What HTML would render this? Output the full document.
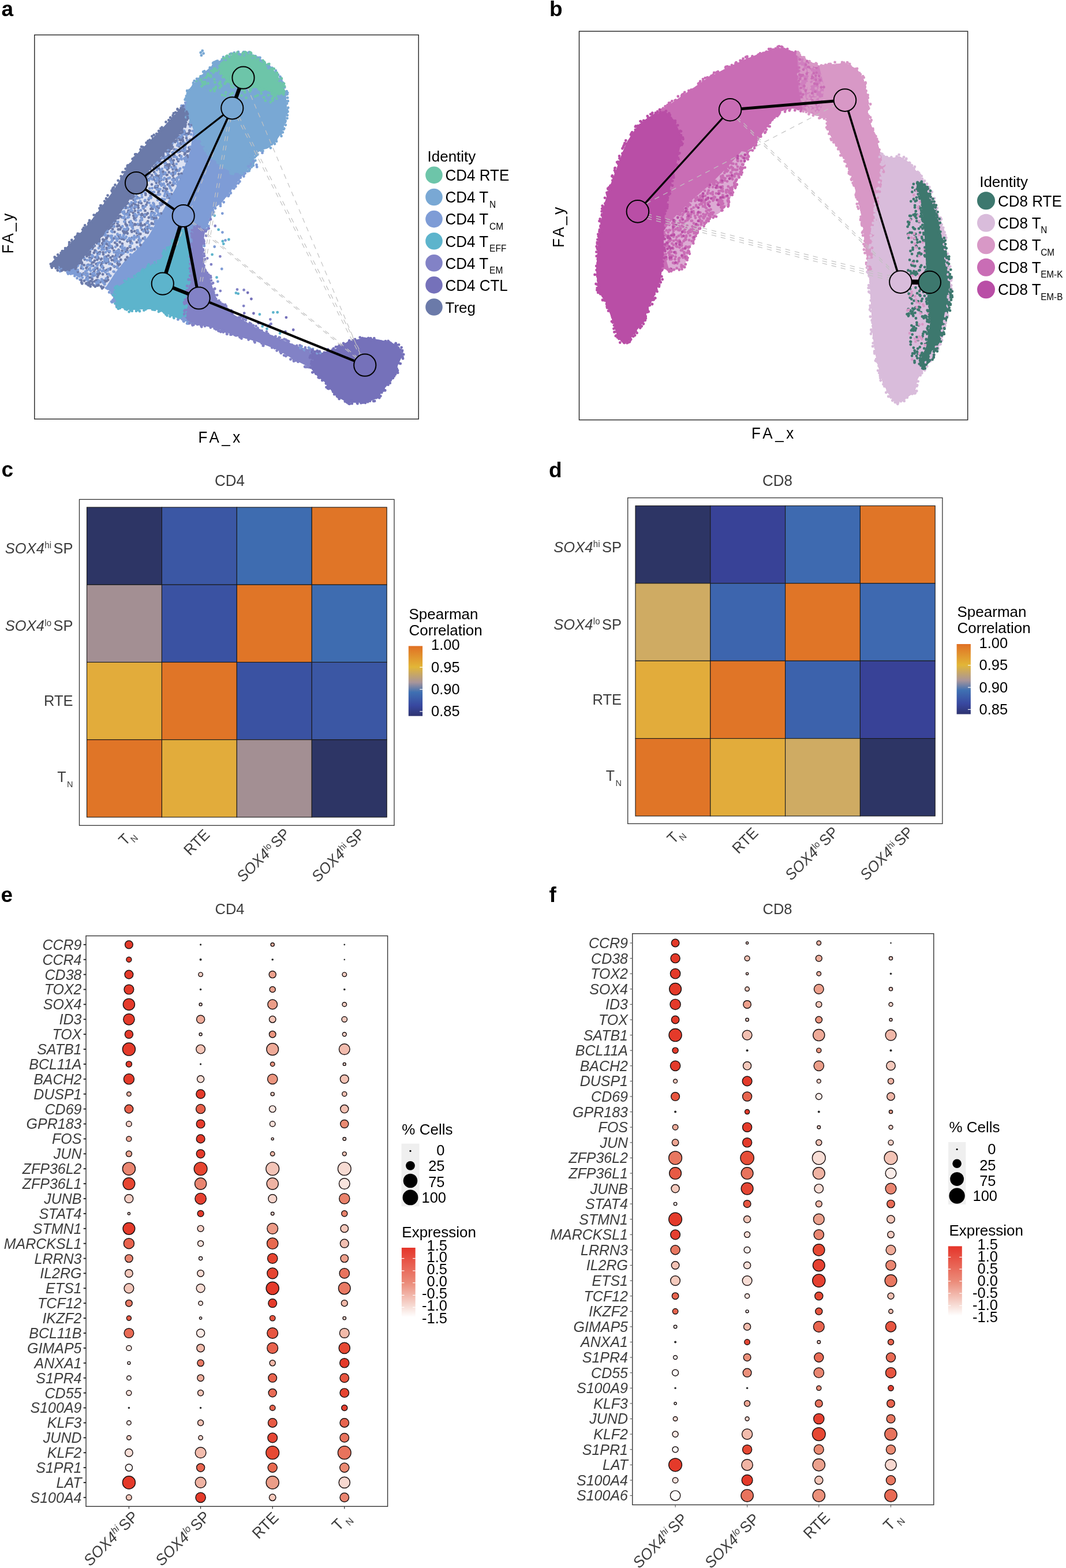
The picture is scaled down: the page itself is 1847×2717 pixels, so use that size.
<!DOCTYPE html>
<html><head><meta charset="utf-8"><title>Figure</title>
<style>
html,body{margin:0;padding:0;background:#fff;width:1847px;height:2717px;overflow:hidden;}
svg{display:block;}
text{font-family:"Liberation Sans", Arial, Helvetica, sans-serif;}
.c{transform-box:fill-box;transform-origin:50% 62%;transform:scaleY(1.04);}
</style></head><body>
<svg xmlns="http://www.w3.org/2000/svg" width="1847" height="2717" viewBox="0 0 1847 2717">
<rect x="0" y="0" width="1847" height="2717" fill="#fff"/>
<rect x="59.8" y="60.5" width="665.4" height="665.6" fill="none" stroke="#222" stroke-width="1.4"/>
<path d="M394.0,99.0 L409.5,92.3 L432.3,93.3 L455.0,104.7 L474.0,121.8 L487.3,140.8 L495.0,159.7 L496.8,184.4 L495.0,209.0 L489.0,228.0 L477.8,245.2 L464.5,256.6 L451.3,260.4 L440.0,270.0 L440.5,280.0 L421.5,302.8 L402.5,327.5 L383.5,352.1 L370.2,361.6 L362.7,378.7 L355.0,401.5 L351.3,424.3 L351.3,447.1 L355.0,462.3 L362.7,481.3 L368.4,498.3 L376.0,519.2 L406.0,545.8 L444.0,568.6 L481.9,586.3 L519.9,601.5 L557.8,611.6 L583.2,604.0 L603.4,591.4 L633.8,585.0 L659.1,588.9 L679.4,594.0 L692.0,601.5 L697.0,616.7 L689.5,631.9 L684.4,652.2 L666.7,672.4 L654.0,690.0 L633.8,697.7 L603.4,697.7 L583.2,687.6 L570.5,672.4 L562.9,662.3 L550.3,652.2 L537.6,637.0 L507.2,621.8 L481.9,606.6 L444.0,591.4 L406.0,581.3 L380.6,571.1 L350.3,563.5 L335.3,562.3 L306.8,550.9 L287.8,543.3 L268.8,535.7 L249.9,535.7 L225.2,537.6 L204.3,531.9 L194.8,520.5 L196.7,511.0 L183.4,497.7 L166.3,495.8 L147.3,494.0 L139.7,482.5 L122.7,473.0 L113.2,469.2 L98.0,465.4 L86.6,457.8 L98.0,445.8 L113.2,430.6 L132.1,411.6 L149.2,392.6 L166.3,371.8 L181.5,350.9 L196.7,330.0 L211.9,305.3 L227.1,280.6 L240.4,263.5 L259.4,244.6 L278.3,225.6 L297.3,204.7 L314.4,185.7 L322.1,178.7 L324.0,165.4 L329.7,152.1 L341.1,138.9 L356.3,123.7 L373.4,108.5 Z" fill="#7e9cd6"/>
<path d="M394.0,99.0 L409.5,92.3 L432.3,93.3 L455.0,104.7 L474.0,121.8 L487.3,140.8 L495.0,159.7 L496.8,184.4 L495.0,209.0 L489.0,228.0 L477.8,245.2 L464.5,256.6 L451.3,260.4 L440.0,270.0 L440.5,280.0 L425.0,298.0 L405.0,300.0 L385.0,290.0 L365.0,270.0 L345.0,240.0 L330.0,215.0 L322.0,195.0 L322.1,178.7 L324.0,165.4 L329.7,152.1 L341.1,138.9 L356.3,123.7 L373.4,108.5 Z" fill="#79a8d4"/>
<path d="M379.0,114.0 L386.7,104.7 L394.0,99.0 L409.5,92.3 L432.3,93.3 L455.0,104.7 L474.0,121.8 L487.3,140.8 L495.0,159.7 L483.5,165.4 L458.8,156.0 L439.9,152.0 L421.0,154.0 L394.3,142.7 L383.0,127.5 Z" fill="#6dc5a9"/>
<path d="M326.0,200.0 L335.0,225.0 L330.0,260.0 L318.0,294.0 L305.0,325.0 L290.0,351.0 L274.0,380.0 L258.0,408.0 L240.0,430.0 L218.0,450.0 L200.0,472.0 L183.4,497.7 L166.3,495.8 L147.3,494.0 L139.7,482.5 L132.0,463.5 L145.0,446.0 L160.0,428.0 L177.7,408.0 L200.0,380.0 L221.0,351.0 L240.0,322.0 L259.0,294.0 L285.0,265.0 L307.0,237.0 L318.0,222.0 Z" fill="#dde2f2"/>
<path d="M182.2 486.0h0M275.0 291.5h0M268.9 325.0h0M319.8 267.5h0M217.4 403.2h0M172.2 437.3h0M282.0 350.3h0M173.7 488.7h0M195.3 444.1h0M286.4 287.8h0M216.7 398.1h0M324.6 243.6h0M329.7 242.2h0M157.1 487.1h0M318.7 257.5h0M144.7 473.9h0M184.2 422.5h0M314.4 300.9h0M187.3 485.1h0M277.5 294.2h0M169.1 438.9h0M205.5 432.9h0M284.8 273.6h0M233.2 411.3h0M216.6 384.7h0M156.6 450.3h0M207.7 419.7h0M179.0 440.7h0M170.5 489.7h0M207.6 457.8h0M253.7 394.0h0M198.4 401.9h0M173.3 436.8h0M243.7 390.3h0M273.2 322.0h0M172.0 416.7h0M298.5 320.9h0M244.0 390.7h0M316.7 226.5h0M258.3 310.4h0M319.9 232.4h0M328.3 258.7h0M157.7 480.8h0M142.8 475.7h0M164.5 433.9h0M182.2 415.8h0M243.7 386.7h0M250.3 326.7h0M265.7 333.0h0M257.6 345.7h0M179.8 427.3h0M290.3 336.4h0M221.7 351.9h0M159.6 455.1h0M297.4 257.7h0M165.5 434.7h0M320.9 219.5h0M203.2 425.1h0M164.2 466.9h0M187.8 442.8h0M318.7 262.0h0M313.8 250.2h0M239.7 389.4h0M205.0 459.9h0M244.7 372.7h0M212.0 437.5h0M287.2 331.7h0M167.9 421.4h0M266.7 293.1h0M313.8 239.3h0M250.5 375.4h0M322.1 272.5h0M290.8 319.7h0M262.9 367.4h0M203.1 392.2h0M280.9 274.0h0M255.4 350.9h0M226.4 420.8h0M220.5 434.7h0M176.1 462.0h0M179.9 421.5h0M198.4 462.0h0M279.1 369.8h0M316.9 243.0h0M251.9 308.2h0M323.7 231.9h0M277.3 309.6h0M288.9 303.2h0M275.0 360.1h0M176.0 456.7h0M150.5 444.1h0M173.0 426.9h0M231.6 346.3h0M293.7 254.9h0M300.9 277.6h0M149.5 464.5h0M185.4 468.3h0M311.4 269.5h0M225.6 358.2h0M263.2 303.7h0M221.1 430.3h0M193.2 409.3h0M303.3 246.0h0M170.4 490.3h0M327.4 230.3h0M233.6 388.3h0M254.6 320.5h0M219.3 370.9h0M284.1 325.4h0M178.4 415.0h0M217.2 432.9h0M224.4 385.0h0M215.1 401.0h0M320.8 254.5h0M329.8 211.4h0M248.6 361.1h0M277.6 352.5h0M324.4 262.5h0M270.9 316.8h0M273.7 304.8h0M294.7 316.7h0M260.8 339.7h0M157.4 448.2h0M204.0 453.2h0M278.5 283.7h0M261.4 396.3h0M289.6 303.1h0M163.0 469.1h0M302.3 258.8h0M272.6 358.0h0M282.6 330.6h0M233.1 360.6h0M246.2 398.1h0M302.6 311.6h0M255.8 403.2h0M258.9 300.8h0M306.9 309.0h0M228.3 356.5h0M288.4 262.7h0M191.5 446.4h0M292.8 298.5h0M251.0 389.0h0M170.6 474.3h0M255.6 395.9h0M256.2 383.6h0M253.1 402.7h0M224.9 427.0h0M206.9 444.9h0M219.4 391.1h0M321.6 216.3h0M156.1 441.2h0M210.6 376.2h0M328.2 226.2h0M308.5 238.4h0M181.2 418.4h0M276.0 337.1h0M321.3 275.6h0M248.7 330.6h0M293.9 308.1h0M262.9 387.5h0M300.0 298.8h0M271.0 379.2h0M187.6 453.4h0M293.9 259.7h0M269.6 338.5h0M237.9 341.9h0M274.3 308.0h0M246.6 319.8h0M230.7 368.9h0M185.1 432.0h0M246.6 390.7h0M164.4 487.5h0M320.3 265.7h0M312.4 241.6h0M259.6 334.7h0M201.0 445.0h0M228.9 387.0h0M308.8 279.3h0M187.0 449.9h0M315.3 234.0h0M330.7 216.9h0M319.8 229.0h0M190.8 466.8h0M214.8 414.8h0M200.0 450.6h0M135.1 471.0h0M300.8 309.3h0M237.5 332.7h0M307.7 295.6h0M276.4 313.5h0M232.4 352.8h0M239.7 360.0h0M253.7 371.6h0M238.2 409.2h0M152.9 458.9h0M306.8 243.8h0M165.4 445.9h0M217.4 450.0h0M321.7 274.2h0M217.7 388.4h0M160.3 488.7h0M186.0 402.0h0M226.7 358.9h0M255.8 369.7h0M276.2 337.2h0M243.3 382.4h0M203.6 456.6h0M145.6 459.4h0M177.7 485.6h0M269.1 383.5h0M237.1 419.9h0M228.5 433.7h0M157.8 459.2h0M250.9 348.2h0M216.8 433.3h0M225.0 415.3h0M197.4 434.3h0M248.8 373.1h0M149.8 473.9h0M197.7 451.1h0M237.0 404.0h0M252.7 304.5h0M246.0 370.9h0M297.6 250.8h0M154.4 466.3h0M254.4 305.1h0M291.9 291.3h0M193.8 450.7h0M251.0 398.9h0M263.3 358.2h0M163.8 426.1h0M197.5 413.0h0M140.9 477.1h0M305.5 293.7h0M324.8 272.3h0M211.1 413.9h0M292.9 272.5h0M169.9 489.2h0M299.6 304.6h0M186.7 448.6h0M278.7 312.2h0M326.6 261.9h0M184.9 467.8h0M251.3 309.6h0M175.1 459.7h0M288.7 314.6h0M265.5 369.0h0M304.8 295.6h0M277.5 284.1h0M306.8 239.3h0M182.4 452.1h0M203.5 387.2h0M195.1 390.0h0M168.5 449.9h0M247.7 413.3h0M270.9 303.9h0M289.6 285.2h0M140.7 454.3h0M292.7 262.6h0M211.9 422.5h0M300.2 283.7h0M150.3 481.7h0M273.7 327.5h0M295.6 277.8h0M261.4 361.9h0M311.6 242.2h0M267.3 378.2h0M225.6 428.1h0M274.4 333.4h0M262.8 386.9h0M320.1 250.2h0M282.7 297.3h0M169.5 445.7h0M300.8 271.3h0M328.9 226.7h0M266.3 353.2h0M221.1 398.3h0M222.0 367.7h0M229.6 392.7h0M266.1 310.7h0M249.9 324.0h0M239.6 368.1h0M168.6 465.0h0M307.0 275.5h0M236.2 375.2h0M300.5 316.7h0M166.8 485.8h0M159.8 431.1h0M192.9 410.6h0M308.8 250.0h0M283.3 301.6h0M207.7 419.5h0M294.5 255.2h0M271.5 313.4h0M161.3 460.6h0M241.3 405.3h0M164.1 451.6h0M249.1 315.5h0M247.5 357.2h0M260.8 308.0h0M189.2 436.8h0M270.3 290.5h0M235.3 389.1h0M222.4 369.3h0M194.6 416.3h0M289.2 327.5h0M186.4 409.7h0M171.9 418.5h0M309.7 301.6h0M214.3 402.1h0M259.1 299.6h0M232.4 378.0h0M279.0 298.0h0M161.0 428.4h0M150.2 442.3h0M217.9 360.4h0M251.5 365.2h0M265.4 379.1h0M199.2 420.6h0M184.3 411.8h0M194.8 430.0h0M323.0 239.3h0M178.3 425.2h0M233.9 365.3h0M168.9 479.8h0M168.0 419.6h0M319.1 248.3h0M181.2 492.4h0M233.3 389.4h0M201.9 438.3h0M315.4 232.1h0M263.0 319.6h0M246.5 322.0h0M173.3 426.0h0M186.3 423.7h0M299.0 284.1h0M312.9 248.1h0M270.6 377.9h0M224.0 372.4h0M311.2 262.5h0M311.4 307.3h0M169.0 457.2h0M317.1 244.9h0M310.4 235.9h0M281.9 349.1h0M280.5 281.3h0M264.6 361.9h0M243.4 405.5h0M277.7 318.9h0M320.0 275.8h0M256.0 312.2h0M155.6 451.0h0M197.8 392.4h0M235.6 376.3h0M208.9 412.0h0M256.4 401.6h0M197.4 387.2h0M278.5 355.4h0M160.8 476.1h0M239.3 356.0h0M204.4 439.1h0M237.8 334.8h0M181.1 448.3h0M306.4 260.0h0M217.9 435.9h0M257.4 310.6h0M206.5 412.1h0M170.9 489.2h0M276.5 310.9h0M267.1 298.1h0M252.3 337.7h0M231.7 352.4h0M282.3 319.6h0M272.3 324.4h0M183.8 455.7h0M244.8 352.1h0M193.8 458.0h0M231.3 373.8h0M206.2 438.6h0M172.7 473.7h0M215.0 368.2h0M293.6 286.8h0M252.2 335.3h0M220.0 390.3h0M141.9 456.8h0M168.6 474.6h0M233.1 400.6h0M269.0 287.8h0M174.8 449.6h0M161.6 473.2h0M301.7 287.4h0M163.3 471.5h0M197.9 450.5h0M162.8 438.0h0M226.3 416.8h0M219.3 402.1h0M155.2 446.6h0M156.8 474.9h0M202.6 423.4h0M178.1 475.3h0M291.9 288.8h0M208.1 397.4h0M151.1 461.7h0M240.7 350.9h0M191.3 465.1h0M201.4 441.3h0M292.7 342.8h0M233.0 432.0h0M277.6 304.0h0M164.9 487.5h0M159.4 446.6h0M220.4 445.7h0M155.5 488.3h0M291.9 275.0h0M302.2 269.1h0M276.2 316.7h0M299.6 320.9h0M301.8 301.1h0M154.5 441.8h0M217.0 380.0h0M187.0 408.7h0M221.7 396.8h0M299.1 254.8h0M187.1 485.1h0M170.5 447.3h0M296.3 274.7h0M258.7 332.2h0M266.2 388.1h0M330.2 217.0h0M245.2 333.3h0M159.8 483.7h0M313.0 243.0h0M251.3 371.7h0M189.0 427.0h0M269.3 313.3h0M272.2 282.6h0M327.3 255.7h0M290.1 293.7h0M162.9 425.4h0M227.5 366.3h0M184.7 429.6h0M322.8 279.0h0M243.4 424.4h0M269.6 322.9h0M194.3 391.9h0M282.7 301.7h0M211.7 439.9h0M237.8 399.3h0M315.0 239.8h0M249.3 320.2h0M302.2 245.0h0M310.4 239.1h0M299.3 281.3h0M205.0 408.2h0M146.7 449.6h0M222.5 365.2h0M293.1 262.2h0M281.4 353.7h0M289.8 340.3h0M293.3 341.8h0M220.7 418.0h0M210.0 441.7h0M250.8 312.8h0M291.6 338.0h0M140.8 464.7h0M197.6 385.9h0M181.4 469.7h0M250.9 389.4h0M275.5 330.9h0M213.2 400.3h0M211.6 434.6h0M151.0 490.6h0M320.9 265.4h0M153.1 489.7h0M257.8 377.0h0M296.7 336.3h0M154.4 490.7h0M193.5 427.0h0M253.5 354.8h0M256.0 393.1h0M310.3 253.5h0M178.8 463.8h0M299.6 293.4h0M259.3 309.3h0M263.9 360.3h0M328.4 226.7h0M184.8 413.1h0M220.9 404.5h0M284.9 274.0h0M184.7 487.1h0M262.6 376.0h0M265.2 378.0h0M273.1 290.5h0M271.6 281.4h0M215.0 405.3h0M222.3 416.8h0M151.3 477.5h0M201.5 447.8h0M177.9 454.5h0M170.6 469.4h0M251.2 396.8h0M151.7 492.6h0M209.8 394.2h0M292.0 274.9h0M293.6 284.9h0M209.3 427.7h0M206.2 391.0h0M301.8 269.9h0M177.1 421.6h0M154.3 480.9h0M166.6 457.4h0M185.9 475.1h0M225.6 417.7h0M266.6 307.5h0M156.3 493.0h0M227.5 420.4h0M233.3 380.1h0M324.5 269.4h0M228.8 352.3h0M175.9 448.3h0M224.2 367.3h0M326.9 244.4h0M186.6 480.4h0M317.7 231.0h0M227.8 400.1h0M228.5 401.8h0M168.6 485.3h0M291.5 269.3h0M179.2 418.9h0M205.0 397.5h0M275.0 330.2h0M328.2 258.4h0M287.5 289.6h0M183.9 444.6h0M240.6 416.0h0M273.4 278.3h0M170.2 476.6h0M210.2 413.5h0M178.6 437.3h0M292.6 268.8h0M218.0 358.7h0M315.1 260.9h0M195.2 397.2h0M177.9 429.6h0M162.7 477.4h0M234.9 355.2h0M205.7 413.2h0M228.8 412.1h0M288.4 310.6h0M316.7 238.4h0M226.6 384.4h0M327.6 215.3h0M190.5 428.6h0M287.3 326.8h0M181.3 489.3h0M326.5 231.9h0M297.1 300.9h0M162.2 454.4h0M283.2 301.7h0M198.4 452.6h0M298.2 279.2h0M285.4 272.7h0M209.3 450.0h0M200.3 444.3h0" stroke="#6b7aa9" stroke-width="4.8" stroke-linecap="round" fill="none"/>
<path d="M202.1 451.2h0M160.2 479.3h0M308.6 263.7h0M213.6 438.9h0M280.9 292.7h0M251.9 328.7h0M277.6 327.8h0M176.5 462.9h0M209.3 411.3h0M320.7 260.1h0M243.0 348.9h0M169.2 471.0h0M308.3 307.7h0M319.6 261.7h0M295.1 326.2h0M236.2 339.4h0M201.1 413.4h0M283.9 270.6h0M315.5 260.1h0M250.9 414.6h0M276.2 281.1h0M142.7 481.1h0M225.4 390.1h0M287.6 273.0h0M215.3 384.0h0M203.5 405.6h0M279.9 305.5h0M324.7 243.3h0M206.3 453.5h0M269.5 301.2h0M155.4 467.2h0M313.7 304.1h0M261.8 342.0h0M298.8 247.7h0M185.6 418.3h0M319.2 226.7h0M171.2 422.7h0M306.3 314.8h0M150.9 459.9h0M255.7 400.2h0M179.2 490.1h0M239.6 402.6h0M294.0 323.3h0M267.9 369.7h0M279.9 321.7h0M186.6 469.1h0M271.7 294.7h0M285.8 278.1h0M187.8 474.7h0M148.8 476.9h0M155.1 459.4h0M221.7 416.2h0M184.1 417.4h0M232.3 414.9h0M286.0 335.8h0M307.3 319.5h0M241.8 420.4h0M227.2 414.0h0M280.0 302.2h0M321.4 255.2h0M159.7 442.5h0M165.3 476.8h0M228.2 434.0h0M182.8 471.7h0M176.9 469.8h0M319.4 247.8h0M270.8 365.0h0M164.9 463.8h0M331.3 241.8h0M271.1 307.9h0M268.0 307.3h0M329.5 219.2h0M156.0 449.1h0M321.2 279.6h0M214.2 407.6h0M145.7 447.2h0M331.2 232.9h0M283.5 280.5h0M258.5 394.5h0M314.7 275.9h0M234.1 371.0h0M245.8 322.9h0M180.1 425.3h0M181.1 445.3h0M200.1 427.8h0M263.7 326.1h0M322.1 272.8h0M197.8 470.9h0M275.4 327.7h0M156.9 452.3h0M277.5 352.0h0M220.0 396.8h0M150.6 468.7h0M186.0 399.7h0M271.8 328.2h0M318.7 229.7h0M234.0 345.4h0M191.3 478.0h0M273.6 372.1h0M330.2 213.5h0M278.8 303.6h0M273.2 309.2h0M276.6 282.4h0M196.6 470.6h0M237.3 343.8h0M235.6 375.1h0M234.1 350.0h0M217.0 397.7h0M188.0 429.2h0M213.6 411.0h0M272.8 281.2h0M238.5 399.5h0M154.0 436.9h0M281.6 345.2h0M230.9 412.0h0M329.8 254.6h0M199.3 453.5h0M171.0 430.0h0M212.7 377.2h0M286.5 299.1h0M270.0 385.9h0M268.9 381.9h0M262.8 379.2h0M315.2 234.5h0M305.9 272.5h0M251.2 312.3h0M296.5 280.1h0M289.6 342.6h0M210.6 438.1h0M284.8 331.1h0M333.6 227.1h0M190.7 409.0h0M306.8 262.4h0M310.2 306.5h0M200.1 383.0h0M149.1 484.4h0M265.3 358.4h0M303.5 300.8h0M267.0 332.9h0M292.4 336.1h0M300.9 311.6h0M176.6 486.0h0M232.9 340.6h0M194.7 402.0h0M242.9 383.6h0M284.9 308.4h0M138.7 478.0h0M186.3 451.8h0M168.0 446.5h0M173.2 467.5h0M221.4 436.9h0M189.0 475.8h0M226.2 434.0h0M182.3 406.9h0M176.1 484.0h0M309.8 306.3h0M163.3 473.5h0M227.8 350.9h0M291.8 258.9h0M278.7 305.2h0M294.1 275.6h0M254.1 386.4h0M157.5 431.4h0M191.3 456.8h0M297.5 330.0h0M307.9 315.5h0M228.4 360.1h0M320.8 259.3h0M247.7 360.1h0M176.2 432.5h0M194.2 416.4h0M263.6 310.6h0M285.7 322.6h0M214.8 396.8h0M245.6 337.3h0M192.9 412.2h0M262.5 395.5h0M190.2 435.4h0M279.0 309.8h0M178.3 488.4h0M197.3 392.4h0M301.0 317.1h0M285.3 283.0h0M286.9 282.2h0M314.2 270.9h0M245.9 323.9h0M317.9 290.1h0M251.0 411.5h0M144.8 475.1h0M159.8 444.5h0M180.9 449.9h0M151.8 481.2h0M214.9 377.9h0M251.3 414.6h0M235.3 350.0h0M278.1 311.3h0M323.5 276.6h0M307.3 252.2h0M228.6 393.3h0M170.8 485.8h0M208.0 407.3h0M213.7 369.6h0M180.9 421.1h0M186.3 434.4h0M206.8 437.8h0M304.1 298.0h0M304.3 290.1h0M306.9 311.7h0M276.1 373.3h0M312.0 237.1h0M273.2 363.7h0M275.8 370.6h0M199.7 410.3h0M289.9 332.6h0M225.7 426.1h0M182.4 403.5h0M313.2 238.0h0M167.2 489.3h0M212.2 392.2h0M250.9 372.8h0M141.3 461.5h0M313.7 273.7h0M249.1 312.8h0M192.1 426.6h0M257.2 298.8h0M244.1 416.4h0M229.0 388.8h0M240.3 409.9h0M197.0 460.9h0M294.5 270.9h0M275.1 357.4h0M322.1 248.6h0M302.7 318.2h0M193.6 408.6h0M161.1 444.2h0M298.6 264.5h0M198.5 448.3h0M181.2 407.6h0M189.2 429.7h0M202.8 461.9h0M189.3 420.1h0M189.3 457.2h0M261.6 343.1h0M160.2 474.2h0M298.4 311.4h0M300.2 263.6h0M284.8 339.5h0M150.1 491.2h0M216.2 371.6h0M260.5 308.8h0M237.3 373.6h0M242.2 326.8h0M180.0 432.3h0M221.7 360.0h0M271.9 313.2h0M244.3 394.8h0M168.8 442.8h0M224.0 413.0h0M202.6 440.2h0M253.0 394.7h0M211.7 367.2h0M170.7 489.9h0M268.5 358.5h0M275.0 288.9h0M278.8 304.2h0M134.0 461.2h0M210.8 429.2h0M285.4 345.7h0M261.2 331.9h0M202.7 417.2h0M189.5 423.2h0M273.2 367.1h0M183.7 482.7h0M326.2 203.9h0M301.7 292.0h0M134.8 467.8h0M238.8 430.5h0M279.0 302.3h0M246.0 341.6h0M152.0 475.5h0M259.2 326.6h0M167.4 436.6h0M306.8 237.7h0M176.1 427.7h0M323.1 234.9h0M152.3 485.3h0M278.8 294.5h0M271.0 322.2h0M295.0 340.4h0M296.9 289.7h0M221.0 377.1h0M297.4 281.9h0M137.9 474.9h0M161.7 467.2h0M267.0 373.6h0M273.2 346.8h0M158.7 460.8h0M263.4 369.6h0M139.0 474.1h0M286.0 289.8h0M244.6 377.2h0M201.8 445.4h0M263.6 395.3h0M251.5 347.0h0M278.5 317.7h0M223.1 376.2h0M135.1 460.1h0M143.8 465.7h0M301.8 271.8h0M183.7 407.8h0M293.7 339.8h0M277.2 336.7h0M297.1 254.1h0M278.2 298.4h0M258.5 390.0h0M316.4 249.2h0M212.2 426.1h0M212.5 430.5h0M319.0 274.6h0M270.4 313.5h0M311.7 307.0h0M273.8 337.2h0M270.3 361.8h0M202.3 435.4h0M250.9 327.9h0M181.2 492.3h0M284.9 301.6h0M184.0 452.4h0M204.4 464.6h0M172.4 439.9h0M270.4 284.0h0M256.3 304.2h0M320.9 273.8h0M265.4 352.0h0M168.5 460.2h0M228.7 364.8h0M293.2 321.6h0M243.9 364.4h0M214.0 438.2h0M309.7 295.9h0M214.7 360.2h0M310.9 294.5h0M161.5 426.7h0M272.7 310.6h0M296.9 301.1h0M203.7 406.4h0M171.6 487.0h0M239.4 364.9h0M241.5 322.1h0M318.7 230.6h0M180.1 431.9h0M283.7 318.5h0M270.1 290.6h0M280.6 344.9h0M294.0 308.3h0M223.5 367.5h0M147.9 470.6h0M254.4 303.2h0M193.0 400.6h0M245.9 377.8h0M192.9 418.8h0M226.6 383.4h0M169.8 456.0h0M303.3 300.6h0M242.2 418.2h0M310.0 276.4h0M151.3 473.9h0M294.3 336.6h0M215.0 366.4h0M304.3 259.3h0M241.0 371.1h0M161.7 474.5h0M215.6 376.1h0M311.0 251.9h0M253.6 308.5h0M213.7 408.5h0M197.8 437.1h0M259.3 334.8h0M318.4 231.3h0M227.9 340.7h0M271.2 381.4h0M226.1 363.7h0M281.9 273.8h0M220.6 394.2h0M307.9 260.5h0M228.7 421.7h0M238.8 388.3h0M173.1 454.9h0M204.6 384.6h0M268.6 387.7h0M150.8 450.8h0M179.6 455.1h0M216.2 429.6h0M232.7 409.0h0M237.6 428.4h0M312.2 292.1h0M248.4 321.5h0M246.6 317.5h0M321.3 251.2h0M241.6 343.4h0M261.4 374.2h0M291.4 309.1h0M179.4 468.1h0M196.8 384.1h0M268.7 387.1h0M257.9 312.5h0M301.0 313.6h0M322.0 277.4h0M248.6 400.5h0M261.3 356.2h0M203.1 463.9h0M288.9 271.6h0M251.6 357.7h0M241.3 413.4h0M290.6 265.8h0M276.1 345.7h0M218.7 410.4h0M185.6 399.2h0M233.5 357.8h0M282.7 346.8h0M221.2 371.4h0M283.2 311.3h0M187.9 466.1h0M216.1 433.1h0M155.8 464.9h0M204.5 442.4h0M307.2 244.9h0M229.5 339.5h0M235.3 381.4h0M309.0 249.0h0M236.0 373.4h0M224.6 354.1h0M177.3 461.2h0M204.0 413.4h0M249.7 332.8h0M198.5 447.2h0M307.5 237.0h0M255.9 385.8h0M246.1 381.1h0M182.9 437.1h0M305.7 309.7h0M220.2 371.9h0M226.9 387.5h0M235.5 358.5h0M177.3 427.8h0M183.5 449.1h0M206.1 434.2h0M270.2 374.3h0M261.9 370.5h0M258.6 351.6h0M253.1 394.2h0M157.3 469.3h0M226.1 441.2h0M167.2 493.0h0M217.3 412.8h0M230.2 395.9h0M288.7 291.0h0M258.0 343.6h0M266.9 355.3h0M235.8 411.4h0M305.6 284.2h0M186.3 448.4h0" stroke="#7e9cd6" stroke-width="4.8" stroke-linecap="round" fill="none"/>
<path d="M372.0,110.0 L379.0,114.0 L383.0,127.5 L394.3,142.7 L421.0,154.0 L439.9,152.0 L458.8,156.0 L483.5,165.4 L492.0,170.0 L470.0,178.0 L440.0,172.0 L410.0,170.0 L380.0,165.0 L350.0,150.0 L338.0,140.0 L356.3,123.7 Z" fill="#79a8d4"/>
<path d="M471.6 170.9h0M424.4 160.2h0M459.8 174.4h0M465.0 164.8h0M434.9 155.5h0M365.5 133.0h0M347.5 132.3h0M380.7 145.7h0M360.5 144.5h0M360.5 127.7h0M402.9 161.4h0M400.0 145.4h0M367.3 119.0h0M448.7 154.4h0M366.3 122.5h0M375.8 122.4h0M404.0 151.3h0M352.1 134.8h0M457.2 168.8h0M370.3 118.7h0M472.6 174.2h0M426.5 169.6h0M383.3 149.2h0M370.2 154.0h0M350.3 143.1h0M418.5 165.6h0M369.3 122.6h0M385.0 164.6h0M373.8 153.1h0M355.4 142.2h0M371.4 137.6h0M349.6 149.5h0M371.7 157.7h0M364.7 156.9h0M433.1 158.4h0M475.7 166.1h0M390.1 165.9h0M442.5 167.1h0M398.9 164.1h0M340.1 141.6h0M372.7 119.1h0M454.1 156.1h0M401.2 150.5h0M352.2 146.7h0M473.5 168.9h0M389.7 145.0h0M372.4 142.8h0M382.4 147.1h0M379.8 144.8h0M364.8 130.8h0M373.9 150.6h0M355.4 145.4h0M366.2 122.6h0M446.4 165.1h0M347.6 138.3h0M381.6 141.8h0M452.6 162.0h0M380.8 152.1h0M419.7 155.4h0M362.8 131.3h0M468.8 177.0h0M357.1 134.3h0M351.0 142.0h0M391.3 160.2h0M479.3 170.8h0M364.2 131.8h0M371.9 123.3h0M359.6 130.4h0M369.8 125.7h0" stroke="#6dc5a9" stroke-width="4.8" stroke-linecap="round" fill="none"/>
<path d="" stroke="#79a8d4" stroke-width="4.8" stroke-linecap="round" fill="none"/>
<path d="M314.4,185.7 L322.0,190.0 L326.0,200.0 L318.0,222.0 L307.0,237.0 L285.0,265.0 L259.0,294.0 L240.0,322.0 L221.0,351.0 L200.0,380.0 L177.7,408.0 L160.0,428.0 L145.0,446.0 L132.0,463.5 L117.0,469.0 L98.0,465.4 L86.6,457.8 L98.0,445.8 L113.2,430.6 L132.1,411.6 L149.2,392.6 L166.3,371.8 L181.5,350.9 L196.7,330.0 L211.9,305.3 L227.1,280.6 L240.4,263.5 L259.4,244.6 L278.3,225.6 L297.3,204.7 Z" fill="#6b7aa9"/>
<path d="M196.7,511.0 L204.3,531.9 L225.2,537.6 L249.9,535.7 L268.8,535.7 L287.8,543.3 L306.8,550.9 L318.0,548.0 L322.0,520.0 L326.0,490.0 L329.0,455.0 L326.0,425.0 L321.0,400.0 L312.0,396.0 L300.0,420.0 L290.0,430.0 L275.0,455.0 L255.0,462.0 L235.0,480.0 L215.0,490.0 L200.0,500.0 Z" fill="#5db4cc"/>
<path d="M335.0,395.0 L345.0,392.0 L355.0,401.5 L351.3,424.3 L351.3,447.1 L355.0,462.3 L362.7,481.3 L368.4,498.3 L376.0,519.2 L406.0,545.8 L444.0,568.6 L481.9,586.3 L519.9,601.5 L540.0,608.0 L537.6,637.0 L507.2,621.8 L481.9,606.6 L444.0,591.4 L406.0,581.3 L380.6,571.1 L350.3,563.5 L335.3,562.3 L318.0,548.0 L322.0,520.0 L330.0,480.0 L332.0,440.0 Z" fill="#8282c6"/>
<path d="M540.0,608.0 L557.8,611.6 L583.2,604.0 L603.4,591.4 L633.8,585.0 L659.1,588.9 L679.4,594.0 L692.0,601.5 L697.0,616.7 L689.5,631.9 L684.4,652.2 L666.7,672.4 L654.0,690.0 L633.8,697.7 L603.4,697.7 L583.2,687.6 L570.5,672.4 L562.9,662.3 L550.3,652.2 L537.6,637.0 Z" fill="#7571ba"/>
<path d="M429.0 296.7h0M420.1 300.3h0M430.2 288.1h0M422.4 303.3h0M438.1 285.4h0M432.9 292.6h0M434.9 284.5h0M439.6 280.0h0M431.7 288.4h0M435.7 286.0h0M438.8 286.8h0M424.7 300.3h0M404.4 326.4h0M413.0 317.6h0M411.8 311.5h0M404.2 321.9h0M405.5 326.4h0M422.4 305.5h0M408.9 318.7h0M413.4 311.1h0M416.8 307.8h0M415.4 314.5h0M408.4 323.2h0M405.0 321.5h0M395.4 339.8h0M398.9 330.2h0M395.1 336.4h0M396.7 337.5h0M398.1 330.5h0M396.0 339.5h0M387.7 350.3h0M399.9 334.5h0M390.5 340.2h0M399.8 326.6h0M387.5 343.5h0M394.8 338.1h0M378.6 352.7h0M378.2 352.7h0M370.8 357.8h0M381.9 353.8h0M373.1 361.0h0M382.0 356.9h0M367.8 371.7h0M367.5 365.7h0M367.2 363.8h0M364.1 376.7h0M368.8 363.6h0M370.3 367.7h0M364.5 373.6h0M369.6 366.9h0M356.5 399.9h0M359.9 392.6h0M358.6 389.1h0M359.7 385.4h0M361.3 392.0h0M362.3 381.6h0M361.3 382.0h0M357.4 392.0h0M355.2 398.7h0M359.1 397.1h0M555.0 611.5h0M551.2 610.2h0M536.9 603.8h0M537.8 607.7h0M549.4 612.0h0M538.8 609.5h0M534.8 602.3h0M536.0 606.1h0M549.6 607.7h0M520.5 603.1h0M526.6 605.6h0M542.0 605.0h0M539.2 608.4h0M527.6 606.6h0M522.6 599.9h0M542.1 608.6h0M308.3 553.5h0M334.1 561.6h0M325.0 558.9h0M324.9 555.5h0M327.6 557.9h0M318.6 557.1h0M308.7 553.4h0M326.0 560.7h0M315.8 553.2h0M324.0 560.4h0M317.9 556.5h0M320.0 555.1h0M205.4 530.1h0M194.0 523.7h0M201.8 529.7h0M195.4 523.2h0M193.2 522.7h0M195.5 520.1h0M198.0 511.5h0M195.6 511.6h0M199.1 511.9h0M188.3 498.8h0M193.4 508.6h0M186.8 500.4h0M184.2 499.1h0M189.2 506.5h0M194.7 505.7h0M195.0 505.7h0M129.4 478.2h0M138.5 484.6h0M127.1 472.1h0M122.7 474.6h0M123.6 473.9h0M134.7 476.7h0M126.3 473.7h0M133.6 482.0h0M119.5 473.8h0M116.8 471.9h0M121.5 469.9h0M118.0 474.6h0M104.1 470.0h0M104.0 470.0h0M106.3 466.7h0M104.6 468.9h0M101.2 463.1h0M101.5 463.4h0M317.4 183.3h0M318.8 184.2h0M314.5 183.2h0M318.1 182.8h0M321.3 178.0h0" stroke="#7e9cd6" stroke-width="4.8" stroke-linecap="round" fill="none"/>
<path d="M396.7 98.9h0M395.2 98.7h0M398.5 94.0h0M400.7 92.9h0M399.6 93.6h0M395.2 97.9h0M405.9 91.3h0M423.7 95.8h0M422.7 92.2h0M431.9 90.4h0M429.1 91.8h0M412.9 90.0h0M416.4 94.6h0M413.6 93.0h0M424.1 92.1h0M422.1 90.1h0M436.5 96.7h0M442.5 97.1h0M445.7 99.7h0M438.3 98.4h0M448.9 99.8h0M445.3 100.0h0M451.5 104.6h0M437.5 99.3h0M435.2 94.2h0M450.5 99.9h0M455.0 106.2h0M469.2 118.1h0M472.4 118.8h0M467.8 117.0h0M466.2 114.4h0M469.1 121.2h0M463.3 113.6h0M455.3 106.7h0M465.2 118.1h0M471.5 117.7h0M485.4 132.8h0M481.9 129.4h0M477.9 122.4h0M486.2 135.0h0M477.9 126.1h0M487.8 136.8h0M479.7 130.5h0M484.1 139.8h0M486.7 137.4h0M487.8 148.5h0M496.7 158.1h0M490.2 143.5h0M489.2 145.2h0M493.2 151.4h0M487.8 140.7h0M489.8 147.9h0M493.5 159.3h0M495.0 175.0h0M492.5 161.2h0M494.0 179.1h0M497.1 179.4h0M498.2 169.4h0M498.9 175.2h0M497.0 161.2h0M496.3 163.6h0M498.3 160.8h0M497.8 163.3h0M494.4 184.9h0M497.9 199.7h0M497.3 190.7h0M498.6 193.5h0M492.1 205.1h0M496.1 195.9h0M499.2 186.7h0M497.7 192.9h0M497.5 204.9h0M493.9 184.8h0M493.9 211.7h0M494.7 209.5h0M486.9 226.9h0M492.3 222.7h0M494.8 216.6h0M490.2 223.6h0M491.4 224.1h0M491.8 212.6h0M477.8 241.6h0M478.5 241.2h0M486.4 231.8h0M487.5 235.8h0M489.9 229.3h0M485.1 231.8h0M478.6 244.6h0M475.9 242.4h0M479.0 244.9h0M476.0 249.3h0M474.6 246.9h0M464.4 253.8h0M470.8 249.9h0M468.9 256.3h0M467.3 250.7h0M466.4 252.9h0M461.6 255.5h0M459.6 256.0h0M451.9 260.9h0M458.4 255.4h0M455.5 261.4h0M447.9 259.9h0M443.7 269.9h0M440.0 266.0h0M444.5 267.4h0M446.6 267.5h0M449.2 258.2h0M437.5 275.4h0M437.8 274.5h0M442.3 278.2h0M441.4 272.5h0M321.7 170.7h0M320.6 172.8h0M322.9 166.5h0M323.5 172.7h0M323.3 166.6h0M327.0 158.8h0M324.2 157.2h0M324.6 158.7h0M325.8 166.1h0M324.8 163.0h0M328.5 155.9h0M335.9 145.5h0M336.7 140.1h0M334.9 143.7h0M334.2 149.6h0M335.8 145.7h0M340.4 143.8h0M335.3 146.7h0M349.8 132.0h0M348.1 132.2h0M350.4 133.6h0M353.4 130.0h0M354.3 123.5h0M351.6 132.4h0M352.2 124.5h0M342.7 136.8h0M341.0 136.6h0M369.0 114.9h0M370.2 108.4h0M369.2 113.6h0M360.4 123.4h0M371.7 107.7h0M372.2 108.7h0M366.7 118.6h0M369.1 109.4h0M363.7 117.2h0M376.9 105.6h0M387.0 98.8h0M384.7 102.9h0M373.3 107.3h0M386.3 102.6h0M376.0 110.7h0M390.9 103.8h0M374.9 106.1h0M375.0 109.7h0M438.8 282.6h0M424.9 295.2h0M438.1 286.0h0M425.9 296.3h0M431.5 294.2h0M438.8 280.3h0M435.9 289.3h0M412.1 297.5h0M423.1 296.0h0M423.5 296.0h0M416.0 299.9h0M413.7 296.6h0M419.9 300.7h0M399.2 299.7h0M400.6 300.8h0M400.5 299.0h0M399.6 295.6h0M399.2 297.1h0M401.0 299.0h0M404.0 301.2h0M370.6 275.1h0M381.1 286.3h0M364.6 273.0h0M368.3 273.9h0M376.5 278.7h0M377.2 282.1h0M373.3 274.2h0M379.6 281.7h0M351.8 251.2h0M355.8 261.1h0M360.3 267.5h0M349.0 248.6h0M359.7 266.5h0M350.0 243.5h0M350.5 250.6h0M359.1 263.4h0M354.1 257.4h0M354.9 257.4h0M348.1 239.6h0M343.7 232.5h0M339.6 232.7h0M344.4 240.3h0M337.9 228.1h0M342.0 235.0h0M343.7 240.6h0M343.1 238.1h0M341.9 240.4h0M339.1 233.2h0M327.2 203.9h0M325.9 201.4h0M322.4 197.7h0M330.1 207.4h0M330.1 211.5h0M322.3 203.2h0M325.5 197.4h0M323.9 183.0h0M322.2 192.7h0M324.1 186.8h0M324.0 181.9h0M324.4 185.5h0" stroke="#79a8d4" stroke-width="4.8" stroke-linecap="round" fill="none"/>
<path d="M404.1 92.8h0M393.6 96.6h0M398.6 94.3h0M407.1 93.7h0M404.1 95.5h0M404.5 94.4h0M394.8 100.7h0M421.0 93.0h0M424.7 90.2h0M426.4 91.5h0M411.3 90.9h0M426.2 91.1h0M426.2 96.1h0M420.8 92.0h0M420.4 94.0h0M427.0 93.8h0M435.1 92.2h0M437.4 97.6h0M439.0 97.2h0M433.8 90.9h0M437.9 97.3h0M447.5 102.2h0M438.9 96.7h0M442.9 98.4h0M433.9 96.9h0M435.4 98.3h0M455.5 104.8h0M468.6 120.9h0M464.5 111.3h0M457.1 110.4h0M458.7 108.7h0M457.6 107.2h0M474.7 119.2h0M470.5 118.8h0M471.0 120.8h0M457.7 110.5h0M466.3 110.8h0M480.8 131.0h0M479.9 126.2h0M479.5 127.7h0M487.8 135.9h0M482.2 137.3h0M473.4 125.6h0M481.4 136.8h0M478.5 126.8h0M476.6 131.1h0M490.5 147.4h0M492.1 144.9h0M486.1 143.5h0M486.9 147.3h0M490.6 144.9h0M493.1 149.7h0M487.5 149.0h0M492.3 158.3h0M388.1 107.2h0M384.2 109.7h0M380.5 114.4h0M383.6 110.8h0M387.1 100.9h0M392.1 97.7h0M389.6 101.3h0M485.2 161.4h0M491.6 160.3h0M491.4 161.1h0M491.4 163.7h0M479.2 161.2h0M470.6 162.3h0M462.2 154.1h0M471.6 163.2h0M477.9 165.9h0M474.2 164.5h0M477.1 164.5h0M470.3 157.9h0M450.9 154.9h0M448.7 154.6h0M451.9 157.2h0M454.1 152.1h0M456.4 155.5h0M447.4 151.4h0M434.9 154.0h0M432.4 153.1h0M421.7 151.8h0M423.7 156.6h0M439.2 150.8h0M408.6 148.2h0M420.7 154.6h0M397.0 141.7h0M399.3 141.7h0M413.5 153.4h0M416.9 152.1h0M403.8 143.9h0M402.1 145.0h0M400.5 145.6h0M395.2 141.1h0M393.7 137.7h0M386.1 133.6h0M391.7 141.6h0M388.1 132.3h0M391.0 142.5h0M380.0 119.8h0M382.7 124.3h0M381.8 127.7h0M383.8 120.5h0" stroke="#6dc5a9" stroke-width="4.8" stroke-linecap="round" fill="none"/>
<path d="M170.7 494.1h0M179.0 497.8h0M176.9 499.7h0M168.6 494.9h0M175.1 496.5h0M164.9 496.6h0M153.3 494.3h0M156.7 496.4h0M162.2 494.3h0M160.1 492.4h0M149.4 491.2h0M141.3 489.5h0M142.3 491.4h0M145.9 486.6h0M140.8 485.7h0" stroke="#6b7aa9" stroke-width="4.8" stroke-linecap="round" fill="none"/>
<path d="" stroke="#6dc5a9" stroke-width="4.8" stroke-linecap="round" fill="none"/>
<path d="M95.2 460.6h0M88.8 461.0h0M89.9 463.8h0M87.8 457.6h0M96.8 464.4h0M93.0 460.7h0M97.5 447.4h0M88.9 458.3h0M95.8 446.3h0M96.4 450.9h0M94.7 445.3h0M95.0 446.6h0M108.3 435.2h0M113.1 433.5h0M115.2 432.8h0M107.8 438.1h0M107.7 435.2h0M105.6 438.3h0M100.2 441.4h0M112.4 434.5h0M109.5 436.1h0M124.8 420.5h0M113.1 430.2h0M130.2 410.8h0M120.1 419.8h0M119.5 427.2h0M115.2 431.3h0M130.0 417.1h0M120.0 427.7h0M120.0 423.3h0M131.4 412.7h0M124.3 415.9h0M134.7 404.9h0M145.0 394.9h0M149.3 394.2h0M136.4 408.9h0M137.7 405.7h0M135.0 411.6h0M145.9 397.0h0M143.1 397.8h0M133.5 408.4h0M145.1 397.8h0M153.2 387.5h0M147.2 390.4h0M155.1 381.8h0M162.6 372.6h0M163.5 378.2h0M154.8 386.2h0M166.7 372.4h0M158.2 386.5h0M155.9 389.0h0M154.1 385.8h0M178.2 359.6h0M175.1 356.2h0M182.5 351.9h0M175.8 362.5h0M168.4 369.9h0M179.7 356.4h0M174.3 356.1h0M172.4 360.9h0M175.0 358.7h0M173.4 362.4h0M193.9 331.5h0M184.0 344.0h0M185.0 349.9h0M193.5 330.3h0M189.1 344.9h0M197.1 334.6h0M195.6 329.4h0M181.2 348.6h0M186.6 338.6h0M185.2 345.5h0M197.0 324.9h0M199.5 320.5h0M196.4 325.6h0M210.9 311.5h0M199.0 330.0h0M210.3 309.7h0M203.0 323.7h0M195.5 326.5h0M209.7 305.5h0M212.0 308.2h0M195.2 327.5h0M204.6 312.8h0M220.7 287.8h0M217.6 292.6h0M225.9 284.2h0M223.1 288.6h0M214.9 305.1h0M223.8 286.1h0M220.8 290.7h0M223.6 286.8h0M216.2 298.5h0M212.4 298.4h0M221.8 293.7h0M221.2 286.6h0M235.3 270.9h0M233.3 272.8h0M238.2 270.3h0M235.4 272.9h0M234.2 267.5h0M229.6 275.4h0M231.8 274.5h0M233.5 277.5h0M236.2 267.5h0M256.4 244.5h0M254.4 253.7h0M249.2 258.1h0M254.9 247.5h0M244.5 262.2h0M247.6 255.0h0M250.2 255.8h0M259.3 248.5h0M253.5 247.5h0M245.2 254.3h0M243.5 259.0h0M266.7 233.9h0M271.3 231.8h0M264.9 240.7h0M263.4 236.2h0M276.4 229.8h0M275.1 227.0h0M265.3 240.5h0M264.3 243.9h0M272.0 232.4h0M259.4 242.6h0M295.3 203.6h0M287.5 211.4h0M297.9 206.4h0M294.9 209.7h0M280.5 220.7h0M279.3 225.0h0M278.4 222.6h0M283.6 223.8h0M292.3 208.2h0M295.1 203.8h0M280.4 222.2h0M300.4 204.1h0M308.0 195.6h0M300.9 196.3h0M300.1 203.8h0M307.2 196.2h0M299.6 200.0h0M302.6 202.2h0M307.7 189.9h0M307.5 188.9h0M304.1 194.8h0M311.4 191.1h0M317.2 184.2h0M318.7 189.5h0M313.5 187.5h0M323.3 193.7h0M322.2 197.5h0M324.5 196.5h0M325.1 197.7h0M322.1 212.2h0M323.9 207.6h0M325.3 205.3h0M317.8 215.6h0M320.4 209.3h0M324.9 202.7h0M318.5 215.8h0M313.9 222.9h0M310.6 230.6h0M316.1 228.6h0M312.2 230.9h0M307.4 234.8h0M293.3 252.0h0M301.7 238.9h0M293.8 252.9h0M304.8 243.8h0M290.4 255.9h0M293.5 256.6h0M295.0 249.6h0M291.0 253.4h0M303.7 238.5h0M306.1 236.9h0M297.3 253.5h0M266.0 282.9h0M283.0 267.2h0M266.0 289.6h0M259.8 289.1h0M277.4 276.1h0M282.5 270.3h0M273.2 276.3h0M260.4 291.9h0M260.5 292.9h0M270.1 286.1h0M276.2 279.1h0M280.2 267.6h0M253.2 302.3h0M251.4 310.3h0M256.0 296.5h0M253.3 306.7h0M250.5 307.8h0M242.3 323.5h0M257.7 300.5h0M246.2 307.9h0M246.2 317.1h0M249.5 309.6h0M226.0 342.2h0M235.4 329.6h0M230.6 337.7h0M231.3 339.7h0M229.6 332.6h0M232.4 333.6h0M224.1 342.8h0M226.6 343.7h0M228.0 343.6h0M230.7 341.5h0M238.0 328.7h0M207.8 374.1h0M204.6 377.9h0M198.9 377.0h0M206.4 367.6h0M201.5 378.5h0M205.3 377.5h0M203.9 373.1h0M206.4 374.8h0M219.1 353.3h0M207.4 367.9h0M216.9 356.0h0M192.9 385.9h0M177.8 406.3h0M190.6 392.6h0M191.3 394.5h0M199.4 382.9h0M194.3 383.4h0M190.2 388.7h0M185.6 394.3h0M179.0 404.3h0M191.2 393.5h0M188.3 396.5h0M176.3 408.3h0M172.1 415.1h0M165.9 416.9h0M160.8 428.4h0M158.7 425.3h0M168.1 418.3h0M172.9 410.8h0M167.9 416.7h0M149.7 438.5h0M153.5 439.3h0M155.1 437.9h0M155.1 429.4h0M156.0 436.2h0M155.5 437.5h0M152.1 440.0h0M134.7 455.6h0M143.8 445.5h0M137.5 456.2h0M141.9 455.1h0M140.3 452.1h0M138.3 450.1h0M118.7 466.4h0M120.1 467.9h0M123.8 464.3h0M130.8 465.7h0M131.8 463.6h0M99.3 463.0h0M109.3 467.6h0M115.3 467.1h0M106.8 469.1h0M99.8 468.5h0M113.3 468.4h0" stroke="#6b7aa9" stroke-width="4.8" stroke-linecap="round" fill="none"/>
<path d="M199.2 513.4h0M203.7 527.2h0M206.7 529.4h0M199.7 515.6h0M205.5 527.9h0M199.5 525.9h0M202.3 532.0h0M197.2 512.0h0M200.6 514.7h0M219.5 536.6h0M207.4 531.3h0M205.0 534.9h0M220.1 536.0h0M223.6 540.3h0M209.0 531.6h0M208.1 533.8h0M216.7 535.4h0M238.2 535.4h0M241.9 539.2h0M226.4 537.4h0M228.8 538.9h0M236.0 538.9h0M242.0 539.3h0M239.6 537.1h0M249.4 537.7h0M233.4 534.4h0M247.7 533.1h0M267.5 536.7h0M267.8 536.4h0M264.0 536.3h0M254.1 533.0h0M263.9 535.4h0M252.3 536.1h0M254.9 534.2h0M266.5 536.5h0M284.5 541.5h0M277.5 538.7h0M274.9 540.1h0M286.1 541.2h0M283.0 539.4h0M268.5 536.9h0M284.0 540.6h0M287.2 544.6h0M301.4 551.1h0M289.5 546.8h0M296.6 545.3h0M294.9 546.3h0M298.3 546.1h0M288.6 544.5h0M301.0 549.9h0M294.5 548.4h0M307.5 547.7h0M313.0 549.4h0M309.4 550.4h0M320.9 547.4h0M319.0 522.8h0M320.7 529.6h0M322.2 533.2h0M323.2 530.4h0M323.2 529.3h0M320.4 545.0h0M321.8 539.4h0M327.4 491.2h0M323.7 508.3h0M322.5 496.2h0M324.6 503.9h0M323.9 498.3h0M325.8 502.0h0M324.6 508.7h0M324.8 492.8h0M324.0 504.2h0M325.5 480.4h0M328.1 476.3h0M329.3 484.8h0M328.9 472.5h0M324.4 475.3h0M327.6 476.5h0M329.1 487.1h0M327.5 469.4h0M324.6 488.9h0M327.9 478.3h0M326.4 483.9h0M328.4 437.9h0M328.9 439.3h0M324.6 436.6h0M326.9 435.3h0M329.3 432.0h0M330.0 444.2h0M329.2 448.0h0M330.9 454.6h0M327.4 441.6h0M322.5 416.0h0M323.3 407.5h0M324.4 423.9h0M320.1 402.0h0M325.0 417.6h0M326.8 415.2h0M318.9 400.9h0M322.9 419.8h0M318.9 397.9h0M312.0 398.8h0M319.8 402.0h0M310.8 399.4h0M306.4 404.1h0M297.8 417.9h0M306.2 405.7h0M309.8 398.9h0M299.3 416.2h0M312.1 400.3h0M300.1 417.1h0M298.8 420.2h0M298.8 419.2h0M292.8 428.7h0M299.0 419.0h0M289.5 429.5h0M283.5 437.3h0M276.2 454.6h0M284.1 434.0h0M283.9 440.9h0M284.2 437.1h0M275.4 454.7h0M277.7 451.7h0M282.1 439.6h0M274.1 453.5h0M257.6 458.4h0M255.9 461.5h0M268.2 460.5h0M264.7 459.5h0M274.0 452.2h0M268.0 454.7h0M275.0 455.9h0M240.8 473.3h0M246.9 472.6h0M237.3 475.8h0M245.2 470.3h0M238.9 476.5h0M245.6 470.6h0M239.3 474.2h0M247.2 466.8h0M221.9 487.4h0M215.8 486.6h0M219.8 488.4h0M228.2 483.9h0M224.2 488.5h0M222.9 483.2h0M232.7 478.5h0M199.3 498.9h0M203.4 495.9h0M210.0 496.1h0M200.9 496.7h0M205.1 498.6h0M199.1 505.9h0M198.6 505.5h0M196.0 510.6h0" stroke="#5db4cc" stroke-width="4.8" stroke-linecap="round" fill="none"/>
<path d="M353.7 422.5h0M352.9 419.2h0M352.4 415.1h0M353.5 418.6h0M353.3 417.1h0M352.1 419.3h0M349.5 415.7h0M357.1 408.4h0M351.5 421.9h0M350.5 415.9h0M348.2 433.1h0M349.8 433.2h0M352.2 443.3h0M352.2 433.9h0M351.9 432.1h0M354.1 443.6h0M349.4 446.9h0M350.4 437.1h0M349.6 431.1h0M352.1 444.2h0M353.7 450.0h0M353.6 460.3h0M352.1 454.1h0M355.1 449.2h0M352.2 452.6h0M351.7 450.0h0M355.6 467.9h0M356.3 469.7h0M361.5 476.2h0M353.2 463.7h0M358.8 473.0h0M360.0 475.4h0M364.9 478.4h0M361.8 481.0h0M365.5 497.5h0M369.1 490.4h0M366.8 491.7h0M364.0 491.7h0M361.4 484.2h0M366.0 486.1h0M365.3 481.1h0M369.8 510.3h0M371.0 501.4h0M370.4 506.4h0M370.1 506.1h0M372.3 500.4h0M371.5 510.9h0M372.1 500.1h0M376.1 511.3h0M374.3 518.1h0M390.2 528.0h0M379.3 520.8h0M400.6 544.5h0M398.0 539.9h0M393.5 534.8h0M395.7 536.6h0M386.5 531.4h0M385.4 526.8h0M394.4 539.5h0M386.6 528.0h0M389.3 528.5h0M385.4 530.0h0M381.7 524.1h0M384.2 527.1h0M400.8 537.9h0M391.9 530.6h0M432.7 559.7h0M415.4 550.0h0M417.2 555.4h0M438.3 567.3h0M421.1 554.5h0M413.8 550.2h0M443.5 565.2h0M422.0 553.1h0M438.8 564.0h0M426.0 554.5h0M432.2 561.6h0M435.7 565.3h0M435.1 561.5h0M415.2 552.1h0M406.4 549.3h0M433.4 562.2h0M421.1 551.7h0M426.2 559.9h0M447.3 571.4h0M461.0 578.6h0M458.3 578.7h0M477.6 583.0h0M464.1 578.6h0M460.2 578.4h0M469.9 582.9h0M453.6 573.1h0M464.4 578.7h0M443.8 570.7h0M461.9 574.6h0M476.2 584.1h0M471.4 583.1h0M466.5 582.0h0M446.6 568.6h0M449.8 572.3h0M483.8 584.6h0M488.4 589.2h0M499.3 593.0h0M482.3 586.7h0M492.5 587.7h0M484.9 585.1h0M497.9 590.4h0M500.3 591.3h0M508.9 599.7h0M495.2 588.7h0M519.6 598.5h0M506.0 597.7h0M499.3 596.0h0M487.0 589.8h0M515.4 602.4h0M514.3 598.8h0M511.5 624.8h0M528.5 635.8h0M530.4 636.0h0M508.8 624.0h0M528.2 628.9h0M516.4 626.9h0M534.0 636.2h0M530.0 630.0h0M526.2 627.9h0M528.1 635.5h0M509.0 625.8h0M513.9 624.5h0M529.9 630.8h0M525.9 627.7h0M484.7 605.1h0M498.3 615.0h0M489.3 609.9h0M507.2 620.4h0M486.9 611.9h0M503.4 622.7h0M492.1 615.7h0M485.5 609.4h0M482.8 605.4h0M495.3 617.0h0M496.8 614.7h0M486.7 606.6h0M481.4 605.3h0M456.2 595.3h0M452.2 592.5h0M459.0 595.2h0M478.2 602.0h0M455.7 598.9h0M475.9 603.2h0M471.3 599.4h0M471.3 602.4h0M463.9 596.3h0M471.3 599.7h0M454.7 595.2h0M447.0 589.9h0M453.6 594.9h0M479.6 607.6h0M456.3 599.0h0M430.6 588.6h0M413.3 581.0h0M415.5 584.2h0M424.4 583.0h0M409.0 581.4h0M441.7 588.1h0M441.6 593.3h0M418.5 586.6h0M415.7 582.6h0M438.4 587.2h0M406.3 580.3h0M407.2 579.6h0M426.6 584.6h0M408.7 580.7h0M440.6 591.3h0M417.0 585.1h0M393.6 578.8h0M393.0 578.8h0M386.9 575.6h0M381.3 574.1h0M390.3 574.0h0M401.3 578.5h0M392.3 575.0h0M401.2 579.5h0M385.0 572.1h0M399.4 579.8h0M382.6 575.0h0M364.9 567.6h0M379.9 573.5h0M355.0 565.0h0M371.7 569.2h0M378.4 573.3h0M355.9 563.2h0M374.3 570.7h0M378.0 571.6h0M365.2 565.6h0M365.8 565.1h0M350.5 563.1h0M378.7 573.0h0M348.5 560.8h0M349.3 566.3h0M335.3 562.9h0M342.0 562.2h0M348.4 564.4h0M344.9 561.5h0M341.4 391.1h0M340.3 396.0h0M336.5 393.6h0M356.9 399.4h0M352.1 398.4h0M348.9 398.5h0M345.6 393.3h0M534.7 607.6h0M528.9 602.2h0M534.9 607.6h0M530.8 606.6h0M539.4 606.2h0M533.2 607.7h0M538.9 634.3h0M537.2 635.7h0M535.4 636.0h0M538.9 630.7h0M538.4 621.2h0M538.6 631.4h0M539.5 634.2h0M540.9 623.3h0M328.5 560.2h0M325.9 553.6h0M329.6 555.3h0M326.6 553.6h0M333.2 561.9h0M333.6 563.6h0M319.1 544.3h0M320.5 537.6h0M323.4 523.9h0M324.6 521.4h0M322.5 537.3h0M319.7 526.5h0M319.5 538.8h0M319.0 524.0h0M322.6 523.2h0M324.6 503.6h0M326.5 504.0h0M326.8 502.5h0M326.6 484.5h0M324.7 519.8h0M325.4 512.6h0M323.6 503.5h0M321.7 519.4h0M324.2 495.5h0M320.8 519.3h0M330.5 485.1h0M323.5 509.6h0M330.1 451.6h0M330.7 465.8h0M330.1 470.5h0M331.5 450.1h0M329.2 477.7h0M329.5 457.1h0M331.1 464.5h0M328.8 465.3h0M329.1 444.9h0M329.4 443.6h0M331.4 457.9h0M331.6 463.7h0M330.3 425.5h0M334.9 431.2h0M335.3 413.2h0M332.1 422.4h0M334.5 409.0h0M332.7 398.8h0M334.2 424.6h0M334.5 399.2h0M332.0 404.4h0M332.9 411.1h0M332.9 408.7h0M331.2 431.5h0M335.4 407.5h0M334.2 398.9h0" stroke="#8282c6" stroke-width="4.8" stroke-linecap="round" fill="none"/>
<path d="M577.9 604.0h0M576.0 606.1h0M568.2 605.3h0M564.0 611.4h0M570.2 610.4h0M578.4 605.7h0M581.9 601.1h0M568.0 608.8h0M559.8 613.5h0M561.8 611.0h0M590.8 599.0h0M587.9 598.6h0M597.1 596.3h0M586.4 605.6h0M584.4 601.2h0M588.4 599.7h0M594.5 600.0h0M585.5 603.1h0M595.0 594.8h0M617.4 591.0h0M627.0 586.3h0M605.3 590.1h0M628.1 585.8h0M615.5 589.8h0M604.8 592.1h0M623.7 584.6h0M616.6 591.0h0M611.4 589.9h0M614.0 589.5h0M615.1 587.9h0M631.8 586.7h0M642.3 586.1h0M642.7 588.7h0M642.9 587.6h0M638.2 586.0h0M640.2 588.7h0M642.6 589.3h0M648.3 586.2h0M647.3 589.9h0M651.0 589.8h0M648.0 588.0h0M637.0 587.6h0M672.6 591.0h0M674.5 593.0h0M664.8 593.6h0M674.5 593.9h0M675.8 594.4h0M666.2 593.7h0M677.2 594.6h0M667.9 591.1h0M659.4 591.5h0M687.0 598.3h0M691.1 597.4h0M685.3 595.6h0M687.5 597.8h0M685.7 600.7h0M685.8 595.0h0M696.4 614.1h0M697.1 607.3h0M695.6 602.1h0M699.2 614.2h0M693.8 606.3h0M696.6 609.7h0M689.4 625.0h0M697.5 618.7h0M697.4 618.9h0M698.1 621.3h0M692.2 629.6h0M689.6 627.1h0M693.8 630.1h0M684.3 649.0h0M686.9 644.3h0M685.1 648.5h0M687.7 639.0h0M689.0 642.0h0M684.0 645.0h0M689.2 645.9h0M685.8 639.7h0M674.6 661.6h0M675.8 663.7h0M683.1 651.7h0M681.0 655.1h0M674.0 661.9h0M680.1 652.5h0M669.4 665.7h0M680.1 655.0h0M676.7 659.0h0M672.5 666.7h0M661.3 680.2h0M659.4 686.3h0M656.2 688.8h0M657.3 689.3h0M664.7 674.2h0M664.0 676.9h0M663.0 675.1h0M656.4 684.7h0M667.3 676.5h0M651.9 689.3h0M642.0 691.6h0M637.1 695.4h0M637.3 696.3h0M649.1 694.9h0M639.4 694.4h0M641.2 694.8h0M643.9 691.0h0M647.2 695.1h0M610.7 695.2h0M603.8 698.1h0M629.1 697.7h0M618.9 698.4h0M609.9 699.3h0M604.3 699.5h0M625.2 695.6h0M626.7 696.3h0M625.5 698.3h0M619.5 699.3h0M608.8 694.9h0M605.7 699.9h0M633.0 698.1h0M593.7 689.5h0M584.0 686.7h0M597.8 695.6h0M601.8 697.6h0M587.7 691.2h0M599.8 695.6h0M585.7 687.8h0M601.0 697.0h0M599.7 693.6h0M579.4 679.3h0M579.2 683.3h0M569.8 673.5h0M577.1 678.8h0M579.6 682.0h0M579.5 679.8h0M577.2 678.2h0M576.9 678.1h0M568.7 671.4h0M565.5 671.0h0M564.8 664.5h0M567.9 666.8h0M568.1 673.2h0M563.9 660.0h0M558.4 654.8h0M551.7 654.1h0M558.3 659.2h0M553.1 654.7h0M555.8 652.6h0M553.5 654.7h0M544.4 644.4h0M547.1 644.0h0M538.1 636.9h0M541.3 645.3h0M545.2 641.8h0M548.6 647.4h0M548.1 647.5h0M547.2 647.5h0M540.2 610.1h0M549.6 608.4h0M545.4 609.4h0M553.6 608.8h0M541.6 606.7h0M551.4 609.7h0M538.6 615.8h0M536.9 619.7h0M539.9 619.4h0M539.2 630.2h0M540.8 633.2h0M541.4 621.3h0M537.5 617.5h0M540.0 615.8h0M539.7 626.1h0" stroke="#7571ba" stroke-width="4.8" stroke-linecap="round" fill="none"/>
<path d="M467.6 562.8h0M422.2 530.1h0M468.3 553.3h0M422.6 502.4h0M411.0 501.6h0M381.8 504.1h0M469.6 561.2h0M426.6 551.4h0M417.2 549.9h0" stroke="#8282c6" stroke-width="4.8" stroke-linecap="round" fill="none"/>
<path d="M508.2 571.5h0M439.4 543.0h0M435.4 518.0h0M447.8 559.9h0M429.2 507.1h0M423.2 542.7h0M495.9 550.1h0M402.3 542.9h0M494.5 574.7h0" stroke="#7571ba" stroke-width="4.8" stroke-linecap="round" fill="none"/>
<path d="M412.7 508.8h0M473.4 541.3h0M408.9 507.6h0M454.7 565.4h0M480.7 541.2h0M485.1 577.5h0M462.5 569.7h0M449.9 544.7h0" stroke="#5db4cc" stroke-width="4.8" stroke-linecap="round" fill="none"/>
<path d="M361.8 395.8h0M381.4 444.3h0M365.0 379.9h0M365.9 458.2h0M356.3 400.9h0M353.6 439.7h0M372.8 391.5h0M359.2 447.6h0" stroke="#8282c6" stroke-width="4.8" stroke-linecap="round" fill="none"/>
<path d="M353.9 426.1h0M377.4 487.8h0M384.3 466.0h0M390.5 416.4h0M371.7 427.5h0M385.3 369.8h0M385.4 402.6h0" stroke="#7e9cd6" stroke-width="4.8" stroke-linecap="round" fill="none"/>
<path d="M385.8 418.0h0M387.3 422.6h0M371.6 373.6h0M396.4 415.0h0M378.6 397.9h0M367.6 441.1h0M375.5 480.7h0" stroke="#5db4cc" stroke-width="4.8" stroke-linecap="round" fill="none"/>
<path d="M431.7 296.0h0M436.1 272.8h0M434.2 273.1h0M432.8 266.1h0" stroke="#79a8d4" stroke-width="4.8" stroke-linecap="round" fill="none"/>
<path d="M439.1 279.3h0M444.5 285.7h0M454.5 264.9h0M445.2 289.3h0" stroke="#7e9cd6" stroke-width="4.8" stroke-linecap="round" fill="none"/>
<path d="M352.6 92.6h0M350.7 87.9h0M347.7 91.2h0M348.9 95.9h0" stroke="#79a8d4" stroke-width="4.8" stroke-linecap="round" fill="none"/>
<line x1="402.3" y1="187.3" x2="632.3" y2="632.7" stroke="#c2c2c2" stroke-width="1.2" stroke-dasharray="8.5 8"/>
<line x1="406.3" y1="187.3" x2="636.3" y2="632.7" stroke="#c2c2c2" stroke-width="1.2" stroke-dasharray="8.5 8"/>
<line x1="421.5" y1="134.7" x2="632.3" y2="632.7" stroke="#c2c2c2" stroke-width="1.2" stroke-dasharray="8.5 8"/>
<line x1="317.7" y1="374.0" x2="632.3" y2="632.7" stroke="#c2c2c2" stroke-width="1.2" stroke-dasharray="8.5 8"/>
<line x1="321.2" y1="374.0" x2="635.8" y2="632.7" stroke="#c2c2c2" stroke-width="1.2" stroke-dasharray="8.5 8"/>
<line x1="281.8" y1="491.6" x2="632.3" y2="632.7" stroke="#c2c2c2" stroke-width="1.2" stroke-dasharray="8.5 8"/>
<line x1="285.3" y1="491.6" x2="635.8" y2="632.7" stroke="#c2c2c2" stroke-width="1.2" stroke-dasharray="8.5 8"/>
<line x1="399.3" y1="187.3" x2="341.6" y2="516.5" stroke="#c2c2c2" stroke-width="1.2" stroke-dasharray="8.5 8"/>
<line x1="403.3" y1="187.3" x2="345.6" y2="516.5" stroke="#c2c2c2" stroke-width="1.2" stroke-dasharray="8.5 8"/>
<line x1="400.3" y1="187.3" x2="279.8" y2="491.6" stroke="#c2c2c2" stroke-width="1.2" stroke-dasharray="8.5 8"/>
<line x1="421.5" y1="134.7" x2="402.3" y2="187.3" stroke="#000" stroke-width="6.5"/>
<line x1="402.3" y1="187.3" x2="236.0" y2="317.0" stroke="#000" stroke-width="3.2"/>
<line x1="402.3" y1="187.3" x2="317.7" y2="374.0" stroke="#000" stroke-width="3.6"/>
<line x1="236.0" y1="317.0" x2="317.7" y2="374.0" stroke="#000" stroke-width="4.2"/>
<line x1="317.7" y1="374.0" x2="281.8" y2="491.6" stroke="#000" stroke-width="6.5"/>
<line x1="317.7" y1="374.0" x2="344.6" y2="516.5" stroke="#000" stroke-width="5.0"/>
<line x1="281.8" y1="491.6" x2="344.6" y2="516.5" stroke="#000" stroke-width="6.0"/>
<line x1="344.6" y1="516.5" x2="632.3" y2="632.7" stroke="#000" stroke-width="4.2"/>
<circle cx="421.5" cy="134.7" r="19.1" fill="#6dc5a9" stroke="#000" stroke-width="2.0"/>
<circle cx="402.3" cy="187.3" r="19.1" fill="#79a8d4" stroke="#000" stroke-width="2.0"/>
<circle cx="236.0" cy="317.0" r="19.1" fill="#6b7aa9" stroke="#000" stroke-width="2.0"/>
<circle cx="317.7" cy="374.0" r="19.1" fill="#7e9cd6" stroke="#000" stroke-width="2.0"/>
<circle cx="281.8" cy="491.6" r="19.1" fill="#5db4cc" stroke="#000" stroke-width="2.0"/>
<circle cx="344.6" cy="516.5" r="19.1" fill="#8282c6" stroke="#000" stroke-width="2.0"/>
<circle cx="632.3" cy="632.7" r="19.1" fill="#7571ba" stroke="#000" stroke-width="2.0"/>
<text class="c" x="343.6" y="767" font-size="26" letter-spacing="4.5" fill="#000">FA_x</text>
<g transform="translate(23.1 439.5) rotate(-90)"><text class="c" x="0" y="0" font-size="26" letter-spacing="3.5" fill="#000">FA_y</text></g>
<text x="740.5" y="280.2" font-size="26" fill="#000">Identity</text>
<circle cx="752" cy="303.4" r="14.8" fill="#6dc5a9"/>
<text class="c" x="771.5" y="313.2" font-size="26" fill="#000">CD4 RTE</text>
<circle cx="752" cy="341.5" r="14.8" fill="#79a8d4"/>
<text class="c" x="771.5" y="351.3" font-size="26" fill="#000">CD4 T<tspan font-size="15.5" dy="8" dx="2">N</tspan></text>
<circle cx="752" cy="379.6" r="14.8" fill="#7e9cd6"/>
<text class="c" x="771.5" y="389.4" font-size="26" fill="#000">CD4 T<tspan font-size="15.5" dy="8" dx="2">CM</tspan></text>
<circle cx="752" cy="417.7" r="14.8" fill="#5db4cc"/>
<text class="c" x="771.5" y="427.5" font-size="26" fill="#000">CD4 T<tspan font-size="15.5" dy="8" dx="2">EFF</tspan></text>
<circle cx="752" cy="455.8" r="14.8" fill="#8282c6"/>
<text class="c" x="771.5" y="465.6" font-size="26" fill="#000">CD4 T<tspan font-size="15.5" dy="8" dx="2">EM</tspan></text>
<circle cx="752" cy="493.9" r="14.8" fill="#7571ba"/>
<text class="c" x="771.5" y="503.7" font-size="26" fill="#000">CD4 CTL</text>
<circle cx="752" cy="532.0" r="14.8" fill="#6b7aa9"/>
<text x="771.5" y="541.8" font-size="26" fill="#000">Treg</text>
<rect x="1003.5" y="54.2" width="673.2" height="673.4" fill="none" stroke="#222" stroke-width="1.4"/>
<path d="M1080.5,596.0 L1069.5,583.8 L1065.0,563.9 L1056.2,541.7 L1049.5,524.0 L1036.2,504.0 L1032.9,468.6 L1036.2,419.9 L1038.4,404.0 L1042.9,375.2 L1047.3,353.1 L1054.0,330.9 L1062.8,306.5 L1069.5,288.8 L1078.3,264.5 L1087.2,244.5 L1096.0,231.2 L1104.9,217.9 L1118.2,206.9 L1135.9,195.8 L1158.1,182.5 L1180.2,167.0 L1202.4,151.5 L1224.5,136.0 L1257.8,118.2 L1291.0,102.7 L1324.2,89.4 L1348.6,82.8 L1359.2,83.9 L1381.4,91.7 L1399.1,105.0 L1419.0,113.8 L1441.2,111.6 L1465.6,109.4 L1485.5,120.5 L1496.6,138.2 L1501.0,158.1 L1505.4,178.1 L1503.2,198.0 L1509.9,217.9 L1518.7,242.3 L1525.4,264.5 L1538.7,275.5 L1558.6,271.1 L1576.3,282.2 L1591.8,302.1 L1609.6,328.7 L1620.6,353.1 L1629.5,381.9 L1636.1,404.0 L1638.4,424.3 L1642.8,457.5 L1647.2,490.8 L1645.0,524.0 L1638.4,557.2 L1629.5,590.5 L1618.4,612.6 L1602.9,634.8 L1589.6,656.9 L1585.2,679.0 L1569.7,690.1 L1552.0,699.0 L1543.1,687.9 L1529.8,663.6 L1518.7,623.7 L1512.1,579.4 L1509.9,535.1 L1507.7,501.8 L1505.4,468.6 L1498.8,424.3 L1494.0,380.0 L1485.5,342.0 L1476.6,308.8 L1463.4,275.5 L1450.1,253.4 L1436.8,231.2 L1432.3,205.0 L1414.6,200.0 L1390.0,190.0 L1370.0,188.0 L1353.0,193.0 L1330.9,217.9 L1313.1,242.3 L1297.6,264.5 L1288.8,286.6 L1279.9,308.8 L1268.8,330.9 L1262.2,353.1 L1246.7,368.6 L1224.5,381.9 L1210.0,400.0 L1195.0,430.0 L1184.7,464.2 L1160.0,470.0 L1147.0,464.2 L1144.8,484.1 L1133.7,512.9 L1122.6,535.1 L1116.0,557.2 L1102.7,572.7 L1091.6,588.2 Z" fill="#c96db5"/>
<path d="M1297.6,264.5 L1288.8,286.6 L1279.9,308.8 L1268.8,330.9 L1262.2,353.1 L1246.7,368.6 L1224.5,381.9 L1210.0,400.0 L1195.0,430.0 L1184.7,464.2 L1160.0,470.0 L1150.0,435.0 L1150.0,400.0 L1165.0,380.0 L1195.0,350.0 L1230.0,320.0 L1260.0,290.0 L1285.0,262.0 Z" fill="#dcaad3"/>
<path d="M1183.7 362.4h0M1186.0 416.2h0M1248.4 355.0h0M1234.3 371.8h0M1258.0 332.5h0M1194.1 416.1h0M1177.4 428.8h0M1252.6 358.5h0M1224.5 344.2h0M1156.6 424.3h0M1213.1 344.0h0M1186.8 402.3h0M1226.0 335.7h0M1200.4 397.2h0M1268.4 306.7h0M1208.1 342.0h0M1251.9 326.9h0M1206.9 345.9h0M1217.7 344.8h0M1175.6 387.2h0M1200.9 400.5h0M1181.3 391.3h0M1269.1 290.8h0M1204.0 374.1h0M1249.3 330.5h0M1221.5 352.9h0M1174.7 371.1h0M1206.5 345.0h0M1191.2 379.4h0M1166.2 430.5h0M1166.0 405.0h0M1175.9 408.7h0M1265.8 308.9h0M1254.2 342.2h0M1150.4 428.1h0M1192.7 355.8h0M1206.8 400.5h0M1204.9 393.9h0M1275.9 300.7h0M1192.2 369.2h0M1199.1 382.6h0M1166.1 391.8h0M1180.9 377.3h0M1189.0 395.3h0M1231.1 335.1h0M1192.5 367.7h0M1293.6 273.6h0M1260.3 329.2h0M1238.2 317.2h0M1195.8 355.2h0M1284.0 279.1h0M1208.7 401.3h0M1180.5 462.2h0M1214.0 383.9h0M1210.4 367.9h0M1156.0 421.3h0M1182.3 386.1h0M1213.3 339.7h0M1258.3 292.9h0M1256.5 309.2h0M1193.1 428.6h0M1251.5 348.3h0M1171.0 439.0h0M1255.9 312.7h0M1161.0 449.4h0M1169.5 449.2h0M1225.7 369.2h0M1283.5 289.8h0M1262.7 348.3h0M1170.3 436.9h0M1190.6 390.8h0M1159.9 442.4h0M1201.5 366.2h0M1282.1 292.2h0M1216.3 383.2h0M1258.2 329.7h0M1269.1 291.5h0M1189.1 409.9h0M1264.3 330.9h0M1175.3 398.8h0M1261.5 289.1h0M1260.0 314.2h0M1170.6 444.9h0M1233.7 368.4h0M1185.8 438.3h0M1194.3 400.0h0M1178.4 369.8h0M1185.3 437.2h0M1176.9 421.3h0M1235.9 319.2h0M1249.9 315.6h0M1158.9 416.7h0M1175.4 417.5h0M1191.2 428.2h0M1191.4 371.3h0M1155.1 426.2h0M1265.1 326.0h0M1154.4 449.2h0M1181.1 460.5h0M1177.2 447.2h0M1199.6 392.4h0M1187.8 412.4h0M1181.3 421.6h0M1269.2 310.6h0M1202.0 387.0h0M1188.4 427.3h0M1251.0 308.1h0M1248.0 345.3h0M1193.1 379.1h0M1272.3 317.9h0M1178.4 384.7h0M1277.5 277.3h0M1153.5 440.3h0M1167.0 410.1h0M1283.7 270.0h0M1183.0 371.2h0M1189.3 363.8h0M1269.7 290.8h0M1234.2 334.1h0M1221.4 355.7h0M1231.2 369.1h0M1221.0 350.2h0M1264.0 334.6h0M1242.3 325.0h0M1166.9 424.5h0M1158.2 438.0h0M1263.6 304.6h0M1229.0 321.1h0M1226.1 345.1h0M1216.0 338.6h0M1168.4 386.6h0M1245.0 346.7h0M1277.1 294.2h0M1188.0 448.1h0M1214.3 348.0h0M1206.5 357.7h0M1161.2 434.9h0M1197.4 348.4h0M1206.2 355.7h0M1171.8 426.8h0M1247.7 323.8h0M1174.1 395.1h0M1185.1 399.9h0M1150.7 402.2h0M1252.3 338.5h0M1176.6 447.5h0M1274.6 313.6h0M1183.4 446.4h0M1184.9 386.5h0M1254.4 308.6h0M1179.0 367.5h0M1252.1 353.4h0M1204.2 402.6h0M1187.8 429.1h0M1285.4 294.0h0M1191.3 381.5h0M1155.0 425.3h0M1192.5 403.9h0M1249.3 305.6h0M1185.6 440.7h0M1222.0 339.4h0M1273.1 294.0h0M1162.4 416.0h0M1157.5 408.2h0M1267.1 299.1h0M1161.7 465.8h0M1177.6 399.0h0M1221.5 374.8h0M1163.2 436.5h0M1219.3 378.2h0M1176.2 452.6h0M1171.7 426.1h0M1235.4 347.5h0M1251.3 353.7h0M1236.7 346.0h0M1229.0 364.5h0M1218.0 357.7h0M1223.8 360.6h0M1165.3 386.7h0M1182.5 372.6h0M1183.1 431.2h0M1286.6 272.1h0M1275.1 313.2h0M1244.1 324.5h0M1167.1 417.3h0M1168.5 456.3h0M1260.0 305.1h0M1191.8 357.7h0M1181.0 425.6h0M1235.2 317.3h0M1181.3 378.1h0M1216.1 340.4h0M1197.3 371.6h0M1226.5 333.6h0M1240.9 335.1h0M1200.8 411.3h0M1208.6 372.0h0M1183.7 392.8h0M1253.7 359.1h0M1189.2 408.4h0M1167.3 387.9h0M1243.1 316.4h0M1200.9 397.1h0M1178.3 382.1h0M1222.9 371.8h0M1196.6 401.9h0M1250.2 315.8h0M1163.5 449.2h0M1153.1 407.8h0M1229.9 371.2h0M1177.7 372.3h0M1280.2 306.0h0M1217.9 336.5h0M1158.0 419.2h0M1272.6 305.6h0M1276.1 311.5h0M1194.1 371.5h0M1201.7 359.6h0M1197.8 362.4h0M1166.9 384.3h0M1193.9 373.1h0M1212.8 380.5h0M1159.7 389.5h0M1205.0 377.5h0M1239.0 341.9h0M1201.7 398.3h0M1215.8 353.7h0M1178.8 397.1h0M1247.9 345.2h0M1246.4 334.9h0M1267.2 288.9h0M1228.1 322.9h0M1164.0 442.8h0M1215.0 352.6h0M1185.2 445.3h0M1183.0 445.6h0M1234.9 336.9h0M1252.3 305.1h0M1259.7 297.2h0M1205.3 343.9h0M1162.9 443.0h0M1177.1 416.7h0M1255.0 358.0h0M1152.2 432.0h0M1155.6 408.5h0M1228.9 324.3h0M1245.4 331.2h0M1219.2 375.9h0M1212.2 354.5h0M1182.9 366.0h0M1221.2 330.6h0M1175.9 448.9h0M1231.5 362.9h0M1223.6 365.8h0M1159.5 398.6h0M1179.8 406.3h0M1218.2 350.0h0M1159.4 409.2h0M1209.0 369.0h0M1171.3 415.7h0M1278.5 275.5h0M1273.3 301.9h0M1172.5 410.9h0M1152.9 407.4h0M1275.6 284.5h0M1251.7 323.1h0M1275.5 294.7h0M1285.6 292.7h0M1287.0 272.9h0M1182.1 444.8h0M1256.6 296.9h0M1252.6 338.7h0M1188.5 415.1h0M1197.7 382.7h0M1196.5 376.2h0M1184.5 417.9h0M1265.5 329.3h0M1261.7 323.2h0M1181.5 409.9h0M1228.2 373.3h0M1229.4 350.0h0M1249.3 359.3h0M1173.3 455.7h0M1157.7 402.7h0M1209.2 344.7h0M1170.7 397.3h0M1226.5 351.6h0M1236.0 314.9h0M1168.5 392.2h0M1237.1 313.1h0M1190.3 362.7h0M1164.4 422.0h0M1218.5 371.1h0M1159.7 439.5h0M1261.2 295.6h0M1240.0 313.6h0M1160.9 398.9h0M1160.2 417.8h0M1270.4 283.7h0M1189.3 355.8h0M1236.2 342.1h0M1230.6 375.1h0M1238.0 341.1h0M1284.4 291.1h0M1192.0 402.2h0M1269.1 305.0h0M1237.2 317.5h0M1257.1 293.3h0M1218.6 377.2h0M1236.3 345.9h0M1173.5 456.3h0M1245.1 350.8h0M1176.6 392.4h0M1250.7 358.9h0M1246.3 349.3h0M1234.9 332.9h0M1218.7 348.6h0M1183.4 401.0h0M1278.0 288.8h0M1221.7 358.7h0M1166.0 396.9h0M1213.1 396.0h0M1166.8 400.3h0M1205.1 391.1h0M1273.7 301.8h0M1209.2 389.9h0M1269.1 294.7h0M1160.7 435.9h0M1249.0 312.4h0M1282.8 298.0h0M1151.9 406.5h0M1187.7 383.0h0M1261.3 349.2h0M1252.6 331.5h0M1211.1 382.6h0M1166.2 455.5h0M1151.2 414.1h0M1251.9 340.7h0M1250.6 330.4h0M1178.8 397.9h0M1187.6 366.2h0M1155.9 421.5h0M1244.2 317.3h0M1194.9 427.7h0M1185.7 367.8h0M1154.5 447.3h0M1267.4 283.1h0M1154.5 408.7h0M1255.3 299.7h0M1167.4 407.4h0M1213.4 368.3h0M1166.9 405.7h0M1258.0 340.1h0M1174.6 418.0h0M1278.3 278.9h0M1211.8 375.9h0M1252.3 304.2h0M1238.0 319.9h0M1258.5 333.7h0M1249.4 345.9h0M1204.4 348.0h0M1259.6 295.0h0M1179.2 395.9h0M1202.1 369.4h0M1278.7 301.9h0M1192.1 378.0h0M1151.9 427.2h0M1180.6 364.6h0M1227.8 330.2h0M1165.8 443.3h0M1193.7 353.7h0M1251.7 315.9h0M1243.7 354.6h0M1181.3 425.4h0M1179.9 433.8h0M1268.4 324.7h0M1227.3 363.9h0M1235.1 324.2h0M1236.1 368.3h0M1160.5 429.7h0M1196.9 397.6h0M1154.8 399.2h0M1191.0 376.1h0M1282.2 301.4h0M1203.6 392.9h0M1263.2 332.6h0M1173.1 427.5h0M1195.6 408.1h0M1248.5 315.4h0M1252.9 352.6h0M1215.1 386.8h0M1155.0 420.5h0M1182.2 433.9h0M1264.2 291.2h0M1214.5 374.5h0M1166.4 381.2h0M1187.1 397.3h0M1266.4 298.9h0M1249.7 308.0h0M1202.7 404.2h0M1248.6 350.6h0M1180.6 459.4h0" stroke="#c96db5" stroke-width="4.8" stroke-linecap="round" fill="none"/>
<path d="M1192.9 374.2h0M1163.3 407.9h0M1202.4 413.5h0M1156.9 411.9h0M1232.3 343.8h0M1223.0 346.2h0M1188.5 445.0h0M1263.9 309.7h0M1156.6 431.1h0M1268.1 303.7h0M1277.7 273.8h0M1174.4 377.0h0M1248.5 342.3h0M1160.6 446.3h0M1160.6 446.9h0M1184.4 408.8h0M1230.3 320.6h0M1167.8 406.9h0M1242.2 321.6h0M1211.1 347.0h0M1154.0 445.3h0M1188.3 360.8h0M1182.1 402.0h0M1209.9 382.9h0M1210.2 367.7h0M1162.8 466.2h0M1167.2 381.5h0M1248.9 325.0h0M1169.1 382.9h0M1178.2 419.0h0M1218.2 335.3h0M1157.6 409.9h0M1170.5 455.0h0M1245.0 335.7h0M1162.0 430.6h0M1260.2 339.3h0M1227.0 354.6h0M1159.6 427.4h0M1244.7 354.9h0M1171.5 389.3h0M1242.2 346.5h0M1278.4 270.5h0M1160.9 413.2h0M1168.4 437.2h0M1164.6 429.7h0M1156.2 421.0h0M1207.0 401.5h0M1267.2 335.7h0M1215.2 347.5h0M1206.2 388.3h0M1290.8 268.5h0M1171.5 422.1h0M1290.2 278.9h0M1218.0 340.4h0M1177.5 424.2h0M1252.2 341.8h0M1226.9 342.9h0M1187.0 430.4h0M1251.4 313.0h0M1289.3 274.1h0M1290.9 268.5h0M1240.5 325.1h0M1181.5 442.7h0M1166.4 393.6h0M1209.9 359.8h0M1182.9 380.4h0M1203.4 410.6h0M1188.7 366.1h0M1198.3 367.4h0M1163.0 446.2h0M1229.2 357.0h0" stroke="#b94ea6" stroke-width="4.8" stroke-linecap="round" fill="none"/>
<path d="M1080.5,596.0 L1069.5,583.8 L1065.0,563.9 L1056.2,541.7 L1049.5,524.0 L1036.2,504.0 L1032.9,468.6 L1036.2,419.9 L1038.4,404.0 L1042.9,375.2 L1047.3,353.1 L1054.0,330.9 L1062.8,306.5 L1069.5,288.8 L1078.3,264.5 L1087.2,244.5 L1096.0,231.2 L1104.9,217.9 L1118.2,206.9 L1135.9,195.8 L1150.0,190.0 L1168.0,208.0 L1182.0,238.0 L1172.0,283.0 L1160.0,330.0 L1152.0,370.0 L1150.0,400.0 L1150.0,435.0 L1147.0,464.2 L1144.8,484.1 L1133.7,512.9 L1122.6,535.1 L1116.0,557.2 L1102.7,572.7 L1091.6,588.2 Z" fill="#b94ea6"/>
<path d="M1405.0,108.0 L1419.0,113.8 L1441.2,111.6 L1465.6,109.4 L1485.5,120.5 L1496.6,138.2 L1501.0,158.1 L1505.4,178.1 L1503.2,198.0 L1509.9,217.9 L1518.7,242.3 L1525.4,264.5 L1530.0,290.0 L1522.0,330.0 L1516.0,370.0 L1510.0,420.0 L1505.4,468.6 L1498.8,424.3 L1494.0,380.0 L1485.5,342.0 L1476.6,308.8 L1463.4,275.5 L1450.1,253.4 L1436.8,231.2 L1432.3,205.0 L1414.6,200.0 L1405.0,185.0 L1400.0,150.0 Z" fill="#d898c6"/>
<path d="M1381.4,91.7 L1399.1,105.0 L1419.0,113.8 L1428.0,150.0 L1424.0,185.0 L1414.6,200.0 L1390.0,190.0 L1383.0,150.0 Z" fill="#d07fbf"/>
<path d="M1400.4 179.4h0M1386.9 100.6h0M1404.7 146.1h0M1389.8 118.3h0M1401.6 180.6h0M1412.3 117.4h0M1399.5 174.8h0M1402.6 116.8h0M1395.4 128.4h0M1385.6 105.9h0M1401.3 138.8h0M1424.8 170.4h0M1393.9 105.9h0M1406.9 181.9h0M1391.9 174.6h0M1419.0 155.7h0M1399.5 147.8h0M1423.6 143.8h0M1407.7 145.3h0M1393.3 165.9h0M1410.5 172.6h0M1386.8 116.6h0M1404.0 192.2h0M1399.9 114.2h0M1405.8 125.9h0M1402.6 183.0h0M1386.3 128.3h0M1402.2 157.3h0M1383.8 139.4h0M1399.5 168.0h0M1396.7 147.3h0M1403.3 128.9h0M1384.1 95.9h0M1390.4 126.3h0M1383.0 128.7h0M1394.6 127.0h0M1420.4 152.2h0M1415.3 180.2h0M1398.7 179.9h0M1413.7 153.0h0M1410.1 141.9h0M1401.4 143.2h0M1409.7 183.4h0M1397.1 152.0h0M1399.6 110.3h0M1389.3 172.4h0M1401.6 124.1h0M1404.2 192.5h0M1411.5 130.8h0M1418.8 177.9h0M1399.9 165.5h0M1391.2 120.7h0M1425.5 151.5h0M1414.5 130.9h0M1399.9 192.1h0M1416.1 193.5h0M1388.4 136.4h0M1419.6 187.6h0M1393.7 169.0h0M1386.3 141.3h0M1390.5 136.0h0M1412.6 164.9h0M1395.7 127.8h0M1400.9 119.2h0M1420.7 177.6h0M1412.3 161.9h0M1395.1 121.8h0M1391.1 174.1h0M1425.2 146.9h0M1387.2 150.8h0M1392.2 161.8h0M1410.7 182.1h0M1412.8 170.7h0M1421.9 182.4h0M1404.5 193.6h0M1391.3 158.2h0M1406.8 137.4h0M1404.6 114.2h0M1400.9 156.0h0M1416.5 168.2h0M1386.2 114.4h0M1403.9 175.4h0M1394.3 171.6h0M1392.1 124.5h0M1420.6 151.3h0M1398.8 144.3h0M1403.5 191.5h0M1399.4 188.8h0M1395.0 172.4h0M1388.6 154.9h0M1416.2 181.3h0M1395.6 184.2h0M1406.5 115.6h0M1424.0 177.3h0M1415.1 138.1h0M1392.2 160.6h0M1420.9 171.5h0M1403.0 123.2h0M1406.3 164.1h0M1395.7 122.6h0M1401.0 122.6h0M1390.4 115.8h0M1404.3 187.2h0M1412.3 188.7h0M1422.6 173.2h0M1410.8 130.8h0M1389.2 121.5h0M1388.5 154.2h0M1401.9 170.6h0M1408.9 171.0h0M1417.6 132.9h0M1424.7 160.2h0M1404.0 132.8h0M1401.7 129.0h0M1421.0 131.7h0M1385.9 118.9h0M1420.4 147.7h0M1397.7 186.6h0M1387.9 126.5h0M1414.6 126.5h0M1411.6 183.5h0M1402.8 161.8h0M1402.0 149.0h0" stroke="#d898c6" stroke-width="4.8" stroke-linecap="round" fill="none"/>
<path d="M1402.7 136.1h0M1408.1 134.5h0M1395.2 136.8h0M1403.4 116.8h0M1414.5 117.2h0M1415.7 146.0h0M1385.8 103.0h0M1383.5 122.6h0M1422.8 151.3h0M1412.5 158.9h0M1419.3 131.8h0M1411.6 115.2h0M1392.0 120.6h0M1400.2 123.8h0M1396.1 157.2h0M1418.4 177.0h0M1401.5 159.3h0M1412.4 177.5h0M1386.4 136.5h0M1395.3 182.9h0M1387.6 152.4h0M1414.7 126.1h0M1388.5 168.2h0M1382.9 123.4h0M1385.3 129.5h0M1407.1 161.6h0M1410.8 176.8h0M1386.7 162.2h0M1393.4 149.0h0M1383.9 140.1h0M1388.8 130.1h0M1397.8 127.8h0M1411.3 144.9h0M1409.9 126.9h0M1423.5 175.6h0M1407.3 133.2h0M1421.1 138.9h0M1400.8 153.2h0M1384.0 145.4h0M1391.3 163.7h0M1406.7 135.6h0M1400.4 116.1h0M1384.5 117.2h0M1382.6 117.5h0M1390.7 130.1h0M1414.2 180.5h0M1407.5 174.2h0M1398.5 105.9h0M1413.4 131.1h0M1401.6 108.5h0M1387.9 132.0h0M1396.2 112.2h0M1413.8 138.3h0M1427.4 150.9h0" stroke="#c96db5" stroke-width="4.8" stroke-linecap="round" fill="none"/>
<path d="M1525.4,264.5 L1538.7,275.5 L1558.6,271.1 L1576.3,282.2 L1591.8,302.1 L1609.6,328.7 L1620.6,353.1 L1629.5,381.9 L1636.1,404.0 L1638.4,424.3 L1642.8,457.5 L1647.2,490.8 L1645.0,524.0 L1638.4,557.2 L1629.5,590.5 L1618.4,612.6 L1602.9,634.8 L1589.6,656.9 L1585.2,679.0 L1569.7,690.1 L1552.0,699.0 L1543.1,687.9 L1529.8,663.6 L1518.7,623.7 L1512.1,579.4 L1509.9,535.1 L1507.7,501.8 L1505.4,468.6 L1510.0,420.0 L1516.0,370.0 L1522.0,330.0 L1530.0,290.0 Z" fill="#d9bcdb"/>
<path d="M1576.3,315.4 L1588.0,320.0 L1595.0,345.0 L1600.0,380.0 L1603.0,424.0 L1605.0,470.0 L1608.0,524.0 L1612.0,557.0 L1605.0,600.0 L1592.0,630.0 L1580.8,634.8 L1578.0,600.0 L1572.0,557.0 L1570.0,500.0 L1572.0,450.0 L1572.0,400.0 L1575.0,350.0 Z" fill="#d9bcdb"/>
<path d="M1590.7 522.2h0M1603.0 547.2h0M1596.5 521.5h0M1586.4 532.9h0M1589.0 415.4h0M1583.2 452.4h0M1574.6 543.5h0M1577.1 500.6h0M1608.9 575.2h0M1579.5 403.2h0M1578.9 474.7h0M1582.1 546.7h0M1582.6 372.3h0M1604.7 548.2h0M1603.1 596.1h0M1589.1 452.7h0M1603.3 473.3h0M1580.2 511.5h0M1588.4 558.9h0M1606.6 568.6h0M1572.9 491.8h0M1588.8 330.1h0M1599.7 383.6h0M1577.5 591.9h0M1581.3 534.6h0M1597.9 517.8h0M1573.2 384.5h0M1582.7 473.7h0M1583.3 535.8h0M1589.4 620.6h0M1592.8 495.6h0M1594.2 374.9h0M1586.4 476.3h0M1603.0 494.6h0M1584.5 625.5h0M1584.6 628.3h0M1589.6 443.4h0M1594.9 615.5h0M1595.4 393.2h0M1578.9 572.6h0M1581.2 612.5h0M1588.0 347.4h0M1600.6 551.3h0M1585.6 472.1h0M1588.1 427.5h0M1596.3 459.8h0M1583.4 469.9h0M1583.4 396.0h0M1581.6 429.4h0M1581.6 432.6h0M1598.7 390.0h0M1582.4 547.4h0M1597.5 413.0h0M1581.9 543.6h0M1585.8 572.6h0M1598.3 389.9h0M1593.8 601.4h0M1596.7 595.2h0M1584.3 406.3h0M1592.8 430.4h0M1592.0 396.2h0M1578.7 509.8h0M1574.7 388.9h0M1573.8 535.7h0M1576.6 402.8h0M1589.6 420.2h0M1591.7 563.5h0M1585.1 359.4h0M1577.7 539.3h0M1590.1 612.5h0M1579.3 543.4h0M1586.4 405.5h0M1600.1 417.7h0M1579.3 458.8h0M1587.9 342.3h0M1585.2 356.0h0M1576.2 374.0h0M1573.0 490.6h0M1597.1 587.0h0M1581.0 572.3h0M1578.3 379.8h0M1606.6 553.9h0M1572.6 392.8h0M1576.8 515.9h0M1588.0 616.8h0M1581.4 475.6h0M1587.0 569.2h0M1578.1 592.3h0M1594.7 441.1h0M1588.6 562.8h0M1589.0 609.3h0M1586.5 498.5h0M1582.9 318.8h0M1594.1 511.6h0M1597.8 368.5h0M1578.6 474.7h0M1585.8 534.2h0M1575.6 480.3h0M1587.7 377.9h0M1582.5 572.8h0M1593.2 504.4h0M1599.9 481.9h0M1604.4 493.2h0M1590.2 604.2h0M1590.5 536.4h0M1592.3 613.1h0M1573.2 405.5h0M1582.0 394.1h0M1595.4 542.0h0M1580.7 579.6h0M1589.0 474.2h0M1585.3 461.0h0M1584.7 628.0h0M1583.0 345.0h0M1597.2 410.7h0M1575.3 385.4h0M1602.2 487.8h0M1597.9 548.5h0M1594.0 532.6h0M1578.1 374.2h0M1588.4 584.1h0M1579.4 564.1h0M1604.7 550.3h0M1571.0 501.8h0M1599.3 578.4h0M1600.0 506.1h0M1585.1 611.4h0M1581.2 460.0h0M1574.7 499.3h0M1598.8 480.2h0M1585.7 329.7h0M1601.9 512.7h0M1606.2 526.4h0M1593.0 438.0h0M1605.4 517.3h0M1593.3 511.1h0M1581.9 454.2h0M1600.8 574.9h0M1584.4 413.7h0M1592.3 468.7h0M1586.9 411.3h0M1584.7 607.4h0M1577.5 434.9h0M1578.3 348.8h0M1602.2 472.5h0M1576.4 480.1h0M1598.6 582.5h0M1588.3 383.1h0M1571.6 503.8h0M1580.4 332.6h0M1592.3 537.3h0M1579.9 403.4h0M1577.9 585.2h0M1594.1 403.1h0M1585.1 396.8h0M1602.3 416.1h0M1584.4 612.6h0M1581.1 539.6h0M1577.3 537.8h0M1584.5 461.2h0M1579.5 512.4h0M1579.9 459.8h0M1579.2 518.3h0M1582.6 566.7h0M1582.9 602.6h0M1587.2 425.7h0M1577.8 597.1h0M1609.1 541.5h0M1573.5 468.5h0M1605.2 522.8h0M1587.3 471.1h0M1580.1 440.1h0M1595.7 541.1h0M1583.6 521.1h0M1587.0 551.5h0M1580.1 616.6h0M1591.0 438.8h0M1576.1 450.4h0M1603.8 575.4h0M1594.5 512.6h0M1603.9 469.6h0M1599.3 548.4h0M1585.5 371.0h0M1585.9 348.7h0M1589.2 508.2h0M1585.5 542.1h0M1581.1 324.9h0M1583.7 566.5h0M1574.3 412.3h0M1590.7 589.2h0M1594.6 462.7h0M1596.3 613.1h0M1585.7 375.0h0M1592.6 358.4h0M1580.3 525.8h0M1588.9 372.1h0M1605.4 518.5h0M1593.5 468.2h0M1597.6 611.3h0M1579.7 473.2h0M1593.9 419.1h0M1594.8 501.6h0M1587.1 490.9h0M1606.4 557.1h0M1580.9 511.7h0M1576.3 487.5h0M1592.1 531.8h0M1573.9 547.5h0M1579.9 419.7h0M1607.5 538.8h0M1574.7 509.0h0M1582.5 570.8h0M1574.4 546.2h0M1586.8 366.0h0M1580.6 570.7h0M1596.3 439.9h0M1571.6 544.4h0M1592.5 384.4h0M1592.5 341.0h0M1577.5 470.0h0M1590.8 492.0h0" stroke="#3d786e" stroke-width="4.8" stroke-linecap="round" fill="none"/>
<path d="M1592.6 407.1h0M1579.3 411.9h0M1580.4 622.8h0M1577.1 381.4h0M1593.4 525.5h0M1579.2 510.1h0M1592.8 612.8h0M1587.2 519.7h0M1602.2 431.8h0M1574.5 536.9h0M1590.2 492.2h0M1576.0 486.7h0M1588.5 523.9h0M1573.9 407.1h0M1592.7 562.3h0M1580.7 477.7h0M1591.0 358.3h0M1595.6 584.5h0M1577.5 512.5h0M1592.6 383.3h0M1599.3 527.6h0M1598.3 561.8h0M1581.4 456.2h0M1594.9 542.9h0M1587.2 428.6h0M1592.7 443.4h0M1598.7 420.0h0M1572.4 537.9h0M1583.4 338.0h0M1591.1 360.0h0M1572.7 493.7h0M1588.2 330.1h0M1592.8 477.6h0M1594.4 350.1h0M1586.4 592.0h0M1592.2 362.4h0M1576.1 577.4h0M1579.7 505.6h0M1584.7 412.9h0M1585.4 513.3h0M1585.1 422.5h0M1585.1 586.7h0M1611.0 558.5h0M1602.0 437.0h0M1600.6 530.2h0M1599.7 416.8h0M1597.0 587.5h0M1591.0 358.6h0M1602.6 486.1h0M1590.7 588.2h0M1588.4 532.5h0M1590.9 373.3h0M1608.5 543.7h0M1592.4 583.3h0M1583.9 405.0h0M1603.0 597.9h0" stroke="#d898c6" stroke-width="4.8" stroke-linecap="round" fill="none"/>
<path d="M1596.3,313.2 L1609.6,330.9 L1622.9,364.1 L1629.5,404.0 L1638.4,424.3 L1645.0,468.6 L1647.2,513.0 L1640.6,557.2 L1629.5,590.5 L1614.0,623.7 L1600.0,640.0 L1592.0,630.0 L1605.0,600.0 L1612.0,557.0 L1608.0,524.0 L1605.0,470.0 L1603.0,424.0 L1600.0,380.0 L1595.0,345.0 L1588.0,320.0 Z" fill="#3d786e"/>
<path d="M1153.5 188.4h0M1148.2 189.0h0M1150.5 190.2h0M1144.4 193.4h0M1148.0 190.5h0M1152.6 184.2h0M1148.9 187.6h0M1139.2 193.0h0M1156.5 182.2h0M1139.4 195.1h0M1146.8 190.1h0M1169.5 174.1h0M1170.7 173.5h0M1172.1 176.5h0M1159.0 178.4h0M1164.4 175.1h0M1159.8 183.3h0M1174.8 167.0h0M1161.2 178.1h0M1168.3 179.2h0M1159.4 180.7h0M1184.1 163.0h0M1196.5 157.0h0M1198.6 155.7h0M1186.3 159.9h0M1181.2 167.6h0M1198.6 155.7h0M1193.3 157.2h0M1181.1 166.0h0M1181.9 164.2h0M1197.5 155.6h0M1201.4 155.0h0M1221.8 135.2h0M1219.3 140.7h0M1213.2 141.0h0M1214.9 145.9h0M1219.8 142.7h0M1218.0 137.1h0M1212.5 147.1h0M1218.3 140.3h0M1212.1 143.9h0M1210.0 145.0h0M1213.1 144.7h0M1230.5 133.7h0M1243.6 125.7h0M1241.4 125.9h0M1257.1 117.1h0M1241.6 125.4h0M1244.0 124.2h0M1237.2 125.9h0M1235.7 129.7h0M1245.8 126.6h0M1225.7 134.1h0M1232.5 131.5h0M1256.0 122.3h0M1249.9 125.6h0M1241.5 127.8h0M1229.7 134.9h0M1275.5 108.1h0M1274.5 109.7h0M1287.0 104.7h0M1282.6 104.9h0M1274.6 110.5h0M1267.9 112.9h0M1257.5 115.9h0M1269.3 114.1h0M1277.7 110.4h0M1260.1 115.2h0M1287.6 101.7h0M1263.7 115.8h0M1274.1 113.2h0M1286.5 105.4h0M1306.9 99.7h0M1294.7 101.1h0M1316.8 93.6h0M1294.9 103.3h0M1322.4 91.8h0M1297.7 102.8h0M1294.6 97.9h0M1314.7 94.5h0M1317.0 92.5h0M1292.2 99.0h0M1313.1 95.7h0M1303.1 99.7h0M1303.5 97.4h0M1314.2 94.7h0M1327.9 89.7h0M1343.7 85.8h0M1339.7 85.8h0M1331.0 90.9h0M1347.5 81.5h0M1340.6 86.6h0M1335.4 85.0h0M1332.2 84.9h0M1343.8 84.2h0M1348.1 81.0h0M1355.4 83.8h0M1350.0 80.2h0M1354.1 80.9h0M1355.5 81.8h0M1358.3 84.8h0M1377.9 91.7h0M1364.3 84.8h0M1373.4 91.5h0M1367.4 88.9h0M1379.1 94.0h0M1372.3 90.7h0M1360.4 85.8h0M1378.5 89.6h0M1378.4 89.6h0M1383.4 189.0h0M1377.3 191.2h0M1388.2 190.8h0M1381.5 188.3h0M1371.1 185.3h0M1387.6 188.4h0M1387.4 192.5h0M1388.2 187.3h0M1361.0 190.1h0M1360.1 193.6h0M1361.2 187.9h0M1369.1 186.9h0M1368.7 188.2h0M1367.8 191.5h0M1369.1 188.8h0M1350.1 196.9h0M1346.9 201.2h0M1348.6 198.9h0M1333.1 218.9h0M1333.2 212.4h0M1341.9 203.6h0M1338.5 204.6h0M1350.6 193.2h0M1334.1 212.8h0M1333.7 219.1h0M1338.3 207.2h0M1351.2 194.7h0M1334.1 212.6h0M1343.1 201.1h0M1328.1 224.4h0M1315.0 237.0h0M1320.7 226.5h0M1313.0 241.4h0M1326.3 228.7h0M1331.2 218.6h0M1325.3 230.0h0M1325.0 222.0h0M1318.4 236.6h0M1326.8 218.9h0M1313.4 239.0h0M1317.8 233.9h0M1307.1 256.5h0M1309.8 250.6h0M1310.2 243.9h0M1307.2 252.8h0M1300.2 259.1h0M1300.5 255.8h0M1310.5 246.6h0M1310.8 243.0h0M1303.9 260.7h0M1310.0 251.5h0M1299.9 260.0h0M1152.0 463.4h0M1148.3 465.6h0M1159.4 470.6h0M1157.1 467.3h0M1156.6 466.1h0" stroke="#c96db5" stroke-width="4.8" stroke-linecap="round" fill="none"/>
<path d="M1295.8 276.2h0M1295.1 267.3h0M1287.5 285.6h0M1296.5 270.1h0M1294.1 274.3h0M1297.2 271.6h0M1295.1 264.2h0M1286.2 284.9h0M1284.4 302.6h0M1290.8 290.3h0M1284.1 293.3h0M1285.7 298.9h0M1284.3 297.2h0M1287.4 291.1h0M1280.8 307.4h0M1274.0 325.8h0M1268.6 328.5h0M1276.8 319.5h0M1274.4 324.2h0M1276.8 320.0h0M1272.6 316.6h0M1273.2 322.0h0M1272.2 322.0h0M1268.7 337.8h0M1262.2 343.6h0M1263.1 350.3h0M1266.3 337.3h0M1268.5 331.9h0M1260.8 347.4h0M1270.0 333.5h0M1250.7 360.4h0M1262.2 356.4h0M1253.4 359.3h0M1262.3 354.1h0M1251.5 364.5h0M1261.4 357.8h0M1250.4 364.8h0M1230.7 376.2h0M1238.2 374.7h0M1227.7 383.2h0M1229.6 379.1h0M1235.7 377.1h0M1226.4 382.2h0M1241.0 375.3h0M1225.8 378.6h0M1223.4 385.4h0M1224.1 382.4h0M1211.1 396.4h0M1214.8 389.1h0M1221.0 388.1h0M1220.1 386.3h0M1219.6 391.8h0M1193.3 427.9h0M1198.6 417.7h0M1202.7 414.6h0M1201.3 421.7h0M1201.1 417.8h0M1205.5 408.9h0M1206.5 404.9h0M1208.6 403.6h0M1208.9 401.6h0M1206.7 402.0h0M1187.9 458.0h0M1186.2 463.0h0M1192.5 434.6h0M1190.6 437.8h0M1191.5 446.8h0M1190.6 450.7h0M1194.8 439.8h0M1194.3 438.6h0M1193.9 435.6h0M1189.8 445.2h0M1167.7 467.4h0M1172.6 464.7h0M1181.5 466.4h0M1183.8 461.7h0M1163.1 469.9h0M1163.8 468.7h0M1161.1 467.1h0M1176.8 467.5h0" stroke="#c96db5" stroke-width="4.8" stroke-linecap="round" fill="none"/>
<path d="M1069.8 584.5h0M1074.3 593.6h0M1078.3 589.5h0M1077.3 589.6h0M1072.7 583.2h0M1072.4 587.1h0M1067.2 564.7h0M1063.4 569.6h0M1067.8 570.6h0M1067.8 581.4h0M1065.9 575.1h0M1066.8 582.2h0M1064.4 575.4h0M1065.4 568.1h0M1061.7 558.8h0M1061.0 550.1h0M1062.5 553.8h0M1061.8 550.4h0M1060.2 547.1h0M1063.9 563.7h0M1065.9 560.6h0M1066.1 559.3h0M1059.9 557.1h0M1054.1 538.7h0M1054.1 533.6h0M1053.7 532.2h0M1053.7 526.6h0M1051.6 530.9h0M1052.0 533.3h0M1050.9 526.8h0M1053.4 528.6h0M1037.5 506.4h0M1042.3 508.7h0M1044.7 513.1h0M1044.0 519.6h0M1038.4 506.8h0M1037.2 504.4h0M1044.1 520.2h0M1036.2 506.9h0M1047.5 520.6h0M1040.3 509.4h0M1034.7 476.2h0M1037.8 492.2h0M1036.3 486.3h0M1034.7 500.9h0M1034.9 477.1h0M1035.1 479.0h0M1038.4 502.8h0M1034.4 502.7h0M1035.2 493.3h0M1035.4 500.7h0M1034.7 499.1h0M1032.6 492.0h0M1030.6 475.9h0M1038.0 496.7h0M1034.8 422.5h0M1034.8 443.3h0M1037.4 449.1h0M1036.1 449.1h0M1033.6 443.8h0M1038.4 427.6h0M1033.6 467.9h0M1035.4 431.9h0M1035.6 449.0h0M1033.3 460.9h0M1035.9 459.0h0M1034.8 430.3h0M1035.8 430.3h0M1033.4 436.6h0M1036.4 431.1h0M1034.7 420.0h0M1036.0 449.1h0M1035.4 456.1h0M1033.6 427.1h0M1035.4 415.1h0M1038.7 414.5h0M1036.9 409.7h0M1039.7 409.3h0M1038.9 417.1h0M1038.2 411.7h0M1036.3 406.0h0M1038.5 383.1h0M1040.4 392.8h0M1040.5 391.1h0M1039.7 379.5h0M1040.3 383.0h0M1038.5 401.6h0M1038.7 400.2h0M1038.8 399.1h0M1042.2 400.6h0M1039.0 397.9h0M1042.2 386.8h0M1041.2 400.6h0M1042.8 373.3h0M1044.8 361.3h0M1044.9 358.9h0M1049.2 357.7h0M1043.7 356.6h0M1044.9 366.0h0M1042.6 366.3h0M1043.1 361.7h0M1043.1 371.4h0M1052.7 345.4h0M1052.7 338.4h0M1053.9 333.0h0M1052.1 336.6h0M1054.9 336.1h0M1050.0 353.9h0M1048.4 352.6h0M1049.4 352.0h0M1048.0 342.8h0M1051.4 333.9h0M1057.7 321.7h0M1059.5 320.6h0M1057.2 322.3h0M1055.0 324.9h0M1053.5 327.7h0M1057.6 324.5h0M1053.2 326.6h0M1063.4 307.5h0M1057.0 329.6h0M1061.3 312.6h0M1062.7 307.5h0M1060.4 305.4h0M1066.2 298.4h0M1065.8 290.8h0M1060.9 304.3h0M1067.8 301.1h0M1065.3 291.6h0M1064.9 295.3h0M1070.8 280.4h0M1070.4 281.0h0M1073.1 280.6h0M1075.8 275.6h0M1069.1 281.0h0M1073.4 274.5h0M1070.8 283.5h0M1078.4 266.0h0M1073.1 270.4h0M1075.5 276.0h0M1082.4 248.1h0M1084.3 243.5h0M1085.0 249.0h0M1089.2 247.1h0M1082.5 248.5h0M1081.8 250.6h0M1079.9 255.0h0M1078.4 257.3h0M1080.7 252.6h0M1092.9 233.4h0M1094.2 238.1h0M1094.5 237.2h0M1094.0 231.2h0M1091.5 243.8h0M1094.3 231.7h0M1095.3 229.1h0M1101.6 218.3h0M1102.2 218.8h0M1100.9 219.6h0M1100.9 224.8h0M1102.9 225.1h0M1097.4 231.5h0M1110.8 210.9h0M1115.2 208.8h0M1109.5 216.4h0M1116.4 211.1h0M1109.5 210.1h0M1105.4 217.9h0M1105.9 218.1h0M1130.3 195.7h0M1129.5 197.7h0M1135.8 195.7h0M1128.5 203.1h0M1124.8 206.3h0M1121.8 201.1h0M1122.7 203.1h0M1127.3 197.9h0M1143.7 479.5h0M1147.7 484.2h0M1143.2 477.6h0M1147.2 467.8h0M1143.9 467.9h0M1143.9 473.3h0M1145.8 469.1h0M1146.4 479.2h0M1143.1 486.2h0M1142.0 496.6h0M1142.3 493.7h0M1142.9 487.5h0M1144.8 489.2h0M1137.9 493.4h0M1138.6 505.2h0M1132.8 507.4h0M1139.4 492.9h0M1137.5 502.1h0M1133.7 509.8h0M1135.0 501.8h0M1135.4 516.6h0M1125.8 529.0h0M1121.3 531.0h0M1132.6 519.4h0M1130.1 527.0h0M1135.0 516.4h0M1130.7 519.7h0M1130.5 516.7h0M1123.4 528.8h0M1126.2 524.3h0M1118.9 551.5h0M1116.8 547.2h0M1121.8 540.8h0M1121.9 535.2h0M1122.2 537.7h0M1123.7 539.9h0M1117.8 555.0h0M1114.8 555.8h0M1118.8 548.1h0M1116.4 548.9h0M1109.9 566.5h0M1114.9 561.3h0M1103.4 567.6h0M1111.8 565.3h0M1114.6 560.7h0M1109.2 561.4h0M1109.1 565.4h0M1109.2 568.3h0M1100.1 581.1h0M1098.9 577.2h0M1097.2 582.9h0M1101.5 573.6h0M1103.6 576.9h0M1090.8 586.8h0M1093.2 587.9h0M1081.7 594.2h0M1092.1 589.6h0M1087.7 591.4h0M1086.4 594.3h0M1090.9 592.4h0M1088.5 593.3h0M1136.9 197.6h0M1139.1 194.5h0M1143.0 189.9h0M1144.3 194.3h0M1160.4 202.3h0M1160.7 199.5h0M1158.5 199.9h0M1156.9 198.9h0M1162.4 204.6h0M1159.3 196.3h0M1154.0 192.3h0M1169.9 209.3h0M1169.9 212.5h0M1169.1 214.8h0M1169.7 209.5h0M1176.6 231.3h0M1171.1 220.9h0M1180.0 234.5h0M1174.3 217.1h0M1180.0 227.6h0M1178.6 226.8h0M1176.5 265.9h0M1183.5 241.0h0M1174.8 273.7h0M1173.5 272.9h0M1182.9 238.3h0M1177.5 265.3h0M1177.7 243.3h0M1177.8 252.4h0M1174.7 257.2h0M1182.5 248.8h0M1174.4 267.0h0M1175.9 276.1h0M1180.4 246.0h0M1181.4 251.0h0M1171.9 285.1h0M1173.1 290.0h0M1169.7 287.2h0M1165.2 313.6h0M1165.0 321.5h0M1164.5 302.0h0M1173.4 286.0h0M1167.1 305.8h0M1169.2 285.7h0M1162.0 320.0h0M1166.7 302.5h0M1165.6 306.4h0M1166.3 297.6h0M1167.3 307.8h0M1153.8 361.1h0M1157.1 342.9h0M1156.3 358.0h0M1153.4 365.6h0M1156.5 346.7h0M1155.9 360.8h0M1158.6 337.4h0M1160.3 330.7h0M1160.7 335.5h0M1154.7 344.2h0M1156.4 354.7h0M1154.8 355.5h0M1149.9 383.1h0M1147.6 394.0h0M1151.9 370.5h0M1151.6 381.4h0M1150.7 394.6h0M1149.4 386.2h0M1149.8 396.0h0M1153.3 386.0h0M1153.1 381.4h0M1152.2 423.5h0M1147.8 420.3h0M1150.7 429.7h0M1149.8 412.8h0M1147.2 414.6h0M1147.6 429.8h0M1152.4 435.0h0M1150.8 433.1h0M1149.4 409.1h0M1151.7 414.0h0M1151.9 434.1h0M1146.9 446.3h0M1147.9 458.5h0M1150.9 447.0h0M1146.1 458.1h0M1148.3 441.3h0M1148.2 461.2h0M1147.8 441.6h0M1148.8 453.3h0" stroke="#b94ea6" stroke-width="4.8" stroke-linecap="round" fill="none"/>
<path d="M1426.3 114.4h0M1423.1 113.3h0M1436.0 111.1h0M1421.9 114.6h0M1434.3 113.0h0M1439.1 111.0h0M1430.3 112.4h0M1437.9 110.8h0M1450.4 112.9h0M1459.1 108.0h0M1461.4 112.9h0M1449.6 112.7h0M1458.2 110.8h0M1446.6 107.9h0M1462.3 108.6h0M1461.5 112.0h0M1462.2 111.2h0M1459.1 112.0h0M1482.7 121.7h0M1470.7 115.3h0M1468.4 108.7h0M1482.7 119.3h0M1485.1 119.0h0M1468.0 108.2h0M1482.2 120.9h0M1473.6 115.0h0M1465.0 112.2h0M1472.2 110.9h0M1490.9 128.9h0M1495.2 132.1h0M1495.3 134.0h0M1487.8 128.9h0M1492.5 134.4h0M1494.7 134.3h0M1489.2 126.7h0M1496.7 134.4h0M1495.9 148.3h0M1497.1 152.9h0M1498.7 146.4h0M1499.5 142.8h0M1499.8 144.0h0M1498.9 150.7h0M1498.3 153.2h0M1500.7 157.5h0M1503.5 168.7h0M1503.7 164.7h0M1502.4 164.8h0M1502.7 167.1h0M1500.9 172.2h0M1500.5 170.4h0M1501.7 164.6h0M1503.9 169.7h0M1501.8 182.5h0M1503.3 179.4h0M1505.3 187.7h0M1501.9 183.9h0M1504.2 184.7h0M1503.5 186.3h0M1504.0 189.2h0M1508.2 180.5h0M1503.1 198.1h0M1503.6 204.1h0M1508.1 203.5h0M1505.3 200.8h0M1506.3 211.3h0M1506.0 215.5h0M1509.7 208.2h0M1508.5 210.9h0M1509.2 209.4h0M1511.0 224.2h0M1519.0 240.7h0M1513.5 230.5h0M1517.5 236.2h0M1511.3 224.8h0M1512.6 225.5h0M1515.1 233.4h0M1519.4 241.3h0M1512.4 222.9h0M1515.7 240.6h0M1521.5 245.7h0M1522.7 260.0h0M1518.0 246.5h0M1522.6 262.1h0M1519.1 250.6h0M1517.8 248.9h0M1520.3 245.2h0M1518.8 249.7h0M1523.6 259.3h0M1504.0 455.6h0M1506.5 466.3h0M1498.8 426.3h0M1502.9 448.0h0M1505.6 451.4h0M1503.9 459.1h0M1502.4 437.7h0M1501.0 455.4h0M1498.5 438.4h0M1496.9 432.5h0M1501.6 429.3h0M1504.5 445.8h0M1501.3 433.9h0M1501.1 457.5h0M1502.1 463.8h0M1502.2 438.5h0M1498.4 426.8h0M1505.3 452.2h0M1491.0 381.2h0M1493.7 382.1h0M1493.1 389.1h0M1497.8 400.1h0M1496.6 392.3h0M1501.0 420.1h0M1500.6 421.7h0M1496.9 399.2h0M1499.6 414.3h0M1493.6 390.8h0M1493.8 383.2h0M1493.0 386.4h0M1495.2 408.0h0M1496.4 423.0h0M1498.2 417.5h0M1494.0 403.2h0M1495.3 383.6h0M1494.9 401.5h0M1485.8 345.5h0M1492.4 360.3h0M1492.8 364.3h0M1494.7 377.1h0M1491.6 375.7h0M1495.7 376.2h0M1488.2 345.6h0M1487.3 361.6h0M1492.1 359.7h0M1484.8 353.3h0M1488.4 341.8h0M1486.0 358.3h0M1488.7 352.7h0M1493.6 379.9h0M1491.1 379.9h0M1477.6 316.9h0M1482.7 337.2h0M1483.8 334.3h0M1485.6 332.2h0M1483.7 341.9h0M1479.6 321.4h0M1484.1 339.4h0M1484.8 332.2h0M1484.2 333.8h0M1479.0 319.7h0M1485.3 340.4h0M1482.9 338.8h0M1475.3 311.8h0M1474.9 310.8h0M1478.2 307.0h0M1463.4 279.5h0M1471.1 297.7h0M1467.1 288.2h0M1471.3 292.9h0M1470.8 300.5h0M1468.9 286.7h0M1476.1 308.8h0M1466.0 280.4h0M1470.5 285.2h0M1473.3 302.3h0M1477.0 302.9h0M1471.1 288.4h0M1467.0 287.3h0M1459.8 269.5h0M1456.6 260.7h0M1461.5 269.2h0M1456.9 263.1h0M1462.3 273.3h0M1462.9 273.0h0M1452.2 258.4h0M1458.3 265.5h0M1458.6 261.6h0M1453.2 256.3h0M1456.3 269.3h0M1448.2 247.8h0M1443.4 237.7h0M1449.2 252.1h0M1444.7 246.4h0M1448.5 246.6h0M1444.3 243.1h0M1448.8 250.6h0M1439.6 240.6h0M1444.3 246.6h0M1440.4 242.5h0M1436.4 231.9h0M1438.2 230.0h0M1432.4 207.7h0M1435.9 221.3h0M1433.8 223.5h0M1433.6 207.1h0M1434.3 218.2h0M1434.7 210.1h0M1434.4 224.0h0M1432.2 220.9h0M1432.5 220.6h0M1432.7 213.9h0M1428.0 205.4h0M1428.9 201.5h0M1424.3 202.4h0M1427.4 200.6h0M1421.1 204.0h0M1419.4 204.7h0M1415.1 198.5h0M1410.1 112.8h0M1415.2 114.1h0M1413.8 109.7h0M1413.9 112.2h0M1525.5 266.0h0M1530.6 287.7h0M1530.7 280.3h0M1527.2 287.3h0M1525.5 272.4h0M1529.2 283.3h0M1532.1 286.5h0M1527.1 294.3h0M1525.7 319.9h0M1524.7 316.4h0M1526.0 312.8h0M1525.1 312.6h0M1528.2 302.9h0M1527.9 296.4h0M1525.0 323.1h0M1525.9 313.7h0M1531.1 297.8h0M1528.3 291.2h0M1530.2 295.6h0M1520.3 337.8h0M1520.8 349.2h0M1517.1 357.0h0M1517.3 368.2h0M1516.6 360.9h0M1521.3 353.3h0M1520.6 342.4h0M1524.1 332.2h0M1519.4 363.3h0M1520.2 352.6h0M1519.5 351.2h0M1520.7 340.7h0M1510.6 417.3h0M1513.8 376.2h0M1513.6 378.0h0M1508.8 408.5h0M1511.4 395.8h0M1509.4 409.4h0M1510.0 400.0h0M1512.2 407.3h0M1511.8 388.2h0M1511.2 416.4h0M1508.7 415.9h0M1512.8 404.9h0M1515.6 383.9h0M1512.1 404.3h0M1516.8 381.4h0M1511.1 429.5h0M1510.2 446.1h0M1509.9 439.8h0M1505.7 461.7h0M1507.9 444.0h0M1507.9 420.7h0M1508.6 466.2h0M1505.7 447.3h0M1503.4 460.9h0M1503.5 463.7h0M1506.4 426.9h0M1504.6 467.8h0M1507.4 462.8h0M1510.3 441.2h0M1504.9 442.6h0M1409.3 193.7h0M1412.2 197.0h0M1411.8 195.7h0M1408.6 191.7h0M1408.5 191.4h0M1409.7 192.6h0M1401.0 153.6h0M1400.0 158.6h0M1403.1 179.5h0M1405.9 179.9h0M1401.3 152.8h0M1401.7 177.7h0M1401.6 157.9h0M1407.2 179.5h0M1404.0 158.2h0M1401.8 150.3h0M1403.0 152.1h0M1402.0 135.5h0M1401.1 123.0h0M1403.0 138.8h0M1404.7 109.4h0M1406.9 111.1h0M1402.7 111.9h0M1402.9 134.0h0M1406.0 116.1h0M1401.7 145.1h0M1399.0 148.8h0M1400.3 147.8h0M1401.6 144.8h0" stroke="#d898c6" stroke-width="4.8" stroke-linecap="round" fill="none"/>
<path d="M1382.6 90.2h0M1394.7 103.2h0M1384.4 92.1h0M1381.6 94.2h0M1393.3 99.5h0M1391.4 99.2h0M1385.9 95.4h0M1412.2 114.0h0M1402.5 106.1h0M1410.4 111.3h0M1414.9 110.8h0M1414.4 110.8h0M1414.6 111.9h0M1391.8 193.0h0M1402.0 195.9h0M1413.8 197.7h0M1409.0 200.0h0M1411.9 197.0h0M1396.9 194.0h0M1402.2 196.0h0M1401.4 197.8h0" stroke="#d898c6" stroke-width="4.8" stroke-linecap="round" fill="none"/>
<path d="M1538.9 274.2h0M1534.2 272.8h0M1531.1 270.2h0M1534.3 272.5h0M1536.7 272.2h0M1528.6 266.8h0M1535.9 273.2h0M1548.5 275.9h0M1542.1 275.2h0M1544.4 274.5h0M1553.7 271.1h0M1542.1 274.4h0M1557.6 268.2h0M1544.4 272.4h0M1548.5 275.2h0M1569.9 276.1h0M1567.2 278.4h0M1566.1 272.2h0M1575.7 281.9h0M1575.3 282.4h0M1565.7 273.1h0M1574.2 282.9h0M1570.4 274.9h0M1584.9 289.0h0M1583.8 291.5h0M1579.3 286.4h0M1589.2 302.6h0M1590.0 297.8h0M1580.0 286.7h0M1592.2 299.6h0M1575.7 285.1h0M1576.4 282.5h0M1591.2 302.1h0M1595.9 311.1h0M1606.1 318.7h0M1600.1 314.3h0M1596.7 305.2h0M1597.9 310.0h0M1609.7 326.8h0M1610.2 324.1h0M1602.0 313.3h0M1594.0 303.0h0M1603.6 321.0h0M1595.7 310.6h0M1602.4 322.1h0M1608.9 331.6h0M1617.9 353.0h0M1619.0 343.7h0M1619.2 349.8h0M1615.1 347.6h0M1614.7 332.6h0M1617.6 352.6h0M1610.8 330.7h0M1618.4 349.9h0M1612.4 342.7h0M1610.7 329.1h0M1628.6 381.0h0M1620.7 361.3h0M1628.8 379.4h0M1630.8 380.0h0M1623.7 373.9h0M1621.4 360.1h0M1625.7 377.7h0M1623.7 360.6h0M1621.6 356.4h0M1629.5 377.5h0M1629.9 378.0h0M1623.8 366.9h0M1636.6 402.4h0M1630.5 391.0h0M1633.0 400.0h0M1629.0 388.5h0M1634.0 399.0h0M1630.3 389.7h0M1628.5 383.9h0M1630.7 391.6h0M1634.3 394.6h0M1631.6 388.9h0M1635.8 409.4h0M1633.9 408.3h0M1638.5 414.6h0M1637.9 407.4h0M1639.3 411.8h0M1633.9 410.6h0M1635.6 423.3h0M1637.0 423.4h0M1641.8 445.5h0M1638.2 430.0h0M1639.9 456.7h0M1643.0 456.6h0M1638.2 447.4h0M1639.3 448.6h0M1641.9 453.2h0M1643.2 453.2h0M1642.5 451.7h0M1637.3 431.7h0M1641.0 450.7h0M1642.0 439.7h0M1641.1 452.4h0M1639.3 446.8h0M1644.1 484.3h0M1646.3 461.8h0M1648.1 486.1h0M1642.4 475.7h0M1643.7 463.9h0M1640.7 459.8h0M1647.0 486.1h0M1648.5 483.6h0M1644.4 484.6h0M1649.0 481.4h0M1643.1 467.6h0M1646.5 485.2h0M1646.1 480.3h0M1648.5 500.4h0M1644.9 519.7h0M1647.8 501.6h0M1646.3 502.0h0M1647.2 496.1h0M1647.2 502.5h0M1649.3 503.1h0M1646.5 520.3h0M1642.7 515.4h0M1647.3 503.5h0M1642.9 513.1h0M1645.1 508.4h0M1648.2 494.5h0M1641.4 545.8h0M1638.0 548.1h0M1643.2 532.2h0M1645.5 527.6h0M1639.1 542.8h0M1641.8 530.0h0M1638.6 545.5h0M1644.5 526.2h0M1642.3 528.5h0M1642.2 546.8h0M1636.0 556.4h0M1644.2 537.3h0M1640.9 549.9h0M1633.7 565.9h0M1634.7 568.8h0M1634.9 567.5h0M1638.7 559.4h0M1634.7 568.8h0M1631.3 583.9h0M1632.1 589.5h0M1632.5 581.8h0M1637.5 564.5h0M1635.1 569.7h0M1632.2 573.0h0M1632.0 583.8h0M1631.0 582.6h0M1636.1 557.8h0M1622.4 604.6h0M1616.7 609.2h0M1625.6 604.6h0M1625.5 602.8h0M1623.7 600.5h0M1629.5 596.6h0M1623.0 600.9h0M1621.9 601.2h0M1615.7 611.2h0M1626.1 598.1h0M1612.7 615.8h0M1604.1 627.9h0M1612.4 621.2h0M1612.4 625.6h0M1613.6 617.8h0M1606.3 634.8h0M1613.2 620.0h0M1613.3 622.6h0M1616.7 617.1h0M1618.7 614.7h0M1615.4 612.6h0M1597.3 646.4h0M1594.7 650.3h0M1589.9 652.2h0M1599.7 639.9h0M1595.4 641.2h0M1602.3 641.5h0M1597.5 638.3h0M1593.4 647.7h0M1595.3 644.9h0M1597.1 644.2h0M1583.3 673.9h0M1584.7 670.6h0M1590.7 660.8h0M1588.3 677.6h0M1589.2 667.4h0M1588.4 669.2h0M1588.1 677.4h0M1583.1 674.6h0M1585.9 665.5h0M1581.6 681.4h0M1583.9 681.4h0M1585.2 681.5h0M1571.4 688.8h0M1571.9 688.8h0M1580.5 682.5h0M1577.8 680.5h0M1585.8 681.0h0M1561.0 695.3h0M1567.2 690.5h0M1554.0 697.7h0M1563.7 693.1h0M1566.7 694.9h0M1564.7 693.5h0M1556.2 697.5h0M1555.3 700.1h0M1551.9 695.9h0M1550.8 696.9h0M1548.7 692.5h0M1546.3 694.0h0M1543.5 688.5h0M1550.8 697.0h0M1539.3 687.0h0M1537.7 675.2h0M1539.1 678.7h0M1540.9 680.9h0M1532.7 668.5h0M1530.4 665.8h0M1535.3 680.2h0M1539.6 677.9h0M1532.4 669.4h0M1537.8 676.8h0M1542.5 686.5h0M1525.8 659.3h0M1525.0 643.6h0M1525.1 648.7h0M1522.5 625.4h0M1516.9 625.0h0M1524.8 651.2h0M1520.4 627.2h0M1521.1 642.1h0M1523.9 631.0h0M1526.0 654.8h0M1531.8 662.5h0M1525.1 654.8h0M1521.2 628.6h0M1523.3 646.3h0M1518.2 625.7h0M1522.5 633.9h0M1528.4 647.3h0M1515.3 612.5h0M1518.2 622.2h0M1514.0 582.3h0M1515.2 608.5h0M1515.4 587.8h0M1515.1 610.1h0M1518.9 611.8h0M1516.7 602.4h0M1516.1 593.4h0M1512.1 600.2h0M1512.7 594.6h0M1513.6 585.8h0M1515.3 593.1h0M1515.1 585.7h0M1514.7 582.7h0M1518.6 612.2h0M1518.0 607.9h0M1515.5 598.9h0M1509.3 571.4h0M1514.2 574.9h0M1509.1 539.1h0M1511.6 559.2h0M1507.9 548.7h0M1507.0 536.5h0M1513.3 574.3h0M1512.3 564.8h0M1510.7 554.6h0M1513.0 556.4h0M1512.9 561.4h0M1513.3 553.2h0M1510.6 574.8h0M1509.0 578.5h0M1510.6 555.4h0M1509.5 571.4h0M1514.2 570.4h0M1509.4 521.2h0M1508.9 520.7h0M1512.8 532.5h0M1510.0 515.5h0M1505.4 505.3h0M1508.0 533.2h0M1507.6 529.6h0M1511.1 521.9h0M1510.0 515.3h0M1511.5 518.3h0M1505.6 506.0h0M1511.3 512.5h0M1508.4 507.8h0M1506.0 498.9h0M1504.7 499.0h0M1505.9 476.0h0M1508.2 489.5h0M1509.6 491.0h0M1505.2 494.3h0M1510.1 494.3h0M1503.8 472.6h0M1502.6 471.2h0M1505.8 478.6h0M1507.8 494.2h0M1507.4 494.3h0M1505.5 477.1h0M1507.6 425.0h0M1503.4 458.1h0M1504.5 451.2h0M1504.5 453.7h0M1506.2 445.1h0M1511.4 423.7h0M1507.3 451.4h0M1503.2 464.2h0M1506.7 428.6h0M1505.5 450.6h0M1504.7 458.2h0M1509.0 458.1h0M1507.4 457.0h0M1509.1 457.2h0M1509.6 425.2h0M1516.7 384.0h0M1510.6 393.6h0M1512.5 416.5h0M1515.3 371.9h0M1517.7 375.9h0M1513.4 404.5h0M1515.7 381.2h0M1508.7 408.1h0M1510.6 403.2h0M1512.3 393.8h0M1511.3 399.8h0M1509.5 413.0h0M1512.7 386.5h0M1517.6 375.6h0M1511.5 396.9h0M1516.2 387.6h0M1515.6 361.3h0M1518.9 368.4h0M1517.0 358.7h0M1519.4 339.2h0M1517.5 340.7h0M1515.6 353.3h0M1519.7 337.0h0M1522.4 337.7h0M1515.5 365.4h0M1521.9 338.4h0M1516.3 352.9h0M1516.1 363.1h0M1529.4 304.3h0M1527.9 302.4h0M1526.9 309.0h0M1519.7 327.4h0M1525.9 308.2h0M1527.4 295.0h0M1523.3 315.8h0M1529.0 304.2h0M1522.1 325.9h0M1528.8 303.1h0M1526.2 298.8h0M1527.5 301.1h0M1531.1 284.6h0M1526.4 266.5h0M1528.3 285.8h0M1530.6 280.2h0M1528.7 285.7h0M1528.5 280.6h0M1523.9 271.9h0M1526.5 284.5h0" stroke="#d9bcdb" stroke-width="4.8" stroke-linecap="round" fill="none"/>
<path d="" stroke="#3d786e" stroke-width="4.8" stroke-linecap="round" fill="none"/>
<path d="M1602.8 323.0h0M1601.8 319.8h0M1596.8 314.7h0M1607.7 326.9h0M1604.5 326.5h0M1607.0 324.2h0M1601.7 321.5h0M1612.1 330.7h0M1610.5 337.9h0M1611.5 336.2h0M1612.5 341.4h0M1616.5 344.6h0M1614.5 349.4h0M1620.9 359.6h0M1616.8 355.6h0M1618.4 354.7h0M1622.0 355.6h0M1618.5 349.3h0M1624.7 367.3h0M1624.5 385.0h0M1626.6 403.7h0M1625.2 389.2h0M1627.7 379.3h0M1623.9 376.5h0M1628.9 386.2h0M1623.2 372.9h0M1629.4 401.6h0M1624.0 385.2h0M1626.8 393.8h0M1624.6 386.1h0M1628.3 405.8h0M1637.7 416.8h0M1638.1 423.0h0M1635.9 412.3h0M1629.1 407.8h0M1635.4 418.5h0M1639.0 440.3h0M1647.3 467.3h0M1638.5 436.3h0M1641.3 455.1h0M1639.8 430.3h0M1644.3 444.7h0M1644.1 449.1h0M1640.1 446.7h0M1636.4 428.7h0M1644.1 457.3h0M1637.9 428.7h0M1638.3 443.8h0M1640.8 445.2h0M1645.9 475.1h0M1645.4 478.4h0M1644.2 479.7h0M1645.8 506.7h0M1648.3 481.1h0M1647.3 501.9h0M1649.4 511.8h0M1644.2 496.0h0M1646.3 482.3h0M1648.5 480.0h0M1647.7 511.3h0M1649.8 505.1h0M1647.0 508.6h0M1646.8 526.7h0M1644.7 533.5h0M1646.9 528.0h0M1649.9 514.7h0M1648.0 519.7h0M1640.7 549.7h0M1646.0 538.2h0M1642.4 526.5h0M1638.9 552.2h0M1643.9 528.8h0M1644.7 523.9h0M1643.2 536.5h0M1648.4 515.6h0M1645.2 525.5h0M1636.5 569.7h0M1635.2 576.2h0M1636.3 568.6h0M1632.3 577.6h0M1635.8 578.9h0M1635.9 568.8h0M1630.4 580.2h0M1631.9 581.4h0M1635.1 578.0h0M1635.0 576.6h0M1623.6 596.7h0M1615.6 623.1h0M1623.9 608.7h0M1617.9 618.6h0M1617.7 619.5h0M1620.5 607.1h0M1618.1 609.2h0M1618.2 614.9h0M1624.0 603.7h0M1620.7 604.8h0M1630.1 592.0h0M1611.1 624.3h0M1607.3 628.0h0M1609.4 626.5h0M1602.8 638.4h0M1604.8 631.8h0M1600.5 638.8h0M1599.7 636.7h0M1598.2 638.1h0M1595.6 633.4h0M1599.5 638.7h0M1592.8 630.6h0M1598.3 621.7h0M1595.2 616.4h0M1596.1 621.6h0M1594.1 625.0h0M1599.2 615.9h0M1593.9 620.9h0M1596.3 615.3h0M1598.7 613.0h0M1601.3 603.7h0M1604.8 587.7h0M1606.3 594.2h0M1609.3 577.8h0M1607.2 570.4h0M1614.4 558.7h0M1604.9 588.5h0M1608.1 565.4h0M1608.4 572.3h0M1609.6 558.2h0M1606.2 578.5h0M1607.2 594.7h0M1608.5 565.8h0M1609.9 557.0h0M1609.5 549.0h0M1606.7 537.6h0M1610.7 530.2h0M1609.1 525.3h0M1610.2 552.8h0M1614.1 552.4h0M1610.9 536.9h0M1610.4 531.5h0M1606.2 525.3h0M1610.4 545.0h0M1605.0 497.1h0M1608.1 506.9h0M1609.7 519.8h0M1607.3 519.3h0M1603.5 476.9h0M1604.7 496.1h0M1608.3 517.9h0M1604.8 475.5h0M1604.2 474.6h0M1608.2 487.2h0M1608.8 514.3h0M1606.5 508.8h0M1609.9 516.1h0M1606.5 508.4h0M1604.9 478.3h0M1606.8 492.8h0M1606.4 449.3h0M1607.5 459.4h0M1606.9 469.4h0M1606.2 446.1h0M1602.2 462.8h0M1602.9 434.6h0M1606.5 457.2h0M1602.1 442.5h0M1604.4 443.4h0M1605.0 467.8h0M1601.9 442.6h0M1602.5 428.7h0M1602.8 444.3h0M1607.0 450.0h0M1600.1 403.6h0M1600.5 406.2h0M1602.7 381.5h0M1604.2 417.5h0M1601.3 384.6h0M1598.8 382.7h0M1601.9 383.7h0M1600.7 394.1h0M1603.5 392.0h0M1599.6 416.4h0M1598.5 396.2h0M1602.4 384.3h0M1597.8 380.3h0M1600.9 377.6h0M1597.1 376.3h0M1597.0 373.1h0M1598.1 349.1h0M1597.7 355.3h0M1596.1 365.1h0M1596.6 373.6h0M1598.3 377.0h0M1594.7 361.0h0M1597.2 360.3h0M1596.0 369.7h0M1590.4 323.3h0M1588.9 327.6h0M1595.4 340.3h0M1594.2 342.9h0M1590.7 336.5h0M1593.5 344.1h0M1591.0 330.7h0M1590.1 324.4h0M1589.1 317.6h0M1589.6 316.0h0M1590.3 318.1h0M1590.4 316.4h0" stroke="#3d786e" stroke-width="4.8" stroke-linecap="round" fill="none"/>
<line x1="1104.9" y1="366.4" x2="1560.4" y2="482.6" stroke="#c2c2c2" stroke-width="1.2" stroke-dasharray="8.5 8"/>
<line x1="1104.9" y1="370.4" x2="1560.4" y2="486.6" stroke="#c2c2c2" stroke-width="1.2" stroke-dasharray="8.5 8"/>
<line x1="1104.9" y1="374.4" x2="1560.4" y2="490.6" stroke="#c2c2c2" stroke-width="1.2" stroke-dasharray="8.5 8"/>
<line x1="1265.1" y1="190.2" x2="1560.4" y2="482.6" stroke="#c2c2c2" stroke-width="1.2" stroke-dasharray="8.5 8"/>
<line x1="1265.1" y1="194.2" x2="1560.4" y2="486.6" stroke="#c2c2c2" stroke-width="1.2" stroke-dasharray="8.5 8"/>
<line x1="1464.0" y1="173.6" x2="1104.9" y2="360.4" stroke="#c2c2c2" stroke-width="1.2" stroke-dasharray="8.5 8"/>
<line x1="1104.9" y1="366.4" x2="1265.1" y2="190.2" stroke="#000" stroke-width="3.2"/>
<line x1="1265.1" y1="190.2" x2="1464.0" y2="173.6" stroke="#000" stroke-width="5.0"/>
<line x1="1464.0" y1="173.6" x2="1560.4" y2="488.6" stroke="#000" stroke-width="3.6"/>
<line x1="1560.4" y1="488.6" x2="1610.7" y2="489.0" stroke="#000" stroke-width="8.5"/>
<circle cx="1104.9" cy="366.4" r="19.3" fill="#b94ea6" stroke="#000" stroke-width="2.0"/>
<circle cx="1265.1" cy="190.2" r="19.3" fill="#c96db5" stroke="#000" stroke-width="2.0"/>
<circle cx="1464.0" cy="173.6" r="19.3" fill="#d898c6" stroke="#000" stroke-width="2.0"/>
<circle cx="1560.4" cy="488.6" r="19.3" fill="#d9bcdb" stroke="#000" stroke-width="2.0"/>
<circle cx="1610.7" cy="489.0" r="19.3" fill="#3d786e" stroke="#000" stroke-width="2.0"/>
<text class="c" x="1302" y="759.8" font-size="26" letter-spacing="4.7" fill="#000">FA_x</text>
<g transform="translate(977.2 429) rotate(-90)"><text class="c" x="0" y="0" font-size="26" letter-spacing="3.7" fill="#000">FA_y</text></g>
<text x="1697.2" y="324.3" font-size="26" fill="#000">Identity</text>
<circle cx="1708.5" cy="347.8" r="15.5" fill="#3d786e"/>
<text class="c" x="1729" y="357.4" font-size="26" fill="#000">CD8 RTE</text>
<circle cx="1708.5" cy="386.3" r="15.5" fill="#d9bcdb"/>
<text class="c" x="1729" y="395.9" font-size="26" fill="#000">CD8 T<tspan font-size="15.3" dy="8" dx="-0.5">N</tspan></text>
<circle cx="1708.5" cy="424.7" r="15.5" fill="#d898c6"/>
<text class="c" x="1729" y="434.3" font-size="26" fill="#000">CD8 T<tspan font-size="15.3" dy="8" dx="-0.5">CM</tspan></text>
<circle cx="1708.5" cy="463.2" r="15.5" fill="#c96db5"/>
<text class="c" x="1729" y="472.8" font-size="26" fill="#000">CD8 T<tspan font-size="15.3" dy="8" dx="-0.5">EM-K</tspan></text>
<circle cx="1708.5" cy="501.7" r="15.5" fill="#b94ea6"/>
<text class="c" x="1729" y="511.3" font-size="26" fill="#000">CD8 T<tspan font-size="15.3" dy="8" dx="-0.5">EM-B</tspan></text>
<rect x="137.5" y="865.4" width="545.5" height="564.9" fill="none" stroke="#333" stroke-width="1.3"/>
<rect x="150.50" y="879.00" width="129.93" height="134.25" fill="#2d3565" stroke="#1a1a1a" stroke-width="1.1"/>
<rect x="280.43" y="879.00" width="129.93" height="134.25" fill="#3b57a4" stroke="#1a1a1a" stroke-width="1.1"/>
<rect x="410.35" y="879.00" width="129.93" height="134.25" fill="#3e6cb0" stroke="#1a1a1a" stroke-width="1.1"/>
<rect x="540.28" y="879.00" width="129.93" height="134.25" fill="#e07527" stroke="#1a1a1a" stroke-width="1.1"/>
<rect x="150.50" y="1013.25" width="129.93" height="134.25" fill="#a38f93" stroke="#1a1a1a" stroke-width="1.1"/>
<rect x="280.43" y="1013.25" width="129.93" height="134.25" fill="#3a52a2" stroke="#1a1a1a" stroke-width="1.1"/>
<rect x="410.35" y="1013.25" width="129.93" height="134.25" fill="#e07527" stroke="#1a1a1a" stroke-width="1.1"/>
<rect x="540.28" y="1013.25" width="129.93" height="134.25" fill="#3e6cb0" stroke="#1a1a1a" stroke-width="1.1"/>
<rect x="150.50" y="1147.50" width="129.93" height="134.25" fill="#e2ac3b" stroke="#1a1a1a" stroke-width="1.1"/>
<rect x="280.43" y="1147.50" width="129.93" height="134.25" fill="#e07527" stroke="#1a1a1a" stroke-width="1.1"/>
<rect x="410.35" y="1147.50" width="129.93" height="134.25" fill="#3a52a2" stroke="#1a1a1a" stroke-width="1.1"/>
<rect x="540.28" y="1147.50" width="129.93" height="134.25" fill="#3b57a4" stroke="#1a1a1a" stroke-width="1.1"/>
<rect x="150.50" y="1281.75" width="129.93" height="134.25" fill="#e07527" stroke="#1a1a1a" stroke-width="1.1"/>
<rect x="280.43" y="1281.75" width="129.93" height="134.25" fill="#e2ac3b" stroke="#1a1a1a" stroke-width="1.1"/>
<rect x="410.35" y="1281.75" width="129.93" height="134.25" fill="#a38f93" stroke="#1a1a1a" stroke-width="1.1"/>
<rect x="540.28" y="1281.75" width="129.93" height="134.25" fill="#2d3565" stroke="#1a1a1a" stroke-width="1.1"/>
<text class="c" x="398.0" y="842.1" font-size="26" text-anchor="middle" fill="#3c3c3c">CD4</text>
<text class="c" x="126.5" y="958.9" font-size="25.5" text-anchor="end" fill="#3c3c3c"><tspan font-style="italic">SOX4</tspan><tspan font-size="15" dy="-8.5" dx="0.5">hi</tspan><tspan dy="8.5" dx="3.5">SP</tspan></text>
<text class="c" x="126.5" y="1093.2" font-size="25.5" text-anchor="end" fill="#3c3c3c"><tspan font-style="italic">SOX4</tspan><tspan font-size="15" dy="-8.5" dx="0.5">lo</tspan><tspan dy="8.5" dx="3.5">SP</tspan></text>
<text class="c" x="126.5" y="1222.9" font-size="25.5" text-anchor="end" fill="#3c3c3c">RTE</text>
<text class="c" x="126.5" y="1354.8" font-size="25" text-anchor="end" fill="#3c3c3c">T<tspan font-size="14.5" dy="9.2" dx="1.5">N</tspan></text>
<g transform="rotate(-45 235.0 1447.8)"><text class="c" x="235.0" y="1447.8" font-size="25.5" text-anchor="end" fill="#3c3c3c">T<tspan font-size="15" dy="7">N</tspan></text></g>
<g transform="rotate(-45 364.9 1447.8)"><text class="c" x="364.9" y="1447.8" font-size="25.5" text-anchor="end" fill="#3c3c3c">RTE</text></g>
<g transform="rotate(-45 494.8 1447.8)"><text class="c" x="502.3" y="1453.3" font-size="25.5" text-anchor="end" fill="#3c3c3c"><tspan font-style="italic">SOX4</tspan><tspan font-size="15" dy="-8.5" dx="0.5">lo</tspan><tspan dy="8.5" dx="3.5">SP</tspan></text></g>
<g transform="rotate(-45 624.7 1447.8)"><text class="c" x="632.2" y="1453.3" font-size="25.5" text-anchor="end" fill="#3c3c3c"><tspan font-style="italic">SOX4</tspan><tspan font-size="15" dy="-8.5" dx="0.5">hi</tspan><tspan dy="8.5" dx="3.5">SP</tspan></text></g>
<text x="708.5" y="1072.8" font-size="26" fill="#000">Spearman</text>
<text x="708.5" y="1100.8" font-size="26" fill="#000">Correlation</text>
<defs><linearGradient id="cb707" x1="0" y1="0" x2="0" y2="1"><stop offset="0" stop-color="#e07024"/><stop offset="0.30" stop-color="#e2b637"/><stop offset="0.52" stop-color="#a8959a"/><stop offset="0.66" stop-color="#3f70b2"/><stop offset="0.85" stop-color="#3848a0"/><stop offset="1" stop-color="#2e3370"/></linearGradient></defs>
<rect x="707.8" y="1119.4" width="24.3" height="121.3" fill="url(#cb707)"/>
<text class="c" x="747.0" y="1126.2" font-size="25.5" fill="#000">1.00</text>
<line x1="727.3" y1="1156.2" x2="732.1" y2="1156.2" stroke="#fff" stroke-width="1.2"/>
<text class="c" x="747.0" y="1164.5" font-size="25.5" fill="#000">0.95</text>
<line x1="727.3" y1="1194.5" x2="732.1" y2="1194.5" stroke="#fff" stroke-width="1.2"/>
<text class="c" x="747.0" y="1202.8" font-size="25.5" fill="#000">0.90</text>
<line x1="727.3" y1="1232.8" x2="732.1" y2="1232.8" stroke="#fff" stroke-width="1.2"/>
<text class="c" x="747.0" y="1241.1" font-size="25.5" fill="#000">0.85</text>
<rect x="1087.7" y="862.6" width="545.2" height="564.7" fill="none" stroke="#333" stroke-width="1.3"/>
<rect x="1101.00" y="876.40" width="129.80" height="134.40" fill="#2d3565" stroke="#1a1a1a" stroke-width="1.1"/>
<rect x="1230.80" y="876.40" width="129.80" height="134.40" fill="#384297" stroke="#1a1a1a" stroke-width="1.1"/>
<rect x="1360.60" y="876.40" width="129.80" height="134.40" fill="#3e6ab0" stroke="#1a1a1a" stroke-width="1.1"/>
<rect x="1490.40" y="876.40" width="129.80" height="134.40" fill="#e07527" stroke="#1a1a1a" stroke-width="1.1"/>
<rect x="1101.00" y="1010.80" width="129.80" height="134.40" fill="#cfab63" stroke="#1a1a1a" stroke-width="1.1"/>
<rect x="1230.80" y="1010.80" width="129.80" height="134.40" fill="#3d65ae" stroke="#1a1a1a" stroke-width="1.1"/>
<rect x="1360.60" y="1010.80" width="129.80" height="134.40" fill="#e07527" stroke="#1a1a1a" stroke-width="1.1"/>
<rect x="1490.40" y="1010.80" width="129.80" height="134.40" fill="#3e69b0" stroke="#1a1a1a" stroke-width="1.1"/>
<rect x="1101.00" y="1145.20" width="129.80" height="134.40" fill="#e2ac3b" stroke="#1a1a1a" stroke-width="1.1"/>
<rect x="1230.80" y="1145.20" width="129.80" height="134.40" fill="#e07527" stroke="#1a1a1a" stroke-width="1.1"/>
<rect x="1360.60" y="1145.20" width="129.80" height="134.40" fill="#3c62ac" stroke="#1a1a1a" stroke-width="1.1"/>
<rect x="1490.40" y="1145.20" width="129.80" height="134.40" fill="#384297" stroke="#1a1a1a" stroke-width="1.1"/>
<rect x="1101.00" y="1279.60" width="129.80" height="134.40" fill="#e07527" stroke="#1a1a1a" stroke-width="1.1"/>
<rect x="1230.80" y="1279.60" width="129.80" height="134.40" fill="#e2ac3b" stroke="#1a1a1a" stroke-width="1.1"/>
<rect x="1360.60" y="1279.60" width="129.80" height="134.40" fill="#cfab63" stroke="#1a1a1a" stroke-width="1.1"/>
<rect x="1490.40" y="1279.60" width="129.80" height="134.40" fill="#2d3565" stroke="#1a1a1a" stroke-width="1.1"/>
<text class="c" x="1347.0" y="841.8" font-size="26" text-anchor="middle" fill="#3c3c3c">CD8</text>
<text class="c" x="1077.0" y="956.4" font-size="25.5" text-anchor="end" fill="#3c3c3c"><tspan font-style="italic">SOX4</tspan><tspan font-size="15" dy="-8.5" dx="0.5">hi</tspan><tspan dy="8.5" dx="3.5">SP</tspan></text>
<text class="c" x="1077.0" y="1090.8" font-size="25.5" text-anchor="end" fill="#3c3c3c"><tspan font-style="italic">SOX4</tspan><tspan font-size="15" dy="-8.5" dx="0.5">lo</tspan><tspan dy="8.5" dx="3.5">SP</tspan></text>
<text class="c" x="1077.0" y="1220.7" font-size="25.5" text-anchor="end" fill="#3c3c3c">RTE</text>
<text class="c" x="1077.0" y="1352.7" font-size="25" text-anchor="end" fill="#3c3c3c">T<tspan font-size="14.5" dy="9.2" dx="1.5">N</tspan></text>
<g transform="rotate(-45 1185.4 1444.8)"><text class="c" x="1185.4" y="1444.8" font-size="25.5" text-anchor="end" fill="#3c3c3c">T<tspan font-size="15" dy="7">N</tspan></text></g>
<g transform="rotate(-45 1315.2 1444.8)"><text class="c" x="1315.2" y="1444.8" font-size="25.5" text-anchor="end" fill="#3c3c3c">RTE</text></g>
<g transform="rotate(-45 1445.0 1444.8)"><text class="c" x="1452.5" y="1450.3" font-size="25.5" text-anchor="end" fill="#3c3c3c"><tspan font-style="italic">SOX4</tspan><tspan font-size="15" dy="-8.5" dx="0.5">lo</tspan><tspan dy="8.5" dx="3.5">SP</tspan></text></g>
<g transform="rotate(-45 1574.8 1444.8)"><text class="c" x="1582.3" y="1450.3" font-size="25.5" text-anchor="end" fill="#3c3c3c"><tspan font-style="italic">SOX4</tspan><tspan font-size="15" dy="-8.5" dx="0.5">hi</tspan><tspan dy="8.5" dx="3.5">SP</tspan></text></g>
<text x="1658.5" y="1069.4" font-size="26" fill="#000">Spearman</text>
<text x="1658.5" y="1097.4" font-size="26" fill="#000">Correlation</text>
<defs><linearGradient id="cb1657" x1="0" y1="0" x2="0" y2="1"><stop offset="0" stop-color="#e07024"/><stop offset="0.30" stop-color="#e2b637"/><stop offset="0.52" stop-color="#a8959a"/><stop offset="0.66" stop-color="#3f70b2"/><stop offset="0.85" stop-color="#3848a0"/><stop offset="1" stop-color="#2e3370"/></linearGradient></defs>
<rect x="1657.6" y="1116.0" width="24.3" height="121.5" fill="url(#cb1657)"/>
<text class="c" x="1696.5" y="1122.8" font-size="25.5" fill="#000">1.00</text>
<line x1="1677.1" y1="1152.8" x2="1681.9" y2="1152.8" stroke="#fff" stroke-width="1.2"/>
<text class="c" x="1696.5" y="1161.1" font-size="25.5" fill="#000">0.95</text>
<line x1="1677.1" y1="1191.1" x2="1681.9" y2="1191.1" stroke="#fff" stroke-width="1.2"/>
<text class="c" x="1696.5" y="1199.4" font-size="25.5" fill="#000">0.90</text>
<line x1="1677.1" y1="1229.4" x2="1681.9" y2="1229.4" stroke="#fff" stroke-width="1.2"/>
<text class="c" x="1696.5" y="1237.7" font-size="25.5" fill="#000">0.85</text>
<rect x="149.0" y="1621.6" width="522.6" height="988.7" fill="none" stroke="#333" stroke-width="1.4"/>
<text class="c" x="398.0" y="1583.3" font-size="25.5" text-anchor="middle" fill="#3c3c3c">CD4</text>
<line x1="144.7" y1="1636.8" x2="149.0" y2="1636.8" stroke="#1a1a1a" stroke-width="1.8"/>
<text class="c" x="141.5" y="1645.5" font-size="25" text-anchor="end" font-style="italic" fill="#3c3c3c">CCR9</text>
<circle cx="223.4" cy="1636.8" r="6.85" fill="#e43a2a" stroke="#1c1212" stroke-width="1.45"/>
<circle cx="347.6" cy="1636.8" r="1.60" fill="#2a2a2a"/>
<circle cx="472.2" cy="1636.8" r="3.05" fill="#f0b0a0" stroke="#1c1212" stroke-width="1.45"/>
<circle cx="596.8" cy="1636.8" r="1.40" fill="#2a2a2a"/>
<line x1="144.7" y1="1662.7" x2="149.0" y2="1662.7" stroke="#1a1a1a" stroke-width="1.8"/>
<text class="c" x="141.5" y="1671.4" font-size="25" text-anchor="end" font-style="italic" fill="#3c3c3c">CCR4</text>
<circle cx="223.4" cy="1662.7" r="4.45" fill="#e43a2a" stroke="#1c1212" stroke-width="1.45"/>
<circle cx="347.6" cy="1662.7" r="2.00" fill="#2a2a2a"/>
<circle cx="472.2" cy="1662.7" r="1.80" fill="#2a2a2a"/>
<circle cx="596.8" cy="1662.7" r="1.30" fill="#2a2a2a"/>
<line x1="144.7" y1="1688.6" x2="149.0" y2="1688.6" stroke="#1a1a1a" stroke-width="1.8"/>
<text class="c" x="141.5" y="1697.3" font-size="25" text-anchor="end" font-style="italic" fill="#3c3c3c">CD38</text>
<circle cx="223.4" cy="1688.6" r="7.35" fill="#e43a2a" stroke="#1c1212" stroke-width="1.45"/>
<circle cx="347.6" cy="1688.6" r="3.75" fill="#f6cfc4" stroke="#1c1212" stroke-width="1.45"/>
<circle cx="472.2" cy="1688.6" r="6.05" fill="#eba08c" stroke="#1c1212" stroke-width="1.45"/>
<circle cx="596.8" cy="1688.6" r="3.75" fill="#f6cfc4" stroke="#1c1212" stroke-width="1.45"/>
<line x1="144.7" y1="1714.5" x2="149.0" y2="1714.5" stroke="#1a1a1a" stroke-width="1.8"/>
<text class="c" x="141.5" y="1723.2" font-size="25" text-anchor="end" font-style="italic" fill="#3c3c3c">TOX2</text>
<circle cx="223.4" cy="1714.5" r="8.35" fill="#e43a2a" stroke="#1c1212" stroke-width="1.45"/>
<circle cx="347.6" cy="1714.5" r="1.80" fill="#2a2a2a"/>
<circle cx="472.2" cy="1714.5" r="5.05" fill="#eba08c" stroke="#1c1212" stroke-width="1.45"/>
<circle cx="596.8" cy="1714.5" r="1.80" fill="#2a2a2a"/>
<line x1="144.7" y1="1740.4" x2="149.0" y2="1740.4" stroke="#1a1a1a" stroke-width="1.8"/>
<text class="c" x="141.5" y="1749.1" font-size="25" text-anchor="end" font-style="italic" fill="#3c3c3c">SOX4</text>
<circle cx="223.4" cy="1740.4" r="10.05" fill="#e43a2a" stroke="#1c1212" stroke-width="1.45"/>
<circle cx="347.6" cy="1740.4" r="2.45" fill="#f6d6cd" stroke="#1c1212" stroke-width="1.45"/>
<circle cx="472.2" cy="1740.4" r="8.35" fill="#eb9d88" stroke="#1c1212" stroke-width="1.45"/>
<circle cx="596.8" cy="1740.4" r="3.75" fill="#f6cfc4" stroke="#1c1212" stroke-width="1.45"/>
<line x1="144.7" y1="1766.3" x2="149.0" y2="1766.3" stroke="#1a1a1a" stroke-width="1.8"/>
<text class="c" x="141.5" y="1775.0" font-size="25" text-anchor="end" font-style="italic" fill="#3c3c3c">ID3</text>
<circle cx="223.4" cy="1766.3" r="9.65" fill="#e43a2a" stroke="#1c1212" stroke-width="1.45"/>
<circle cx="347.6" cy="1766.3" r="7.05" fill="#eeab9a" stroke="#1c1212" stroke-width="1.45"/>
<circle cx="472.2" cy="1766.3" r="5.75" fill="#f4c4b6" stroke="#1c1212" stroke-width="1.45"/>
<circle cx="596.8" cy="1766.3" r="4.75" fill="#f5cbbf" stroke="#1c1212" stroke-width="1.45"/>
<line x1="144.7" y1="1792.2" x2="149.0" y2="1792.2" stroke="#1a1a1a" stroke-width="1.8"/>
<text class="c" x="141.5" y="1800.9" font-size="25" text-anchor="end" font-style="italic" fill="#3c3c3c">TOX</text>
<circle cx="223.4" cy="1792.2" r="7.05" fill="#e43a2a" stroke="#1c1212" stroke-width="1.45"/>
<circle cx="347.6" cy="1792.2" r="2.45" fill="#f8e0d8" stroke="#1c1212" stroke-width="1.45"/>
<circle cx="472.2" cy="1792.2" r="5.75" fill="#eb957f" stroke="#1c1212" stroke-width="1.45"/>
<circle cx="596.8" cy="1792.2" r="3.45" fill="#f6d0c6" stroke="#1c1212" stroke-width="1.45"/>
<line x1="144.7" y1="1818.1" x2="149.0" y2="1818.1" stroke="#1a1a1a" stroke-width="1.8"/>
<text class="c" x="141.5" y="1826.8" font-size="25" text-anchor="end" font-style="italic" fill="#3c3c3c">SATB1</text>
<circle cx="223.4" cy="1818.1" r="11.05" fill="#e43a2a" stroke="#1c1212" stroke-width="1.45"/>
<circle cx="347.6" cy="1818.1" r="7.75" fill="#f4c4b6" stroke="#1c1212" stroke-width="1.45"/>
<circle cx="472.2" cy="1818.1" r="10.35" fill="#eeaa98" stroke="#1c1212" stroke-width="1.45"/>
<circle cx="596.8" cy="1818.1" r="9.35" fill="#f2bcae" stroke="#1c1212" stroke-width="1.45"/>
<line x1="144.7" y1="1843.9" x2="149.0" y2="1843.9" stroke="#1a1a1a" stroke-width="1.8"/>
<text class="c" x="141.5" y="1852.6" font-size="25" text-anchor="end" font-style="italic" fill="#3c3c3c">BCL11A</text>
<circle cx="223.4" cy="1843.9" r="5.05" fill="#e43a2a" stroke="#1c1212" stroke-width="1.45"/>
<circle cx="347.6" cy="1843.9" r="1.60" fill="#2a2a2a"/>
<circle cx="472.2" cy="1843.9" r="3.75" fill="#eb957f" stroke="#1c1212" stroke-width="1.45"/>
<circle cx="596.8" cy="1843.9" r="2.45" fill="#f6d6cd" stroke="#1c1212" stroke-width="1.45"/>
<line x1="144.7" y1="1869.8" x2="149.0" y2="1869.8" stroke="#1a1a1a" stroke-width="1.8"/>
<text class="c" x="141.5" y="1878.5" font-size="25" text-anchor="end" font-style="italic" fill="#3c3c3c">BACH2</text>
<circle cx="223.4" cy="1869.8" r="9.05" fill="#e43a2a" stroke="#1c1212" stroke-width="1.45"/>
<circle cx="347.6" cy="1869.8" r="6.05" fill="#f8dcd3" stroke="#1c1212" stroke-width="1.45"/>
<circle cx="472.2" cy="1869.8" r="8.65" fill="#eb957f" stroke="#1c1212" stroke-width="1.45"/>
<circle cx="596.8" cy="1869.8" r="7.35" fill="#f3c3b5" stroke="#1c1212" stroke-width="1.45"/>
<line x1="144.7" y1="1895.7" x2="149.0" y2="1895.7" stroke="#1a1a1a" stroke-width="1.8"/>
<text class="c" x="141.5" y="1904.4" font-size="25" text-anchor="end" font-style="italic" fill="#3c3c3c">DUSP1</text>
<circle cx="223.4" cy="1895.7" r="3.75" fill="#f0b4a4" stroke="#1c1212" stroke-width="1.45"/>
<circle cx="347.6" cy="1895.7" r="7.75" fill="#e43a2a" stroke="#1c1212" stroke-width="1.45"/>
<circle cx="472.2" cy="1895.7" r="3.05" fill="#f6cbbf" stroke="#1c1212" stroke-width="1.45"/>
<circle cx="596.8" cy="1895.7" r="4.05" fill="#f4c0b2" stroke="#1c1212" stroke-width="1.45"/>
<line x1="144.7" y1="1921.6" x2="149.0" y2="1921.6" stroke="#1a1a1a" stroke-width="1.8"/>
<text class="c" x="141.5" y="1930.3" font-size="25" text-anchor="end" font-style="italic" fill="#3c3c3c">CD69</text>
<circle cx="223.4" cy="1921.6" r="7.35" fill="#e8604a" stroke="#1c1212" stroke-width="1.45"/>
<circle cx="347.6" cy="1921.6" r="8.05" fill="#e8604a" stroke="#1c1212" stroke-width="1.45"/>
<circle cx="472.2" cy="1921.6" r="5.75" fill="#fae6e0" stroke="#1c1212" stroke-width="1.45"/>
<circle cx="596.8" cy="1921.6" r="7.05" fill="#f3c0b2" stroke="#1c1212" stroke-width="1.45"/>
<line x1="144.7" y1="1947.5" x2="149.0" y2="1947.5" stroke="#1a1a1a" stroke-width="1.8"/>
<text class="c" x="141.5" y="1956.2" font-size="25" text-anchor="end" font-style="italic" fill="#3c3c3c">GPR183</text>
<circle cx="223.4" cy="1947.5" r="4.75" fill="#f6d0c6" stroke="#1c1212" stroke-width="1.45"/>
<circle cx="347.6" cy="1947.5" r="7.35" fill="#e63c2c" stroke="#1c1212" stroke-width="1.45"/>
<circle cx="472.2" cy="1947.5" r="4.75" fill="#f9e0d8" stroke="#1c1212" stroke-width="1.45"/>
<circle cx="596.8" cy="1947.5" r="7.05" fill="#e98a72" stroke="#1c1212" stroke-width="1.45"/>
<line x1="144.7" y1="1973.4" x2="149.0" y2="1973.4" stroke="#1a1a1a" stroke-width="1.8"/>
<text class="c" x="141.5" y="1982.1" font-size="25" text-anchor="end" font-style="italic" fill="#3c3c3c">FOS</text>
<circle cx="223.4" cy="1973.4" r="4.45" fill="#eda896" stroke="#1c1212" stroke-width="1.45"/>
<circle cx="347.6" cy="1973.4" r="7.35" fill="#e43a2a" stroke="#1c1212" stroke-width="1.45"/>
<circle cx="472.2" cy="1973.4" r="2.05" fill="#f8dcd3" stroke="#1c1212" stroke-width="1.45"/>
<circle cx="596.8" cy="1973.4" r="2.75" fill="#f6d0c6" stroke="#1c1212" stroke-width="1.45"/>
<line x1="144.7" y1="1999.3" x2="149.0" y2="1999.3" stroke="#1a1a1a" stroke-width="1.8"/>
<text class="c" x="141.5" y="2008.0" font-size="25" text-anchor="end" font-style="italic" fill="#3c3c3c">JUN</text>
<circle cx="223.4" cy="1999.3" r="5.05" fill="#eca591" stroke="#1c1212" stroke-width="1.45"/>
<circle cx="347.6" cy="1999.3" r="7.35" fill="#e43a2a" stroke="#1c1212" stroke-width="1.45"/>
<circle cx="472.2" cy="1999.3" r="3.75" fill="#f2baa9" stroke="#1c1212" stroke-width="1.45"/>
<circle cx="596.8" cy="1999.3" r="3.45" fill="#f4c4b6" stroke="#1c1212" stroke-width="1.45"/>
<line x1="144.7" y1="2025.2" x2="149.0" y2="2025.2" stroke="#1a1a1a" stroke-width="1.8"/>
<text class="c" x="141.5" y="2033.9" font-size="25" text-anchor="end" font-style="italic" fill="#3c3c3c">ZFP36L2</text>
<circle cx="223.4" cy="2025.2" r="11.05" fill="#e98570" stroke="#1c1212" stroke-width="1.45"/>
<circle cx="347.6" cy="2025.2" r="11.35" fill="#e64530" stroke="#1c1212" stroke-width="1.45"/>
<circle cx="472.2" cy="2025.2" r="11.35" fill="#f3c4b7" stroke="#1c1212" stroke-width="1.45"/>
<circle cx="596.8" cy="2025.2" r="11.35" fill="#f7dbd3" stroke="#1c1212" stroke-width="1.45"/>
<line x1="144.7" y1="2051.1" x2="149.0" y2="2051.1" stroke="#1a1a1a" stroke-width="1.8"/>
<text class="c" x="141.5" y="2059.8" font-size="25" text-anchor="end" font-style="italic" fill="#3c3c3c">ZFP36L1</text>
<circle cx="223.4" cy="2051.1" r="10.35" fill="#e64530" stroke="#1c1212" stroke-width="1.45"/>
<circle cx="347.6" cy="2051.1" r="10.05" fill="#e98570" stroke="#1c1212" stroke-width="1.45"/>
<circle cx="472.2" cy="2051.1" r="10.05" fill="#efb3a3" stroke="#1c1212" stroke-width="1.45"/>
<circle cx="596.8" cy="2051.1" r="9.35" fill="#f9e4de" stroke="#1c1212" stroke-width="1.45"/>
<line x1="144.7" y1="2077.0" x2="149.0" y2="2077.0" stroke="#1a1a1a" stroke-width="1.8"/>
<text class="c" x="141.5" y="2085.7" font-size="25" text-anchor="end" font-style="italic" fill="#3c3c3c">JUNB</text>
<circle cx="223.4" cy="2077.0" r="7.35" fill="#f6d0c6" stroke="#1c1212" stroke-width="1.45"/>
<circle cx="347.6" cy="2077.0" r="9.65" fill="#e64030" stroke="#1c1212" stroke-width="1.45"/>
<circle cx="472.2" cy="2077.0" r="7.35" fill="#f7d5cc" stroke="#1c1212" stroke-width="1.45"/>
<circle cx="596.8" cy="2077.0" r="9.05" fill="#e9826b" stroke="#1c1212" stroke-width="1.45"/>
<line x1="144.7" y1="2102.9" x2="149.0" y2="2102.9" stroke="#1a1a1a" stroke-width="1.8"/>
<text class="c" x="141.5" y="2111.6" font-size="25" text-anchor="end" font-style="italic" fill="#3c3c3c">STAT4</text>
<circle cx="223.4" cy="2102.9" r="2.05" fill="#f8e0d8" stroke="#1c1212" stroke-width="1.45"/>
<circle cx="347.6" cy="2102.9" r="5.45" fill="#e43a2a" stroke="#1c1212" stroke-width="1.45"/>
<circle cx="472.2" cy="2102.9" r="2.75" fill="#f6d0c6" stroke="#1c1212" stroke-width="1.45"/>
<circle cx="596.8" cy="2102.9" r="5.05" fill="#e9826b" stroke="#1c1212" stroke-width="1.45"/>
<line x1="144.7" y1="2128.8" x2="149.0" y2="2128.8" stroke="#1a1a1a" stroke-width="1.8"/>
<text class="c" x="141.5" y="2137.5" font-size="25" text-anchor="end" font-style="italic" fill="#3c3c3c">STMN1</text>
<circle cx="223.4" cy="2128.8" r="10.35" fill="#e43a2a" stroke="#1c1212" stroke-width="1.45"/>
<circle cx="347.6" cy="2128.8" r="5.45" fill="#f6d0c6" stroke="#1c1212" stroke-width="1.45"/>
<circle cx="472.2" cy="2128.8" r="9.35" fill="#ec9a86" stroke="#1c1212" stroke-width="1.45"/>
<circle cx="596.8" cy="2128.8" r="6.75" fill="#f4c8bb" stroke="#1c1212" stroke-width="1.45"/>
<line x1="144.7" y1="2154.7" x2="149.0" y2="2154.7" stroke="#1a1a1a" stroke-width="1.8"/>
<text class="c" x="141.5" y="2163.4" font-size="25" text-anchor="end" font-style="italic" fill="#3c3c3c">MARCKSL1</text>
<circle cx="223.4" cy="2154.7" r="9.05" fill="#e8624d" stroke="#1c1212" stroke-width="1.45"/>
<circle cx="347.6" cy="2154.7" r="5.05" fill="#fae4de" stroke="#1c1212" stroke-width="1.45"/>
<circle cx="472.2" cy="2154.7" r="9.65" fill="#e8694f" stroke="#1c1212" stroke-width="1.45"/>
<circle cx="596.8" cy="2154.7" r="7.35" fill="#f2bfb1" stroke="#1c1212" stroke-width="1.45"/>
<line x1="144.7" y1="2180.6" x2="149.0" y2="2180.6" stroke="#1a1a1a" stroke-width="1.8"/>
<text class="c" x="141.5" y="2189.3" font-size="25" text-anchor="end" font-style="italic" fill="#3c3c3c">LRRN3</text>
<circle cx="223.4" cy="2180.6" r="6.75" fill="#e98570" stroke="#1c1212" stroke-width="1.45"/>
<circle cx="347.6" cy="2180.6" r="3.05" fill="#fdf6f4" stroke="#1c1212" stroke-width="1.45"/>
<circle cx="472.2" cy="2180.6" r="8.65" fill="#e64430" stroke="#1c1212" stroke-width="1.45"/>
<circle cx="596.8" cy="2180.6" r="6.75" fill="#eda08c" stroke="#1c1212" stroke-width="1.45"/>
<line x1="144.7" y1="2206.4" x2="149.0" y2="2206.4" stroke="#1a1a1a" stroke-width="1.8"/>
<text class="c" x="141.5" y="2215.1" font-size="25" text-anchor="end" font-style="italic" fill="#3c3c3c">IL2RG</text>
<circle cx="223.4" cy="2206.4" r="6.75" fill="#f4c8bb" stroke="#1c1212" stroke-width="1.45"/>
<circle cx="347.6" cy="2206.4" r="5.75" fill="#f8dcd4" stroke="#1c1212" stroke-width="1.45"/>
<circle cx="472.2" cy="2206.4" r="9.35" fill="#e64430" stroke="#1c1212" stroke-width="1.45"/>
<circle cx="596.8" cy="2206.4" r="8.65" fill="#e8735d" stroke="#1c1212" stroke-width="1.45"/>
<line x1="144.7" y1="2232.3" x2="149.0" y2="2232.3" stroke="#1a1a1a" stroke-width="1.8"/>
<text class="c" x="141.5" y="2241.0" font-size="25" text-anchor="end" font-style="italic" fill="#3c3c3c">ETS1</text>
<circle cx="223.4" cy="2232.3" r="8.35" fill="#f3c6b9" stroke="#1c1212" stroke-width="1.45"/>
<circle cx="347.6" cy="2232.3" r="7.35" fill="#f8ddd5" stroke="#1c1212" stroke-width="1.45"/>
<circle cx="472.2" cy="2232.3" r="11.05" fill="#e43a2a" stroke="#1c1212" stroke-width="1.45"/>
<circle cx="596.8" cy="2232.3" r="10.35" fill="#e97a64" stroke="#1c1212" stroke-width="1.45"/>
<line x1="144.7" y1="2258.2" x2="149.0" y2="2258.2" stroke="#1a1a1a" stroke-width="1.8"/>
<text class="c" x="141.5" y="2266.9" font-size="25" text-anchor="end" font-style="italic" fill="#3c3c3c">TCF12</text>
<circle cx="223.4" cy="2258.2" r="5.75" fill="#e97a64" stroke="#1c1212" stroke-width="1.45"/>
<circle cx="347.6" cy="2258.2" r="3.75" fill="#f9e4de" stroke="#1c1212" stroke-width="1.45"/>
<circle cx="472.2" cy="2258.2" r="7.35" fill="#e43a2a" stroke="#1c1212" stroke-width="1.45"/>
<circle cx="596.8" cy="2258.2" r="5.45" fill="#f1b8a8" stroke="#1c1212" stroke-width="1.45"/>
<line x1="144.7" y1="2284.1" x2="149.0" y2="2284.1" stroke="#1a1a1a" stroke-width="1.8"/>
<text class="c" x="141.5" y="2292.8" font-size="25" text-anchor="end" font-style="italic" fill="#3c3c3c">IKZF2</text>
<circle cx="223.4" cy="2284.1" r="4.05" fill="#e75a44" stroke="#1c1212" stroke-width="1.45"/>
<circle cx="347.6" cy="2284.1" r="2.05" fill="#fdf6f4" stroke="#1c1212" stroke-width="1.45"/>
<circle cx="472.2" cy="2284.1" r="4.75" fill="#e75540" stroke="#1c1212" stroke-width="1.45"/>
<circle cx="596.8" cy="2284.1" r="2.75" fill="#f6d0c6" stroke="#1c1212" stroke-width="1.45"/>
<line x1="144.7" y1="2310.0" x2="149.0" y2="2310.0" stroke="#1a1a1a" stroke-width="1.8"/>
<text class="c" x="141.5" y="2318.7" font-size="25" text-anchor="end" font-style="italic" fill="#3c3c3c">BCL11B</text>
<circle cx="223.4" cy="2310.0" r="8.35" fill="#e86a54" stroke="#1c1212" stroke-width="1.45"/>
<circle cx="347.6" cy="2310.0" r="7.05" fill="#fbebe6" stroke="#1c1212" stroke-width="1.45"/>
<circle cx="472.2" cy="2310.0" r="9.35" fill="#e75540" stroke="#1c1212" stroke-width="1.45"/>
<circle cx="596.8" cy="2310.0" r="8.35" fill="#f2baa9" stroke="#1c1212" stroke-width="1.45"/>
<line x1="144.7" y1="2335.9" x2="149.0" y2="2335.9" stroke="#1a1a1a" stroke-width="1.8"/>
<text class="c" x="141.5" y="2344.6" font-size="25" text-anchor="end" font-style="italic" fill="#3c3c3c">GIMAP5</text>
<circle cx="223.4" cy="2335.9" r="4.45" fill="#fbeae5" stroke="#1c1212" stroke-width="1.45"/>
<circle cx="347.6" cy="2335.9" r="6.75" fill="#f2bcad" stroke="#1c1212" stroke-width="1.45"/>
<circle cx="472.2" cy="2335.9" r="9.35" fill="#e8624d" stroke="#1c1212" stroke-width="1.45"/>
<circle cx="596.8" cy="2335.9" r="9.65" fill="#e64833" stroke="#1c1212" stroke-width="1.45"/>
<line x1="144.7" y1="2361.8" x2="149.0" y2="2361.8" stroke="#1a1a1a" stroke-width="1.8"/>
<text class="c" x="141.5" y="2370.5" font-size="25" text-anchor="end" font-style="italic" fill="#3c3c3c">ANXA1</text>
<circle cx="223.4" cy="2361.8" r="2.45" fill="#fdf6f4" stroke="#1c1212" stroke-width="1.45"/>
<circle cx="347.6" cy="2361.8" r="5.75" fill="#e97a64" stroke="#1c1212" stroke-width="1.45"/>
<circle cx="472.2" cy="2361.8" r="5.05" fill="#f1b8a8" stroke="#1c1212" stroke-width="1.45"/>
<circle cx="596.8" cy="2361.8" r="8.05" fill="#e43a2a" stroke="#1c1212" stroke-width="1.45"/>
<line x1="144.7" y1="2387.7" x2="149.0" y2="2387.7" stroke="#1a1a1a" stroke-width="1.8"/>
<text class="c" x="141.5" y="2396.4" font-size="25" text-anchor="end" font-style="italic" fill="#3c3c3c">S1PR4</text>
<circle cx="223.4" cy="2387.7" r="3.75" fill="#fdf4f2" stroke="#1c1212" stroke-width="1.45"/>
<circle cx="347.6" cy="2387.7" r="5.75" fill="#eeae9c" stroke="#1c1212" stroke-width="1.45"/>
<circle cx="472.2" cy="2387.7" r="7.35" fill="#e8644e" stroke="#1c1212" stroke-width="1.45"/>
<circle cx="596.8" cy="2387.7" r="7.75" fill="#e75540" stroke="#1c1212" stroke-width="1.45"/>
<line x1="144.7" y1="2413.6" x2="149.0" y2="2413.6" stroke="#1a1a1a" stroke-width="1.8"/>
<text class="c" x="141.5" y="2422.3" font-size="25" text-anchor="end" font-style="italic" fill="#3c3c3c">CD55</text>
<circle cx="223.4" cy="2413.6" r="4.45" fill="#f9e2db" stroke="#1c1212" stroke-width="1.45"/>
<circle cx="347.6" cy="2413.6" r="5.05" fill="#f4c6b8" stroke="#1c1212" stroke-width="1.45"/>
<circle cx="472.2" cy="2413.6" r="7.05" fill="#e86a54" stroke="#1c1212" stroke-width="1.45"/>
<circle cx="596.8" cy="2413.6" r="7.75" fill="#e64430" stroke="#1c1212" stroke-width="1.45"/>
<line x1="144.7" y1="2439.5" x2="149.0" y2="2439.5" stroke="#1a1a1a" stroke-width="1.8"/>
<text class="c" x="141.5" y="2448.2" font-size="25" text-anchor="end" font-style="italic" fill="#3c3c3c">S100A9</text>
<circle cx="223.4" cy="2439.5" r="1.70" fill="#2a2a2a"/>
<circle cx="347.6" cy="2439.5" r="1.70" fill="#2a2a2a"/>
<circle cx="472.2" cy="2439.5" r="4.75" fill="#e8644e" stroke="#1c1212" stroke-width="1.45"/>
<circle cx="596.8" cy="2439.5" r="5.05" fill="#e54030" stroke="#1c1212" stroke-width="1.45"/>
<line x1="144.7" y1="2465.4" x2="149.0" y2="2465.4" stroke="#1a1a1a" stroke-width="1.8"/>
<text class="c" x="141.5" y="2474.1" font-size="25" text-anchor="end" font-style="italic" fill="#3c3c3c">KLF3</text>
<circle cx="223.4" cy="2465.4" r="3.75" fill="#fbeae5" stroke="#1c1212" stroke-width="1.45"/>
<circle cx="347.6" cy="2465.4" r="5.05" fill="#f3c2b4" stroke="#1c1212" stroke-width="1.45"/>
<circle cx="472.2" cy="2465.4" r="7.75" fill="#e75a44" stroke="#1c1212" stroke-width="1.45"/>
<circle cx="596.8" cy="2465.4" r="7.75" fill="#e8644e" stroke="#1c1212" stroke-width="1.45"/>
<line x1="144.7" y1="2491.3" x2="149.0" y2="2491.3" stroke="#1a1a1a" stroke-width="1.8"/>
<text class="c" x="141.5" y="2500.0" font-size="25" text-anchor="end" font-style="italic" fill="#3c3c3c">JUND</text>
<circle cx="223.4" cy="2491.3" r="3.75" fill="#f5d0c5" stroke="#1c1212" stroke-width="1.45"/>
<circle cx="347.6" cy="2491.3" r="3.75" fill="#f7d6cd" stroke="#1c1212" stroke-width="1.45"/>
<circle cx="472.2" cy="2491.3" r="8.35" fill="#e54634" stroke="#1c1212" stroke-width="1.45"/>
<circle cx="596.8" cy="2491.3" r="7.75" fill="#e8735d" stroke="#1c1212" stroke-width="1.45"/>
<line x1="144.7" y1="2517.2" x2="149.0" y2="2517.2" stroke="#1a1a1a" stroke-width="1.8"/>
<text class="c" x="141.5" y="2525.9" font-size="25" text-anchor="end" font-style="italic" fill="#3c3c3c">KLF2</text>
<circle cx="223.4" cy="2517.2" r="6.75" fill="#f9e0d9" stroke="#1c1212" stroke-width="1.45"/>
<circle cx="347.6" cy="2517.2" r="9.35" fill="#f2bcad" stroke="#1c1212" stroke-width="1.45"/>
<circle cx="472.2" cy="2517.2" r="11.35" fill="#e64a34" stroke="#1c1212" stroke-width="1.45"/>
<circle cx="596.8" cy="2517.2" r="11.35" fill="#e8735d" stroke="#1c1212" stroke-width="1.45"/>
<line x1="144.7" y1="2543.1" x2="149.0" y2="2543.1" stroke="#1a1a1a" stroke-width="1.8"/>
<text class="c" x="141.5" y="2551.8" font-size="25" text-anchor="end" font-style="italic" fill="#3c3c3c">S1PR1</text>
<circle cx="223.4" cy="2543.1" r="6.05" fill="#fefcfb" stroke="#1c1212" stroke-width="1.45"/>
<circle cx="347.6" cy="2543.1" r="7.05" fill="#e8644e" stroke="#1c1212" stroke-width="1.45"/>
<circle cx="472.2" cy="2543.1" r="8.05" fill="#e8694f" stroke="#1c1212" stroke-width="1.45"/>
<circle cx="596.8" cy="2543.1" r="8.05" fill="#ea8a72" stroke="#1c1212" stroke-width="1.45"/>
<line x1="144.7" y1="2568.9" x2="149.0" y2="2568.9" stroke="#1a1a1a" stroke-width="1.8"/>
<text class="c" x="141.5" y="2577.6" font-size="25" text-anchor="end" font-style="italic" fill="#3c3c3c">LAT</text>
<circle cx="223.4" cy="2568.9" r="11.05" fill="#e43a2a" stroke="#1c1212" stroke-width="1.45"/>
<circle cx="347.6" cy="2568.9" r="9.35" fill="#efb3a3" stroke="#1c1212" stroke-width="1.45"/>
<circle cx="472.2" cy="2568.9" r="11.05" fill="#eb9d88" stroke="#1c1212" stroke-width="1.45"/>
<circle cx="596.8" cy="2568.9" r="9.65" fill="#f7d8d0" stroke="#1c1212" stroke-width="1.45"/>
<line x1="144.7" y1="2594.8" x2="149.0" y2="2594.8" stroke="#1a1a1a" stroke-width="1.8"/>
<text class="c" x="141.5" y="2603.5" font-size="25" text-anchor="end" font-style="italic" fill="#3c3c3c">S100A4</text>
<circle cx="223.4" cy="2594.8" r="4.75" fill="#f5cabd" stroke="#1c1212" stroke-width="1.45"/>
<circle cx="347.6" cy="2594.8" r="8.65" fill="#e43a2a" stroke="#1c1212" stroke-width="1.45"/>
<circle cx="472.2" cy="2594.8" r="5.75" fill="#f5cabd" stroke="#1c1212" stroke-width="1.45"/>
<circle cx="596.8" cy="2594.8" r="7.75" fill="#e98570" stroke="#1c1212" stroke-width="1.45"/>
<line x1="223.4" y1="2610.3" x2="223.4" y2="2614.6" stroke="#1a1a1a" stroke-width="1.1"/>
<g transform="rotate(-45 235.4 2631.3)"><text class="c" x="240.7" y="2634.1" font-size="26" text-anchor="end" fill="#3c3c3c"><tspan font-style="italic">SOX4</tspan><tspan font-size="16" font-style="italic" dy="-9" dx="0.5">hi</tspan><tspan dy="9" dx="3.5">SP</tspan></text></g>
<line x1="347.6" y1="2610.3" x2="347.6" y2="2614.6" stroke="#1a1a1a" stroke-width="1.1"/>
<g transform="rotate(-45 359.6 2631.3)"><text class="c" x="364.9" y="2634.1" font-size="26" text-anchor="end" fill="#3c3c3c"><tspan font-style="italic">SOX4</tspan><tspan font-size="16" font-style="italic" dy="-9" dx="0.5">lo</tspan><tspan dy="9" dx="3.5">SP</tspan></text></g>
<line x1="472.2" y1="2610.3" x2="472.2" y2="2614.6" stroke="#1a1a1a" stroke-width="1.1"/>
<g transform="rotate(-45 484.2 2631.3)"><text class="c" x="484.2" y="2631.3" font-size="26" text-anchor="end" fill="#3c3c3c">RTE</text></g>
<line x1="596.8" y1="2610.3" x2="596.8" y2="2614.6" stroke="#1a1a1a" stroke-width="1.1"/>
<g transform="rotate(-45 608.8 2631.3)"><text class="c" x="608.8" y="2631.3" font-size="26" text-anchor="end" fill="#3c3c3c">T<tspan font-size="16" dy="7"> N</tspan></text></g>
<text x="696.3" y="1965.7" font-size="26" fill="#000">% Cells</text>
<rect x="695.5" y="1981.7" width="31.1" height="108.7" fill="#efefef"/>
<circle cx="711.0" cy="1994.4" r="1.6" fill="#000"/>
<text class="c" x="770.5" y="2001.8" font-size="25.5" text-anchor="end" fill="#000">0</text>
<circle cx="711.0" cy="2019.8" r="7.9" fill="#000"/>
<text class="c" x="770.5" y="2029.0" font-size="25.5" text-anchor="end" fill="#000">25</text>
<circle cx="711.0" cy="2046.0" r="12.3" fill="#000"/>
<text class="c" x="770.5" y="2056.4" font-size="25.5" text-anchor="end" fill="#000">75</text>
<circle cx="711.0" cy="2074.9" r="13.4" fill="#000"/>
<text class="c" x="773.0" y="2083.9" font-size="25.5" text-anchor="end" fill="#000">100</text>
<text x="696.3" y="2143.5" font-size="26" fill="#000">Expression</text>
<defs><linearGradient id="eg696" x1="0" y1="0" x2="0" y2="1"><stop offset="0" stop-color="#e5352a"/><stop offset="0.5" stop-color="#eb8a78"/><stop offset="0.85" stop-color="#f7ddd6"/><stop offset="1" stop-color="#ffffff"/></linearGradient></defs>
<rect x="695.9" y="2162.0" width="23.8" height="120.0" fill="url(#eg696)"/>
<line x1="695.9" y1="2180.6" x2="700.4" y2="2180.6" stroke="#fff" stroke-width="1.2"/>
<line x1="715.2" y1="2180.6" x2="719.7" y2="2180.6" stroke="#fff" stroke-width="1.2"/>
<line x1="695.9" y1="2202.0" x2="700.4" y2="2202.0" stroke="#fff" stroke-width="1.2"/>
<line x1="715.2" y1="2202.0" x2="719.7" y2="2202.0" stroke="#fff" stroke-width="1.2"/>
<line x1="695.9" y1="2222.8" x2="700.4" y2="2222.8" stroke="#fff" stroke-width="1.2"/>
<line x1="715.2" y1="2222.8" x2="719.7" y2="2222.8" stroke="#fff" stroke-width="1.2"/>
<line x1="695.9" y1="2244.4" x2="700.4" y2="2244.4" stroke="#fff" stroke-width="1.2"/>
<line x1="715.2" y1="2244.4" x2="719.7" y2="2244.4" stroke="#fff" stroke-width="1.2"/>
<line x1="695.9" y1="2265.3" x2="700.4" y2="2265.3" stroke="#fff" stroke-width="1.2"/>
<line x1="715.2" y1="2265.3" x2="719.7" y2="2265.3" stroke="#fff" stroke-width="1.2"/>
<text class="c" x="775.0" y="2167.2" font-size="25.5" text-anchor="end" fill="#000">1.5</text>
<text class="c" x="775.0" y="2187.2" font-size="25.5" text-anchor="end" fill="#000">1.0</text>
<text class="c" x="775.0" y="2208.1" font-size="25.5" text-anchor="end" fill="#000">0.5</text>
<text class="c" x="775.0" y="2229.0" font-size="25.5" text-anchor="end" fill="#000">0.0</text>
<text class="c" x="775.0" y="2250.3" font-size="25.5" text-anchor="end" fill="#000">-0.5</text>
<text class="c" x="775.0" y="2271.0" font-size="25.5" text-anchor="end" fill="#000">-1.0</text>
<text class="c" x="775.0" y="2293.1" font-size="25.5" text-anchor="end" fill="#000">-1.5</text>
<rect x="1095.8" y="1617.8" width="522.0" height="989.7" fill="none" stroke="#333" stroke-width="1.4"/>
<text class="c" x="1347.0" y="1583.3" font-size="25.5" text-anchor="middle" fill="#3c3c3c">CD8</text>
<line x1="1091.5" y1="1634.0" x2="1095.8" y2="1634.0" stroke="#555" stroke-width="1.1"/>
<text class="c" x="1088.0" y="1642.7" font-size="25" text-anchor="end" font-style="italic" fill="#3c3c3c">CCR9</text>
<circle cx="1170.1" cy="1634.0" r="6.75" fill="#e43a2a" stroke="#1c1212" stroke-width="1.45"/>
<circle cx="1294.6" cy="1634.0" r="2.05" fill="#f6d6cd" stroke="#1c1212" stroke-width="1.45"/>
<circle cx="1418.8" cy="1634.0" r="3.75" fill="#efb3a3" stroke="#1c1212" stroke-width="1.45"/>
<circle cx="1543.5" cy="1634.0" r="1.30" fill="#2a2a2a"/>
<line x1="1091.5" y1="1660.6" x2="1095.8" y2="1660.6" stroke="#555" stroke-width="1.1"/>
<text class="c" x="1088.0" y="1669.3" font-size="25" text-anchor="end" font-style="italic" fill="#3c3c3c">CD38</text>
<circle cx="1170.1" cy="1660.6" r="8.05" fill="#e43a2a" stroke="#1c1212" stroke-width="1.45"/>
<circle cx="1294.6" cy="1660.6" r="4.45" fill="#f3c2b4" stroke="#1c1212" stroke-width="1.45"/>
<circle cx="1418.8" cy="1660.6" r="5.45" fill="#eeae9c" stroke="#1c1212" stroke-width="1.45"/>
<circle cx="1543.5" cy="1660.6" r="3.05" fill="#f6d0c6" stroke="#1c1212" stroke-width="1.45"/>
<line x1="1091.5" y1="1687.2" x2="1095.8" y2="1687.2" stroke="#555" stroke-width="1.1"/>
<text class="c" x="1088.0" y="1695.9" font-size="25" text-anchor="end" font-style="italic" fill="#3c3c3c">TOX2</text>
<circle cx="1170.1" cy="1687.2" r="8.65" fill="#e43a2a" stroke="#1c1212" stroke-width="1.45"/>
<circle cx="1294.6" cy="1687.2" r="2.05" fill="#f6d6cd" stroke="#1c1212" stroke-width="1.45"/>
<circle cx="1418.8" cy="1687.2" r="3.75" fill="#efb3a3" stroke="#1c1212" stroke-width="1.45"/>
<circle cx="1543.5" cy="1687.2" r="1.80" fill="#2a2a2a"/>
<line x1="1091.5" y1="1713.8" x2="1095.8" y2="1713.8" stroke="#555" stroke-width="1.1"/>
<text class="c" x="1088.0" y="1722.5" font-size="25" text-anchor="end" font-style="italic" fill="#3c3c3c">SOX4</text>
<circle cx="1170.1" cy="1713.8" r="10.35" fill="#e43a2a" stroke="#1c1212" stroke-width="1.45"/>
<circle cx="1294.6" cy="1713.8" r="3.75" fill="#f5cabd" stroke="#1c1212" stroke-width="1.45"/>
<circle cx="1418.8" cy="1713.8" r="8.35" fill="#eda08c" stroke="#1c1212" stroke-width="1.45"/>
<circle cx="1543.5" cy="1713.8" r="3.05" fill="#f6d0c6" stroke="#1c1212" stroke-width="1.45"/>
<line x1="1091.5" y1="1740.4" x2="1095.8" y2="1740.4" stroke="#555" stroke-width="1.1"/>
<text class="c" x="1088.0" y="1749.1" font-size="25" text-anchor="end" font-style="italic" fill="#3c3c3c">ID3</text>
<circle cx="1170.1" cy="1740.4" r="9.05" fill="#e43a2a" stroke="#1c1212" stroke-width="1.45"/>
<circle cx="1294.6" cy="1740.4" r="6.75" fill="#eda08c" stroke="#1c1212" stroke-width="1.45"/>
<circle cx="1418.8" cy="1740.4" r="5.05" fill="#f4c6b8" stroke="#1c1212" stroke-width="1.45"/>
<circle cx="1543.5" cy="1740.4" r="3.45" fill="#f6d0c6" stroke="#1c1212" stroke-width="1.45"/>
<line x1="1091.5" y1="1767.0" x2="1095.8" y2="1767.0" stroke="#555" stroke-width="1.1"/>
<text class="c" x="1088.0" y="1775.7" font-size="25" text-anchor="end" font-style="italic" fill="#3c3c3c">TOX</text>
<circle cx="1170.1" cy="1767.0" r="6.75" fill="#e43a2a" stroke="#1c1212" stroke-width="1.45"/>
<circle cx="1294.6" cy="1767.0" r="2.75" fill="#f6d0c6" stroke="#1c1212" stroke-width="1.45"/>
<circle cx="1418.8" cy="1767.0" r="5.75" fill="#eb957f" stroke="#1c1212" stroke-width="1.45"/>
<circle cx="1543.5" cy="1767.0" r="2.45" fill="#f6d6cd" stroke="#1c1212" stroke-width="1.45"/>
<line x1="1091.5" y1="1793.6" x2="1095.8" y2="1793.6" stroke="#555" stroke-width="1.1"/>
<text class="c" x="1088.0" y="1802.3" font-size="25" text-anchor="end" font-style="italic" fill="#3c3c3c">SATB1</text>
<circle cx="1170.1" cy="1793.6" r="11.05" fill="#e43a2a" stroke="#1c1212" stroke-width="1.45"/>
<circle cx="1294.6" cy="1793.6" r="8.35" fill="#f2bfb1" stroke="#1c1212" stroke-width="1.45"/>
<circle cx="1418.8" cy="1793.6" r="10.05" fill="#eeaa98" stroke="#1c1212" stroke-width="1.45"/>
<circle cx="1543.5" cy="1793.6" r="9.35" fill="#f0b7a8" stroke="#1c1212" stroke-width="1.45"/>
<line x1="1091.5" y1="1820.2" x2="1095.8" y2="1820.2" stroke="#555" stroke-width="1.1"/>
<text class="c" x="1088.0" y="1828.9" font-size="25" text-anchor="end" font-style="italic" fill="#3c3c3c">BCL11A</text>
<circle cx="1170.1" cy="1820.2" r="5.05" fill="#e43a2a" stroke="#1c1212" stroke-width="1.45"/>
<circle cx="1294.6" cy="1820.2" r="2.00" fill="#2a2a2a"/>
<circle cx="1418.8" cy="1820.2" r="4.05" fill="#eb957f" stroke="#1c1212" stroke-width="1.45"/>
<circle cx="1543.5" cy="1820.2" r="2.00" fill="#2a2a2a"/>
<line x1="1091.5" y1="1846.8" x2="1095.8" y2="1846.8" stroke="#555" stroke-width="1.1"/>
<text class="c" x="1088.0" y="1855.5" font-size="25" text-anchor="end" font-style="italic" fill="#3c3c3c">BACH2</text>
<circle cx="1170.1" cy="1846.8" r="8.65" fill="#e43a2a" stroke="#1c1212" stroke-width="1.45"/>
<circle cx="1294.6" cy="1846.8" r="7.05" fill="#f4c8bb" stroke="#1c1212" stroke-width="1.45"/>
<circle cx="1418.8" cy="1846.8" r="8.65" fill="#eb9d88" stroke="#1c1212" stroke-width="1.45"/>
<circle cx="1543.5" cy="1846.8" r="7.75" fill="#f4c8bb" stroke="#1c1212" stroke-width="1.45"/>
<line x1="1091.5" y1="1873.4" x2="1095.8" y2="1873.4" stroke="#555" stroke-width="1.1"/>
<text class="c" x="1088.0" y="1882.1" font-size="25" text-anchor="end" font-style="italic" fill="#3c3c3c">DUSP1</text>
<circle cx="1170.1" cy="1873.4" r="3.45" fill="#f5cabd" stroke="#1c1212" stroke-width="1.45"/>
<circle cx="1294.6" cy="1873.4" r="8.35" fill="#e43a2a" stroke="#1c1212" stroke-width="1.45"/>
<circle cx="1418.8" cy="1873.4" r="3.45" fill="#f6d0c6" stroke="#1c1212" stroke-width="1.45"/>
<circle cx="1543.5" cy="1873.4" r="5.05" fill="#f0b4a4" stroke="#1c1212" stroke-width="1.45"/>
<line x1="1091.5" y1="1900.0" x2="1095.8" y2="1900.0" stroke="#555" stroke-width="1.1"/>
<text class="c" x="1088.0" y="1908.7" font-size="25" text-anchor="end" font-style="italic" fill="#3c3c3c">CD69</text>
<circle cx="1170.1" cy="1900.0" r="7.35" fill="#e8553f" stroke="#1c1212" stroke-width="1.45"/>
<circle cx="1294.6" cy="1900.0" r="8.05" fill="#e8644e" stroke="#1c1212" stroke-width="1.45"/>
<circle cx="1418.8" cy="1900.0" r="5.45" fill="#fbeeea" stroke="#1c1212" stroke-width="1.45"/>
<circle cx="1543.5" cy="1900.0" r="6.75" fill="#f0b7a8" stroke="#1c1212" stroke-width="1.45"/>
<line x1="1091.5" y1="1926.6" x2="1095.8" y2="1926.6" stroke="#555" stroke-width="1.1"/>
<text class="c" x="1088.0" y="1935.3" font-size="25" text-anchor="end" font-style="italic" fill="#3c3c3c">GPR183</text>
<circle cx="1170.1" cy="1926.6" r="2.00" fill="#2a2a2a"/>
<circle cx="1294.6" cy="1926.6" r="4.05" fill="#e43a2a" stroke="#1c1212" stroke-width="1.45"/>
<circle cx="1418.8" cy="1926.6" r="2.00" fill="#2a2a2a"/>
<circle cx="1543.5" cy="1926.6" r="3.05" fill="#ee9f8b" stroke="#1c1212" stroke-width="1.45"/>
<line x1="1091.5" y1="1953.2" x2="1095.8" y2="1953.2" stroke="#555" stroke-width="1.1"/>
<text class="c" x="1088.0" y="1961.9" font-size="25" text-anchor="end" font-style="italic" fill="#3c3c3c">FOS</text>
<circle cx="1170.1" cy="1953.2" r="4.75" fill="#eeac9a" stroke="#1c1212" stroke-width="1.45"/>
<circle cx="1294.6" cy="1953.2" r="8.05" fill="#e43a2a" stroke="#1c1212" stroke-width="1.45"/>
<circle cx="1418.8" cy="1953.2" r="2.75" fill="#f6d0c6" stroke="#1c1212" stroke-width="1.45"/>
<circle cx="1543.5" cy="1953.2" r="3.45" fill="#f6d0c6" stroke="#1c1212" stroke-width="1.45"/>
<line x1="1091.5" y1="1979.8" x2="1095.8" y2="1979.8" stroke="#555" stroke-width="1.1"/>
<text class="c" x="1088.0" y="1988.5" font-size="25" text-anchor="end" font-style="italic" fill="#3c3c3c">JUN</text>
<circle cx="1170.1" cy="1979.8" r="5.75" fill="#eea693" stroke="#1c1212" stroke-width="1.45"/>
<circle cx="1294.6" cy="1979.8" r="8.05" fill="#e43a2a" stroke="#1c1212" stroke-width="1.45"/>
<circle cx="1418.8" cy="1979.8" r="5.05" fill="#f4c4b6" stroke="#1c1212" stroke-width="1.45"/>
<circle cx="1543.5" cy="1979.8" r="4.45" fill="#f6d0c6" stroke="#1c1212" stroke-width="1.45"/>
<line x1="1091.5" y1="2006.4" x2="1095.8" y2="2006.4" stroke="#555" stroke-width="1.1"/>
<text class="c" x="1088.0" y="2015.1" font-size="25" text-anchor="end" font-style="italic" fill="#3c3c3c">ZFP36L2</text>
<circle cx="1170.1" cy="2006.4" r="11.35" fill="#e87760" stroke="#1c1212" stroke-width="1.45"/>
<circle cx="1294.6" cy="2006.4" r="11.65" fill="#e74e38" stroke="#1c1212" stroke-width="1.45"/>
<circle cx="1418.8" cy="2006.4" r="11.35" fill="#f8ddd5" stroke="#1c1212" stroke-width="1.45"/>
<circle cx="1543.5" cy="2006.4" r="11.35" fill="#f3c3b5" stroke="#1c1212" stroke-width="1.45"/>
<line x1="1091.5" y1="2033.0" x2="1095.8" y2="2033.0" stroke="#555" stroke-width="1.1"/>
<text class="c" x="1088.0" y="2041.7" font-size="25" text-anchor="end" font-style="italic" fill="#3c3c3c">ZFP36L1</text>
<circle cx="1170.1" cy="2033.0" r="10.35" fill="#e75a44" stroke="#1c1212" stroke-width="1.45"/>
<circle cx="1294.6" cy="2033.0" r="10.35" fill="#e8735d" stroke="#1c1212" stroke-width="1.45"/>
<circle cx="1418.8" cy="2033.0" r="10.35" fill="#efb3a3" stroke="#1c1212" stroke-width="1.45"/>
<circle cx="1543.5" cy="2033.0" r="9.35" fill="#f9ece8" stroke="#1c1212" stroke-width="1.45"/>
<line x1="1091.5" y1="2059.6" x2="1095.8" y2="2059.6" stroke="#555" stroke-width="1.1"/>
<text class="c" x="1088.0" y="2068.3" font-size="25" text-anchor="end" font-style="italic" fill="#3c3c3c">JUNB</text>
<circle cx="1170.1" cy="2059.6" r="7.05" fill="#f5cabd" stroke="#1c1212" stroke-width="1.45"/>
<circle cx="1294.6" cy="2059.6" r="10.35" fill="#e54634" stroke="#1c1212" stroke-width="1.45"/>
<circle cx="1418.8" cy="2059.6" r="7.75" fill="#f8ddd5" stroke="#1c1212" stroke-width="1.45"/>
<circle cx="1543.5" cy="2059.6" r="9.35" fill="#e98570" stroke="#1c1212" stroke-width="1.45"/>
<line x1="1091.5" y1="2086.1" x2="1095.8" y2="2086.1" stroke="#555" stroke-width="1.1"/>
<text class="c" x="1088.0" y="2094.8" font-size="25" text-anchor="end" font-style="italic" fill="#3c3c3c">STAT4</text>
<circle cx="1170.1" cy="2086.1" r="2.75" fill="#fdf6f4" stroke="#1c1212" stroke-width="1.45"/>
<circle cx="1294.6" cy="2086.1" r="6.35" fill="#e75540" stroke="#1c1212" stroke-width="1.45"/>
<circle cx="1418.8" cy="2086.1" r="5.45" fill="#f1b8a8" stroke="#1c1212" stroke-width="1.45"/>
<circle cx="1543.5" cy="2086.1" r="6.75" fill="#e86a54" stroke="#1c1212" stroke-width="1.45"/>
<line x1="1091.5" y1="2112.7" x2="1095.8" y2="2112.7" stroke="#555" stroke-width="1.1"/>
<text class="c" x="1088.0" y="2121.4" font-size="25" text-anchor="end" font-style="italic" fill="#3c3c3c">STMN1</text>
<circle cx="1170.1" cy="2112.7" r="11.35" fill="#e43a2a" stroke="#1c1212" stroke-width="1.45"/>
<circle cx="1294.6" cy="2112.7" r="6.05" fill="#f4c6b8" stroke="#1c1212" stroke-width="1.45"/>
<circle cx="1418.8" cy="2112.7" r="9.35" fill="#eba18d" stroke="#1c1212" stroke-width="1.45"/>
<circle cx="1543.5" cy="2112.7" r="6.75" fill="#f4c6b8" stroke="#1c1212" stroke-width="1.45"/>
<line x1="1091.5" y1="2139.3" x2="1095.8" y2="2139.3" stroke="#555" stroke-width="1.1"/>
<text class="c" x="1088.0" y="2148.0" font-size="25" text-anchor="end" font-style="italic" fill="#3c3c3c">MARCKSL1</text>
<circle cx="1170.1" cy="2139.3" r="8.35" fill="#e64030" stroke="#1c1212" stroke-width="1.45"/>
<circle cx="1294.6" cy="2139.3" r="5.05" fill="#f8ddd5" stroke="#1c1212" stroke-width="1.45"/>
<circle cx="1418.8" cy="2139.3" r="8.65" fill="#e98570" stroke="#1c1212" stroke-width="1.45"/>
<circle cx="1543.5" cy="2139.3" r="5.75" fill="#f5cdc2" stroke="#1c1212" stroke-width="1.45"/>
<line x1="1091.5" y1="2165.9" x2="1095.8" y2="2165.9" stroke="#555" stroke-width="1.1"/>
<text class="c" x="1088.0" y="2174.6" font-size="25" text-anchor="end" font-style="italic" fill="#3c3c3c">LRRN3</text>
<circle cx="1170.1" cy="2165.9" r="8.05" fill="#e87760" stroke="#1c1212" stroke-width="1.45"/>
<circle cx="1294.6" cy="2165.9" r="5.45" fill="#fcf0ed" stroke="#1c1212" stroke-width="1.45"/>
<circle cx="1418.8" cy="2165.9" r="10.05" fill="#e64833" stroke="#1c1212" stroke-width="1.45"/>
<circle cx="1543.5" cy="2165.9" r="8.35" fill="#efaa98" stroke="#1c1212" stroke-width="1.45"/>
<line x1="1091.5" y1="2192.5" x2="1095.8" y2="2192.5" stroke="#555" stroke-width="1.1"/>
<text class="c" x="1088.0" y="2201.2" font-size="25" text-anchor="end" font-style="italic" fill="#3c3c3c">IL2RG</text>
<circle cx="1170.1" cy="2192.5" r="6.75" fill="#f3c2b4" stroke="#1c1212" stroke-width="1.45"/>
<circle cx="1294.6" cy="2192.5" r="6.05" fill="#f9e0d9" stroke="#1c1212" stroke-width="1.45"/>
<circle cx="1418.8" cy="2192.5" r="10.35" fill="#e54030" stroke="#1c1212" stroke-width="1.45"/>
<circle cx="1543.5" cy="2192.5" r="8.65" fill="#e98570" stroke="#1c1212" stroke-width="1.45"/>
<line x1="1091.5" y1="2219.1" x2="1095.8" y2="2219.1" stroke="#555" stroke-width="1.1"/>
<text class="c" x="1088.0" y="2227.8" font-size="25" text-anchor="end" font-style="italic" fill="#3c3c3c">ETS1</text>
<circle cx="1170.1" cy="2219.1" r="8.35" fill="#f4cabd" stroke="#1c1212" stroke-width="1.45"/>
<circle cx="1294.6" cy="2219.1" r="8.35" fill="#f8ddd5" stroke="#1c1212" stroke-width="1.45"/>
<circle cx="1418.8" cy="2219.1" r="11.05" fill="#e54030" stroke="#1c1212" stroke-width="1.45"/>
<circle cx="1543.5" cy="2219.1" r="10.35" fill="#e87760" stroke="#1c1212" stroke-width="1.45"/>
<line x1="1091.5" y1="2245.7" x2="1095.8" y2="2245.7" stroke="#555" stroke-width="1.1"/>
<text class="c" x="1088.0" y="2254.4" font-size="25" text-anchor="end" font-style="italic" fill="#3c3c3c">TCF12</text>
<circle cx="1170.1" cy="2245.7" r="5.75" fill="#e8644e" stroke="#1c1212" stroke-width="1.45"/>
<circle cx="1294.6" cy="2245.7" r="4.05" fill="#f9e4de" stroke="#1c1212" stroke-width="1.45"/>
<circle cx="1418.8" cy="2245.7" r="7.05" fill="#e64833" stroke="#1c1212" stroke-width="1.45"/>
<circle cx="1543.5" cy="2245.7" r="5.45" fill="#f2c0b2" stroke="#1c1212" stroke-width="1.45"/>
<line x1="1091.5" y1="2272.3" x2="1095.8" y2="2272.3" stroke="#555" stroke-width="1.1"/>
<text class="c" x="1088.0" y="2281.0" font-size="25" text-anchor="end" font-style="italic" fill="#3c3c3c">IKZF2</text>
<circle cx="1170.1" cy="2272.3" r="4.75" fill="#e8644e" stroke="#1c1212" stroke-width="1.45"/>
<circle cx="1294.6" cy="2272.3" r="2.45" fill="#fdf6f4" stroke="#1c1212" stroke-width="1.45"/>
<circle cx="1418.8" cy="2272.3" r="6.05" fill="#e75540" stroke="#1c1212" stroke-width="1.45"/>
<circle cx="1543.5" cy="2272.3" r="3.75" fill="#f2bcad" stroke="#1c1212" stroke-width="1.45"/>
<line x1="1091.5" y1="2298.9" x2="1095.8" y2="2298.9" stroke="#555" stroke-width="1.1"/>
<text class="c" x="1088.0" y="2307.6" font-size="25" text-anchor="end" font-style="italic" fill="#3c3c3c">GIMAP5</text>
<circle cx="1170.1" cy="2298.9" r="2.75" fill="#fdf6f4" stroke="#1c1212" stroke-width="1.45"/>
<circle cx="1294.6" cy="2298.9" r="6.05" fill="#f2bcad" stroke="#1c1212" stroke-width="1.45"/>
<circle cx="1418.8" cy="2298.9" r="9.35" fill="#e8644e" stroke="#1c1212" stroke-width="1.45"/>
<circle cx="1543.5" cy="2298.9" r="9.05" fill="#e75540" stroke="#1c1212" stroke-width="1.45"/>
<line x1="1091.5" y1="2325.5" x2="1095.8" y2="2325.5" stroke="#555" stroke-width="1.1"/>
<text class="c" x="1088.0" y="2334.2" font-size="25" text-anchor="end" font-style="italic" fill="#3c3c3c">ANXA1</text>
<circle cx="1170.1" cy="2325.5" r="2.00" fill="#2a2a2a"/>
<circle cx="1294.6" cy="2325.5" r="4.75" fill="#e54634" stroke="#1c1212" stroke-width="1.45"/>
<circle cx="1418.8" cy="2325.5" r="2.75" fill="#f6d0c6" stroke="#1c1212" stroke-width="1.45"/>
<circle cx="1543.5" cy="2325.5" r="5.05" fill="#e8644e" stroke="#1c1212" stroke-width="1.45"/>
<line x1="1091.5" y1="2352.1" x2="1095.8" y2="2352.1" stroke="#555" stroke-width="1.1"/>
<text class="c" x="1088.0" y="2360.8" font-size="25" text-anchor="end" font-style="italic" fill="#3c3c3c">S1PR4</text>
<circle cx="1170.1" cy="2352.1" r="3.45" fill="#fefcfb" stroke="#1c1212" stroke-width="1.45"/>
<circle cx="1294.6" cy="2352.1" r="6.35" fill="#eb907a" stroke="#1c1212" stroke-width="1.45"/>
<circle cx="1418.8" cy="2352.1" r="8.05" fill="#e86a54" stroke="#1c1212" stroke-width="1.45"/>
<circle cx="1543.5" cy="2352.1" r="8.05" fill="#e86a54" stroke="#1c1212" stroke-width="1.45"/>
<line x1="1091.5" y1="2378.7" x2="1095.8" y2="2378.7" stroke="#555" stroke-width="1.1"/>
<text class="c" x="1088.0" y="2387.4" font-size="25" text-anchor="end" font-style="italic" fill="#3c3c3c">CD55</text>
<circle cx="1170.1" cy="2378.7" r="5.45" fill="#fefcfb" stroke="#1c1212" stroke-width="1.45"/>
<circle cx="1294.6" cy="2378.7" r="7.35" fill="#eb907a" stroke="#1c1212" stroke-width="1.45"/>
<circle cx="1418.8" cy="2378.7" r="8.65" fill="#e98570" stroke="#1c1212" stroke-width="1.45"/>
<circle cx="1543.5" cy="2378.7" r="9.05" fill="#e75540" stroke="#1c1212" stroke-width="1.45"/>
<line x1="1091.5" y1="2405.3" x2="1095.8" y2="2405.3" stroke="#555" stroke-width="1.1"/>
<text class="c" x="1088.0" y="2414.0" font-size="25" text-anchor="end" font-style="italic" fill="#3c3c3c">S100A9</text>
<circle cx="1170.1" cy="2405.3" r="1.70" fill="#2a2a2a"/>
<circle cx="1294.6" cy="2405.3" r="1.70" fill="#2a2a2a"/>
<circle cx="1418.8" cy="2405.3" r="4.05" fill="#eb907a" stroke="#1c1212" stroke-width="1.45"/>
<circle cx="1543.5" cy="2405.3" r="4.75" fill="#e54030" stroke="#1c1212" stroke-width="1.45"/>
<line x1="1091.5" y1="2431.9" x2="1095.8" y2="2431.9" stroke="#555" stroke-width="1.1"/>
<text class="c" x="1088.0" y="2440.6" font-size="25" text-anchor="end" font-style="italic" fill="#3c3c3c">KLF3</text>
<circle cx="1170.1" cy="2431.9" r="2.05" fill="#fefcfb" stroke="#1c1212" stroke-width="1.45"/>
<circle cx="1294.6" cy="2431.9" r="5.05" fill="#eea693" stroke="#1c1212" stroke-width="1.45"/>
<circle cx="1418.8" cy="2431.9" r="6.35" fill="#e8735d" stroke="#1c1212" stroke-width="1.45"/>
<circle cx="1543.5" cy="2431.9" r="6.75" fill="#e8644e" stroke="#1c1212" stroke-width="1.45"/>
<line x1="1091.5" y1="2458.5" x2="1095.8" y2="2458.5" stroke="#555" stroke-width="1.1"/>
<text class="c" x="1088.0" y="2467.2" font-size="25" text-anchor="end" font-style="italic" fill="#3c3c3c">JUND</text>
<circle cx="1170.1" cy="2458.5" r="3.75" fill="#f8dcd4" stroke="#1c1212" stroke-width="1.45"/>
<circle cx="1294.6" cy="2458.5" r="3.45" fill="#f6d0c6" stroke="#1c1212" stroke-width="1.45"/>
<circle cx="1418.8" cy="2458.5" r="9.05" fill="#e64030" stroke="#1c1212" stroke-width="1.45"/>
<circle cx="1543.5" cy="2458.5" r="7.35" fill="#e87760" stroke="#1c1212" stroke-width="1.45"/>
<line x1="1091.5" y1="2485.1" x2="1095.8" y2="2485.1" stroke="#555" stroke-width="1.1"/>
<text class="c" x="1088.0" y="2493.8" font-size="25" text-anchor="end" font-style="italic" fill="#3c3c3c">KLF2</text>
<circle cx="1170.1" cy="2485.1" r="5.05" fill="#fbe8e3" stroke="#1c1212" stroke-width="1.45"/>
<circle cx="1294.6" cy="2485.1" r="9.05" fill="#f2bcad" stroke="#1c1212" stroke-width="1.45"/>
<circle cx="1418.8" cy="2485.1" r="11.35" fill="#e64833" stroke="#1c1212" stroke-width="1.45"/>
<circle cx="1543.5" cy="2485.1" r="10.65" fill="#e8735d" stroke="#1c1212" stroke-width="1.45"/>
<line x1="1091.5" y1="2511.7" x2="1095.8" y2="2511.7" stroke="#555" stroke-width="1.1"/>
<text class="c" x="1088.0" y="2520.4" font-size="25" text-anchor="end" font-style="italic" fill="#3c3c3c">S1PR1</text>
<circle cx="1170.1" cy="2511.7" r="5.05" fill="#fefcfb" stroke="#1c1212" stroke-width="1.45"/>
<circle cx="1294.6" cy="2511.7" r="8.05" fill="#e64833" stroke="#1c1212" stroke-width="1.45"/>
<circle cx="1418.8" cy="2511.7" r="8.35" fill="#ea8a72" stroke="#1c1212" stroke-width="1.45"/>
<circle cx="1543.5" cy="2511.7" r="8.05" fill="#ea8a72" stroke="#1c1212" stroke-width="1.45"/>
<line x1="1091.5" y1="2538.3" x2="1095.8" y2="2538.3" stroke="#555" stroke-width="1.1"/>
<text class="c" x="1088.0" y="2547.0" font-size="25" text-anchor="end" font-style="italic" fill="#3c3c3c">LAT</text>
<circle cx="1170.1" cy="2538.3" r="11.35" fill="#e43a2a" stroke="#1c1212" stroke-width="1.45"/>
<circle cx="1294.6" cy="2538.3" r="9.65" fill="#f0b4a4" stroke="#1c1212" stroke-width="1.45"/>
<circle cx="1418.8" cy="2538.3" r="10.65" fill="#eba18d" stroke="#1c1212" stroke-width="1.45"/>
<circle cx="1543.5" cy="2538.3" r="9.65" fill="#f7d8d0" stroke="#1c1212" stroke-width="1.45"/>
<line x1="1091.5" y1="2564.9" x2="1095.8" y2="2564.9" stroke="#555" stroke-width="1.1"/>
<text class="c" x="1088.0" y="2573.6" font-size="25" text-anchor="end" font-style="italic" fill="#3c3c3c">S100A4</text>
<circle cx="1170.1" cy="2564.9" r="4.75" fill="#fae4de" stroke="#1c1212" stroke-width="1.45"/>
<circle cx="1294.6" cy="2564.9" r="9.35" fill="#e43a2a" stroke="#1c1212" stroke-width="1.45"/>
<circle cx="1418.8" cy="2564.9" r="7.05" fill="#f4c6b8" stroke="#1c1212" stroke-width="1.45"/>
<circle cx="1543.5" cy="2564.9" r="8.05" fill="#e87760" stroke="#1c1212" stroke-width="1.45"/>
<line x1="1091.5" y1="2591.5" x2="1095.8" y2="2591.5" stroke="#555" stroke-width="1.1"/>
<text class="c" x="1088.0" y="2600.2" font-size="25" text-anchor="end" font-style="italic" fill="#3c3c3c">S100A6</text>
<circle cx="1170.1" cy="2591.5" r="8.65" fill="#fefcfb" stroke="#1c1212" stroke-width="1.45"/>
<circle cx="1294.6" cy="2591.5" r="10.65" fill="#e8735d" stroke="#1c1212" stroke-width="1.45"/>
<circle cx="1418.8" cy="2591.5" r="10.65" fill="#eb907a" stroke="#1c1212" stroke-width="1.45"/>
<circle cx="1543.5" cy="2591.5" r="10.65" fill="#e86a54" stroke="#1c1212" stroke-width="1.45"/>
<line x1="1170.1" y1="2607.5" x2="1170.1" y2="2611.8" stroke="#555" stroke-width="1.1"/>
<g transform="rotate(-45 1190.6 2631.5)"><text class="c" x="1190.6" y="2634.3" font-size="26" text-anchor="end" fill="#3c3c3c"><tspan font-style="italic">SOX4</tspan><tspan font-size="16" font-style="italic" dy="-9" dx="0.5">hi</tspan><tspan dy="9" dx="3.5">SP</tspan></text></g>
<line x1="1294.6" y1="2607.5" x2="1294.6" y2="2611.8" stroke="#555" stroke-width="1.1"/>
<g transform="rotate(-45 1315.1 2631.5)"><text class="c" x="1315.1" y="2634.3" font-size="26" text-anchor="end" fill="#3c3c3c"><tspan font-style="italic">SOX4</tspan><tspan font-size="16" font-style="italic" dy="-9" dx="0.5">lo</tspan><tspan dy="9" dx="3.5">SP</tspan></text></g>
<line x1="1418.8" y1="2607.5" x2="1418.8" y2="2611.8" stroke="#555" stroke-width="1.1"/>
<g transform="rotate(-45 1439.3 2631.5)"><text class="c" x="1439.3" y="2631.5" font-size="26" text-anchor="end" fill="#3c3c3c">RTE</text></g>
<line x1="1543.5" y1="2607.5" x2="1543.5" y2="2611.8" stroke="#555" stroke-width="1.1"/>
<g transform="rotate(-45 1564.0 2631.5)"><text class="c" x="1564.0" y="2631.5" font-size="26" text-anchor="end" fill="#3c3c3c">T<tspan font-size="16" dy="7"> N</tspan></text></g>
<text x="1644.4" y="1962.1" font-size="26" fill="#000">% Cells</text>
<rect x="1643.1" y="1978.9" width="30.2" height="108.2" fill="#efefef"/>
<circle cx="1658.1" cy="1991.5" r="1.6" fill="#000"/>
<text class="c" x="1725.5" y="1999.7" font-size="25.5" text-anchor="end" fill="#000">0</text>
<circle cx="1658.1" cy="2016.3" r="7.8" fill="#000"/>
<text class="c" x="1725.5" y="2027.5" font-size="25.5" text-anchor="end" fill="#000">25</text>
<circle cx="1658.1" cy="2043.0" r="11.9" fill="#000"/>
<text class="c" x="1725.5" y="2054.4" font-size="25.5" text-anchor="end" fill="#000">75</text>
<circle cx="1658.1" cy="2072.1" r="13.7" fill="#000"/>
<text class="c" x="1728.0" y="2080.9" font-size="25.5" text-anchor="end" fill="#000">100</text>
<text x="1644.4" y="2140.8" font-size="26" fill="#000">Expression</text>
<defs><linearGradient id="eg1644" x1="0" y1="0" x2="0" y2="1"><stop offset="0" stop-color="#e5352a"/><stop offset="0.5" stop-color="#eb8a78"/><stop offset="0.85" stop-color="#f7ddd6"/><stop offset="1" stop-color="#ffffff"/></linearGradient></defs>
<rect x="1642.8" y="2159.4" width="24.0" height="120.6" fill="url(#eg1644)"/>
<line x1="1642.8" y1="2178.4" x2="1647.3" y2="2178.4" stroke="#fff" stroke-width="1.2"/>
<line x1="1662.3" y1="2178.4" x2="1666.8" y2="2178.4" stroke="#fff" stroke-width="1.2"/>
<line x1="1642.8" y1="2199.1" x2="1647.3" y2="2199.1" stroke="#fff" stroke-width="1.2"/>
<line x1="1662.3" y1="2199.1" x2="1666.8" y2="2199.1" stroke="#fff" stroke-width="1.2"/>
<line x1="1642.8" y1="2220.0" x2="1647.3" y2="2220.0" stroke="#fff" stroke-width="1.2"/>
<line x1="1662.3" y1="2220.0" x2="1666.8" y2="2220.0" stroke="#fff" stroke-width="1.2"/>
<line x1="1642.8" y1="2241.1" x2="1647.3" y2="2241.1" stroke="#fff" stroke-width="1.2"/>
<line x1="1662.3" y1="2241.1" x2="1666.8" y2="2241.1" stroke="#fff" stroke-width="1.2"/>
<line x1="1642.8" y1="2262.4" x2="1647.3" y2="2262.4" stroke="#fff" stroke-width="1.2"/>
<line x1="1662.3" y1="2262.4" x2="1666.8" y2="2262.4" stroke="#fff" stroke-width="1.2"/>
<text class="c" x="1729.0" y="2164.8" font-size="25.5" text-anchor="end" fill="#000">1.5</text>
<text class="c" x="1729.0" y="2185.8" font-size="25.5" text-anchor="end" fill="#000">1.0</text>
<text class="c" x="1729.0" y="2206.8" font-size="25.5" text-anchor="end" fill="#000">0.5</text>
<text class="c" x="1729.0" y="2227.8" font-size="25.5" text-anchor="end" fill="#000">0.0</text>
<text class="c" x="1729.0" y="2248.8" font-size="25.5" text-anchor="end" fill="#000">-0.5</text>
<text class="c" x="1729.0" y="2269.8" font-size="25.5" text-anchor="end" fill="#000">-1.0</text>
<text class="c" x="1729.0" y="2290.7" font-size="25.5" text-anchor="end" fill="#000">-1.5</text>
<text x="2.5" y="27.5" font-size="37" font-weight="bold" fill="#000">a</text>
<text x="952.0" y="27.5" font-size="37" font-weight="bold" fill="#000">b</text>
<text x="2.5" y="826.0" font-size="37" font-weight="bold" fill="#000">c</text>
<text x="951.0" y="826.5" font-size="37" font-weight="bold" fill="#000">d</text>
<text x="1.5" y="1562.5" font-size="37" font-weight="bold" fill="#000">e</text>
<text x="951.5" y="1562.5" font-size="37" font-weight="bold" fill="#000">f</text>
</svg></body></html>
